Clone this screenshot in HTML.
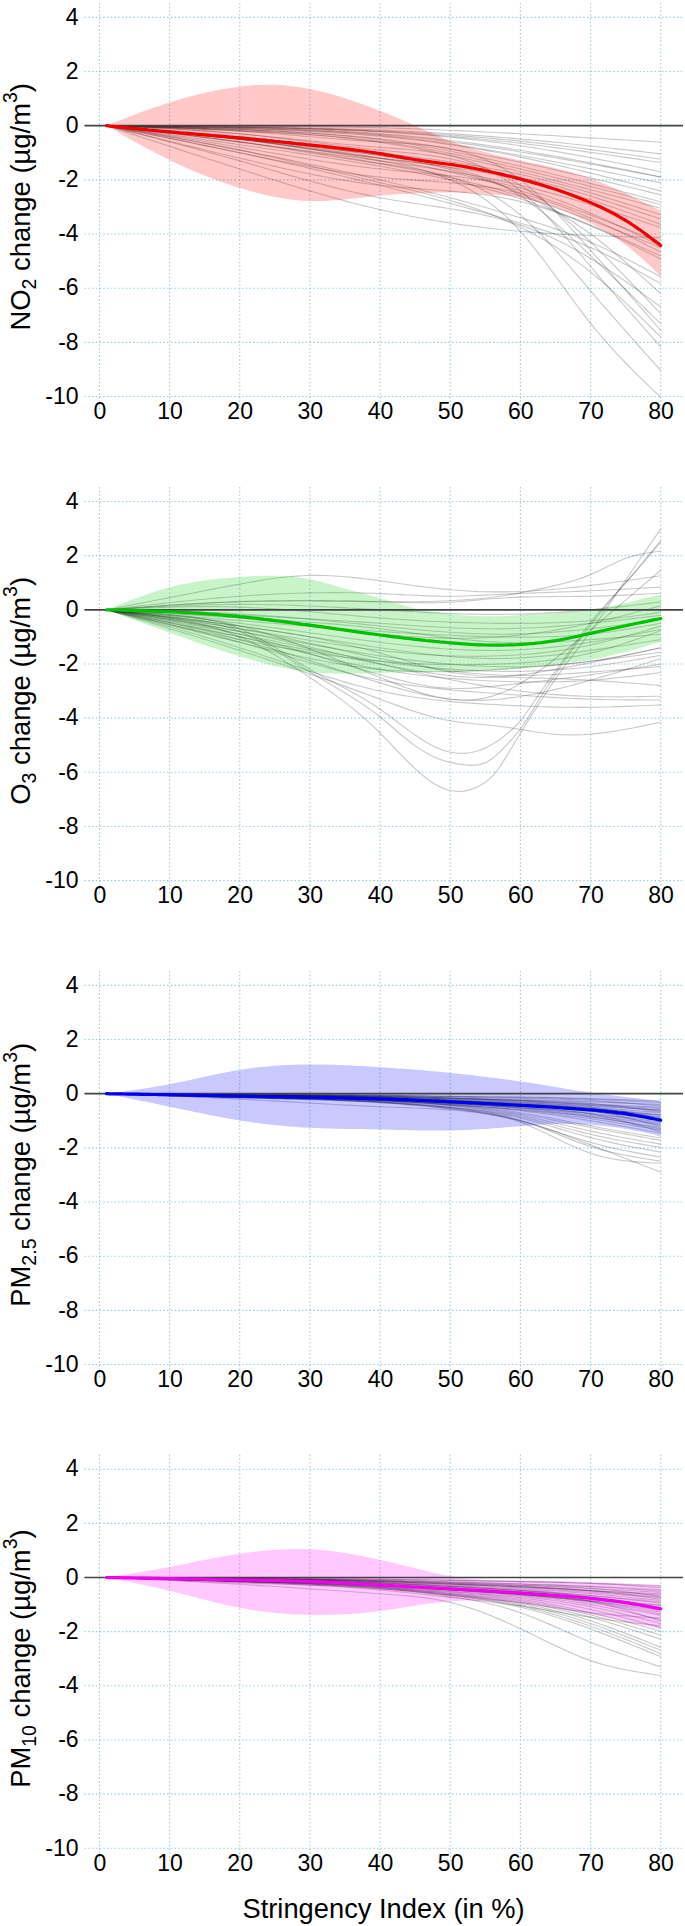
<!DOCTYPE html>
<html><head><meta charset="utf-8"><style>
html,body{margin:0;padding:0;background:#fff;width:685px;height:1926px;overflow:hidden}
svg{display:block}
</style></head><body><svg width="685" height="1926" viewBox="0 0 685 1926"><g stroke="#9ccbe2" stroke-width="1.1" stroke-dasharray="1.5 2.25" fill="none"><line x1="84.5" y1="17.38" x2="682" y2="17.38"/><line x1="84.5" y1="71.54" x2="682" y2="71.54"/><line x1="84.5" y1="125.70" x2="682" y2="125.70"/><line x1="84.5" y1="179.86" x2="682" y2="179.86"/><line x1="84.5" y1="234.02" x2="682" y2="234.02"/><line x1="84.5" y1="288.18" x2="682" y2="288.18"/><line x1="84.5" y1="342.34" x2="682" y2="342.34"/><line x1="84.5" y1="396.50" x2="682" y2="396.50"/><line x1="99.45" y1="2.98" x2="99.45" y2="411.50"/><line x1="169.61" y1="2.98" x2="169.61" y2="411.50"/><line x1="239.77" y1="2.98" x2="239.77" y2="411.50"/><line x1="309.93" y1="2.98" x2="309.93" y2="411.50"/><line x1="380.09" y1="2.98" x2="380.09" y2="411.50"/><line x1="450.25" y1="2.98" x2="450.25" y2="411.50"/><line x1="520.41" y1="2.98" x2="520.41" y2="411.50"/><line x1="590.57" y1="2.98" x2="590.57" y2="411.50"/><line x1="660.73" y1="2.98" x2="660.73" y2="411.50"/></g><g fill="none" stroke="#000" stroke-opacity="0.21" stroke-width="1.15" stroke-linejoin="round"><polyline points="106.5,125.7 113.5,125.7 120.5,125.8 127.5,125.8 134.5,125.9 141.5,125.9 148.6,125.9 155.6,126.0 162.6,126.0 169.6,126.1 176.6,126.1 183.6,126.1 190.7,126.2 197.7,126.2 204.7,126.2 211.7,126.3 218.7,126.3 225.7,126.3 232.8,126.3 239.8,126.4 246.8,126.4 253.8,126.4 260.8,126.5 267.8,126.5 274.9,126.5 281.9,126.5 288.9,126.6 295.9,126.6 302.9,126.7 309.9,126.7 316.9,126.8 324.0,126.9 331.0,126.9 338.0,127.0 345.0,127.1 352.0,127.2 359.0,127.4 366.1,127.5 373.1,127.6 380.1,127.8 387.1,128.0 394.1,128.2 401.1,128.4 408.2,128.6 415.2,128.9 422.2,129.1 429.2,129.4 436.2,129.7 443.2,130.0 450.2,130.3 457.3,130.6 464.3,130.9 471.3,131.3 478.3,131.6 485.3,132.0 492.3,132.3 499.4,132.7 506.4,133.1 513.4,133.4 520.4,133.8 527.4,134.2 534.4,134.6 541.5,135.0 548.5,135.4 555.5,135.8 562.5,136.2 569.5,136.6 576.5,137.1 583.6,137.5 590.6,137.9 597.6,138.3 604.6,138.8 611.6,139.2 618.6,139.6 625.7,140.0 632.7,140.5 639.7,140.9 646.7,141.3 653.7,141.8 660.7,142.2"/><polyline points="106.5,125.7 113.5,125.8 120.5,125.8 127.5,125.9 134.5,126.0 141.5,126.0 148.6,126.1 155.6,126.2 162.6,126.2 169.6,126.3 176.6,126.4 183.6,126.4 190.7,126.5 197.7,126.6 204.7,126.7 211.7,126.7 218.7,126.8 225.7,126.9 232.8,127.0 239.8,127.1 246.8,127.1 253.8,127.2 260.8,127.3 267.8,127.4 274.9,127.5 281.9,127.6 288.9,127.7 295.9,127.9 302.9,128.0 309.9,128.1 316.9,128.3 324.0,128.4 331.0,128.6 338.0,128.8 345.0,129.0 352.0,129.2 359.0,129.4 366.1,129.6 373.1,129.9 380.1,130.1 387.1,130.4 394.1,130.7 401.1,131.0 408.2,131.3 415.2,131.7 422.2,132.0 429.2,132.4 436.2,132.8 443.2,133.2 450.2,133.7 457.3,134.1 464.3,134.6 471.3,135.1 478.3,135.6 485.3,136.1 492.3,136.6 499.4,137.2 506.4,137.8 513.4,138.4 520.4,139.0 527.4,139.6 534.4,140.2 541.5,140.9 548.5,141.6 555.5,142.3 562.5,143.0 569.5,143.7 576.5,144.5 583.6,145.2 590.6,146.0 597.6,146.7 604.6,147.5 611.6,148.3 618.6,149.1 625.7,149.9 632.7,150.6 639.7,151.4 646.7,152.3 653.7,153.1 660.7,153.9"/><polyline points="106.5,125.7 113.5,125.8 120.5,125.8 127.5,125.9 134.5,125.9 141.5,126.0 148.6,126.0 155.6,126.1 162.6,126.2 169.6,126.2 176.6,126.3 183.6,126.4 190.7,126.4 197.7,126.5 204.7,126.6 211.7,126.7 218.7,126.8 225.7,126.9 232.8,126.9 239.8,127.1 246.8,127.2 253.8,127.3 260.8,127.4 267.8,127.5 274.9,127.7 281.9,127.8 288.9,128.0 295.9,128.1 302.9,128.3 309.9,128.5 316.9,128.7 324.0,128.9 331.0,129.1 338.0,129.3 345.0,129.6 352.0,129.8 359.0,130.1 366.1,130.4 373.1,130.7 380.1,131.0 387.1,131.3 394.1,131.6 401.1,132.0 408.2,132.4 415.2,132.8 422.2,133.2 429.2,133.6 436.2,134.1 443.2,134.5 450.2,135.0 457.3,135.5 464.3,136.1 471.3,136.6 478.3,137.2 485.3,137.8 492.3,138.4 499.4,139.1 506.4,139.7 513.4,140.4 520.4,141.1 527.4,141.9 534.4,142.7 541.5,143.4 548.5,144.3 555.5,145.1 562.5,146.0 569.5,146.8 576.5,147.7 583.6,148.6 590.6,149.6 597.6,150.5 604.6,151.4 611.6,152.4 618.6,153.4 625.7,154.3 632.7,155.3 639.7,156.3 646.7,157.3 653.7,158.3 660.7,159.3"/><polyline points="106.5,125.7 113.5,125.8 120.5,125.8 127.5,125.9 134.5,126.0 141.5,126.1 148.6,126.1 155.6,126.2 162.6,126.3 169.6,126.4 176.6,126.5 183.6,126.5 190.7,126.6 197.7,126.7 204.7,126.8 211.7,126.9 218.7,127.0 225.7,127.1 232.8,127.2 239.8,127.3 246.8,127.4 253.8,127.6 260.8,127.7 267.8,127.8 274.9,127.9 281.9,128.1 288.9,128.2 295.9,128.4 302.9,128.6 309.9,128.8 316.9,129.0 324.0,129.2 331.0,129.4 338.0,129.7 345.0,129.9 352.0,130.2 359.0,130.5 366.1,130.8 373.1,131.2 380.1,131.5 387.1,131.9 394.1,132.3 401.1,132.7 408.2,133.2 415.2,133.6 422.2,134.1 429.2,134.6 436.2,135.2 443.2,135.7 450.2,136.3 457.3,136.9 464.3,137.5 471.3,138.2 478.3,138.8 485.3,139.5 492.3,140.2 499.4,141.0 506.4,141.7 513.4,142.5 520.4,143.3 527.4,144.1 534.4,145.0 541.5,145.8 548.5,146.7 555.5,147.6 562.5,148.5 569.5,149.5 576.5,150.4 583.6,151.4 590.6,152.4 597.6,153.3 604.6,154.3 611.6,155.3 618.6,156.4 625.7,157.4 632.7,158.4 639.7,159.4 646.7,160.5 653.7,161.5 660.7,162.5"/><polyline points="106.5,125.7 113.5,125.8 120.5,125.8 127.5,125.9 134.5,126.0 141.5,126.1 148.6,126.1 155.6,126.2 162.6,126.3 169.6,126.4 176.6,126.4 183.6,126.5 190.7,126.6 197.7,126.7 204.7,126.8 211.7,126.9 218.7,127.0 225.7,127.1 232.8,127.2 239.8,127.3 246.8,127.4 253.8,127.6 260.8,127.7 267.8,127.8 274.9,128.0 281.9,128.1 288.9,128.3 295.9,128.5 302.9,128.7 309.9,128.9 316.9,129.1 324.0,129.3 331.0,129.6 338.0,129.8 345.0,130.1 352.0,130.4 359.0,130.7 366.1,131.1 373.1,131.5 380.1,131.8 387.1,132.3 394.1,132.7 401.1,133.2 408.2,133.7 415.2,134.2 422.2,134.7 429.2,135.3 436.2,135.9 443.2,136.5 450.2,137.2 457.3,137.9 464.3,138.6 471.3,139.4 478.3,140.2 485.3,141.0 492.3,141.9 499.4,142.8 506.4,143.7 513.4,144.7 520.4,145.7 527.4,146.8 534.4,147.9 541.5,149.0 548.5,150.2 555.5,151.4 562.5,152.6 569.5,153.9 576.5,155.1 583.6,156.4 590.6,157.8 597.6,159.1 604.6,160.5 611.6,161.8 618.6,163.2 625.7,164.6 632.7,166.0 639.7,167.5 646.7,168.9 653.7,170.3 660.7,171.7"/><polyline points="106.5,125.7 113.5,125.8 120.5,125.9 127.5,126.0 134.5,126.1 141.5,126.1 148.6,126.2 155.6,126.3 162.6,126.4 169.6,126.5 176.6,126.6 183.6,126.7 190.7,126.8 197.7,127.0 204.7,127.1 211.7,127.2 218.7,127.3 225.7,127.4 232.8,127.6 239.8,127.7 246.8,127.9 253.8,128.0 260.8,128.2 267.8,128.4 274.9,128.6 281.9,128.8 288.9,129.0 295.9,129.2 302.9,129.5 309.9,129.7 316.9,130.0 324.0,130.3 331.0,130.6 338.0,131.0 345.0,131.4 352.0,131.8 359.0,132.2 366.1,132.6 373.1,133.1 380.1,133.6 387.1,134.2 394.1,134.8 401.1,135.4 408.2,136.0 415.2,136.7 422.2,137.4 429.2,138.1 436.2,138.9 443.2,139.7 450.2,140.5 457.3,141.3 464.3,142.2 471.3,143.1 478.3,144.1 485.3,145.0 492.3,146.0 499.4,147.1 506.4,148.1 513.4,149.2 520.4,150.3 527.4,151.5 534.4,152.7 541.5,153.9 548.5,155.1 555.5,156.3 562.5,157.6 569.5,158.9 576.5,160.2 583.6,161.5 590.6,162.9 597.6,164.2 604.6,165.6 611.6,167.0 618.6,168.4 625.7,169.8 632.7,171.2 639.7,172.6 646.7,174.0 653.7,175.5 660.7,176.9"/><polyline points="106.5,125.7 113.5,125.8 120.5,126.0 127.5,126.1 134.5,126.2 141.5,126.4 148.6,126.5 155.6,126.6 162.6,126.8 169.6,126.9 176.6,127.1 183.6,127.2 190.7,127.3 197.7,127.5 204.7,127.6 211.7,127.8 218.7,127.9 225.7,128.1 232.8,128.2 239.8,128.4 246.8,128.6 253.8,128.7 260.8,128.9 267.8,129.1 274.9,129.3 281.9,129.5 288.9,129.7 295.9,129.9 302.9,130.2 309.9,130.5 316.9,130.7 324.0,131.1 331.0,131.4 338.0,131.7 345.0,132.1 352.0,132.5 359.0,133.0 366.1,133.5 373.1,134.0 380.1,134.5 387.1,135.1 394.1,135.7 401.1,136.3 408.2,137.0 415.2,137.8 422.2,138.5 429.2,139.3 436.2,140.1 443.2,140.9 450.2,141.8 457.3,142.7 464.3,143.6 471.3,144.6 478.3,145.6 485.3,146.6 492.3,147.6 499.4,148.7 506.4,149.8 513.4,150.8 520.4,152.0 527.4,153.1 534.4,154.3 541.5,155.4 548.5,156.6 555.5,157.8 562.5,159.1 569.5,160.3 576.5,161.5 583.6,162.8 590.6,164.1 597.6,165.3 604.6,166.6 611.6,167.9 618.6,169.2 625.7,170.5 632.7,171.9 639.7,173.2 646.7,174.5 653.7,175.8 660.7,177.2"/><polyline points="106.5,125.7 113.5,125.8 120.5,126.0 127.5,126.1 134.5,126.2 141.5,126.3 148.6,126.5 155.6,126.6 162.6,126.7 169.6,126.9 176.6,127.0 183.6,127.2 190.7,127.3 197.7,127.5 204.7,127.6 211.7,127.8 218.7,127.9 225.7,128.1 232.8,128.2 239.8,128.4 246.8,128.6 253.8,128.8 260.8,129.0 267.8,129.2 274.9,129.4 281.9,129.6 288.9,129.8 295.9,130.1 302.9,130.4 309.9,130.7 316.9,131.0 324.0,131.4 331.0,131.8 338.0,132.2 345.0,132.6 352.0,133.1 359.0,133.6 366.1,134.2 373.1,134.8 380.1,135.4 387.1,136.1 394.1,136.8 401.1,137.6 408.2,138.4 415.2,139.2 422.2,140.1 429.2,141.0 436.2,141.9 443.2,142.9 450.2,143.9 457.3,145.0 464.3,146.1 471.3,147.1 478.3,148.3 485.3,149.4 492.3,150.6 499.4,151.8 506.4,153.0 513.4,154.2 520.4,155.5 527.4,156.8 534.4,158.0 541.5,159.3 548.5,160.6 555.5,162.0 562.5,163.3 569.5,164.7 576.5,166.0 583.6,167.4 590.6,168.8 597.6,170.1 604.6,171.5 611.6,172.9 618.6,174.3 625.7,175.7 632.7,177.2 639.7,178.6 646.7,180.0 653.7,181.4 660.7,182.8"/><polyline points="106.5,125.7 113.5,125.9 120.5,126.0 127.5,126.2 134.5,126.4 141.5,126.5 148.6,126.7 155.6,126.9 162.6,127.1 169.6,127.2 176.6,127.4 183.6,127.6 190.7,127.8 197.7,127.9 204.7,128.1 211.7,128.3 218.7,128.5 225.7,128.7 232.8,128.9 239.8,129.1 246.8,129.3 253.8,129.5 260.8,129.7 267.8,129.9 274.9,130.2 281.9,130.4 288.9,130.7 295.9,131.0 302.9,131.3 309.9,131.6 316.9,131.9 324.0,132.3 331.0,132.7 338.0,133.1 345.0,133.5 352.0,134.0 359.0,134.5 366.1,135.1 373.1,135.6 380.1,136.3 387.1,136.9 394.1,137.6 401.1,138.4 408.2,139.2 415.2,140.0 422.2,140.8 429.2,141.7 436.2,142.7 443.2,143.7 450.2,144.7 457.3,145.8 464.3,146.9 471.3,148.0 478.3,149.2 485.3,150.4 492.3,151.7 499.4,153.0 506.4,154.3 513.4,155.7 520.4,157.1 527.4,158.6 534.4,160.1 541.5,161.6 548.5,163.1 555.5,164.7 562.5,166.4 569.5,168.0 576.5,169.7 583.6,171.4 590.6,173.1 597.6,174.8 604.6,176.6 611.6,178.3 618.6,180.1 625.7,181.9 632.7,183.7 639.7,185.5 646.7,187.3 653.7,189.1 660.7,191.0"/><polyline points="106.5,125.7 113.5,125.9 120.5,126.1 127.5,126.3 134.5,126.5 141.5,126.7 148.6,126.9 155.6,127.1 162.6,127.3 169.6,127.5 176.6,127.7 183.6,127.9 190.7,128.1 197.7,128.3 204.7,128.6 211.7,128.8 218.7,129.0 225.7,129.3 232.8,129.5 239.8,129.8 246.8,130.0 253.8,130.3 260.8,130.6 267.8,130.9 274.9,131.2 281.9,131.5 288.9,131.9 295.9,132.2 302.9,132.6 309.9,133.0 316.9,133.5 324.0,133.9 331.0,134.4 338.0,135.0 345.0,135.5 352.0,136.1 359.0,136.8 366.1,137.4 373.1,138.2 380.1,138.9 387.1,139.7 394.1,140.6 401.1,141.5 408.2,142.4 415.2,143.4 422.2,144.4 429.2,145.5 436.2,146.6 443.2,147.7 450.2,148.9 457.3,150.1 464.3,151.3 471.3,152.6 478.3,153.9 485.3,155.2 492.3,156.6 499.4,157.9 506.4,159.4 513.4,160.8 520.4,162.3 527.4,163.7 534.4,165.2 541.5,166.8 548.5,168.3 555.5,169.9 562.5,171.5 569.5,173.1 576.5,174.7 583.6,176.3 590.6,177.9 597.6,179.6 604.6,181.2 611.6,182.9 618.6,184.6 625.7,186.3 632.7,188.0 639.7,189.7 646.7,191.4 653.7,193.1 660.7,194.8"/><polyline points="106.5,125.7 113.5,125.9 120.5,126.1 127.5,126.3 134.5,126.5 141.5,126.7 148.6,126.8 155.6,127.0 162.6,127.2 169.6,127.4 176.6,127.7 183.6,127.9 190.7,128.1 197.7,128.3 204.7,128.5 211.7,128.8 218.7,129.0 225.7,129.2 232.8,129.5 239.8,129.8 246.8,130.0 253.8,130.3 260.8,130.6 267.8,130.9 274.9,131.2 281.9,131.6 288.9,131.9 295.9,132.3 302.9,132.8 309.9,133.2 316.9,133.7 324.0,134.2 331.0,134.7 338.0,135.3 345.0,135.9 352.0,136.6 359.0,137.3 366.1,138.1 373.1,138.9 380.1,139.8 387.1,140.7 394.1,141.7 401.1,142.7 408.2,143.8 415.2,144.9 422.2,146.1 429.2,147.3 436.2,148.5 443.2,149.8 450.2,151.2 457.3,152.6 464.3,154.0 471.3,155.4 478.3,156.9 485.3,158.4 492.3,159.9 499.4,161.5 506.4,163.1 513.4,164.7 520.4,166.3 527.4,168.0 534.4,169.6 541.5,171.3 548.5,173.0 555.5,174.8 562.5,176.5 569.5,178.2 576.5,180.0 583.6,181.8 590.6,183.6 597.6,185.4 604.6,187.2 611.6,189.0 618.6,190.8 625.7,192.6 632.7,194.4 639.7,196.3 646.7,198.1 653.7,200.0 660.7,201.8"/><polyline points="106.5,125.7 113.5,126.0 120.5,126.3 127.5,126.5 134.5,126.8 141.5,127.1 148.6,127.4 155.6,127.6 162.6,127.9 169.6,128.2 176.6,128.5 183.6,128.8 190.7,129.1 197.7,129.3 204.7,129.6 211.7,129.9 218.7,130.2 225.7,130.5 232.8,130.8 239.8,131.1 246.8,131.4 253.8,131.7 260.8,132.1 267.8,132.4 274.9,132.7 281.9,133.1 288.9,133.5 295.9,133.9 302.9,134.3 309.9,134.8 316.9,135.3 324.0,135.8 331.0,136.3 338.0,136.9 345.0,137.6 352.0,138.3 359.0,139.0 366.1,139.8 373.1,140.6 380.1,141.5 387.1,142.5 394.1,143.5 401.1,144.6 408.2,145.7 415.2,146.9 422.2,148.1 429.2,149.4 436.2,150.7 443.2,152.0 450.2,153.4 457.3,154.9 464.3,156.3 471.3,157.8 478.3,159.3 485.3,160.9 492.3,162.5 499.4,164.1 506.4,165.7 513.4,167.4 520.4,169.0 527.4,170.7 534.4,172.4 541.5,174.1 548.5,175.8 555.5,177.6 562.5,179.3 569.5,181.1 576.5,182.8 583.6,184.6 590.6,186.4 597.6,188.2 604.6,190.0 611.6,191.8 618.6,193.6 625.7,195.4 632.7,197.2 639.7,199.0 646.7,200.9 653.7,202.7 660.7,204.5"/><polyline points="106.5,125.7 113.5,125.9 120.5,126.1 127.5,126.3 134.5,126.6 141.5,126.8 148.6,127.0 155.6,127.2 162.6,127.5 169.6,127.7 176.6,127.9 183.6,128.2 190.7,128.4 197.7,128.7 204.7,129.0 211.7,129.2 218.7,129.5 225.7,129.8 232.8,130.1 239.8,130.4 246.8,130.8 253.8,131.1 260.8,131.5 267.8,131.9 274.9,132.3 281.9,132.7 288.9,133.1 295.9,133.6 302.9,134.1 309.9,134.7 316.9,135.2 324.0,135.8 331.0,136.5 338.0,137.2 345.0,137.9 352.0,138.7 359.0,139.6 366.1,140.5 373.1,141.4 380.1,142.4 387.1,143.5 394.1,144.6 401.1,145.8 408.2,147.0 415.2,148.3 422.2,149.6 429.2,150.9 436.2,152.4 443.2,153.8 450.2,155.3 457.3,156.8 464.3,158.4 471.3,160.0 478.3,161.6 485.3,163.2 492.3,164.9 499.4,166.6 506.4,168.3 513.4,170.0 520.4,171.7 527.4,173.5 534.4,175.3 541.5,177.0 548.5,178.8 555.5,180.6 562.5,182.4 569.5,184.2 576.5,186.0 583.6,187.9 590.6,189.7 597.6,191.5 604.6,193.4 611.6,195.2 618.6,197.1 625.7,199.0 632.7,200.8 639.7,202.7 646.7,204.6 653.7,206.4 660.7,208.3"/><polyline points="106.5,125.7 113.5,126.2 120.5,126.7 127.5,127.2 134.5,127.7 141.5,128.3 148.6,128.8 155.6,129.3 162.6,129.9 169.6,130.4 176.6,131.0 183.6,131.5 190.7,132.1 197.7,132.7 204.7,133.3 211.7,133.9 218.7,134.5 225.7,135.2 232.8,135.8 239.8,136.5 246.8,137.2 253.8,138.0 260.8,138.7 267.8,139.4 274.9,140.2 281.9,141.0 288.9,141.8 295.9,142.6 302.9,143.4 309.9,144.2 316.9,145.1 324.0,145.9 331.0,146.8 338.0,147.6 345.0,148.5 352.0,149.3 359.0,150.2 366.1,151.1 373.1,151.9 380.1,152.8 387.1,153.6 394.1,154.5 401.1,155.4 408.2,156.3 415.2,157.1 422.2,158.0 429.2,159.0 436.2,159.9 443.2,160.9 450.2,161.9 457.3,162.9 464.3,164.0 471.3,165.1 478.3,166.3 485.3,167.5 492.3,168.8 499.4,170.1 506.4,171.5 513.4,172.9 520.4,174.4 527.4,176.0 534.4,177.7 541.5,179.4 548.5,181.2 555.5,183.0 562.5,184.9 569.5,186.8 576.5,188.8 583.6,190.8 590.6,192.9 597.6,194.9 604.6,197.1 611.6,199.2 618.6,201.4 625.7,203.6 632.7,205.8 639.7,208.1 646.7,210.3 653.7,212.5 660.7,214.8"/><polyline points="106.5,125.7 113.5,126.3 120.5,126.9 127.5,127.4 134.5,128.0 141.5,128.6 148.6,129.2 155.6,129.8 162.6,130.4 169.6,131.0 176.6,131.6 183.6,132.3 190.7,132.9 197.7,133.6 204.7,134.3 211.7,134.9 218.7,135.7 225.7,136.4 232.8,137.1 239.8,137.9 246.8,138.7 253.8,139.5 260.8,140.3 267.8,141.1 274.9,142.0 281.9,142.8 288.9,143.7 295.9,144.6 302.9,145.5 309.9,146.4 316.9,147.3 324.0,148.2 331.0,149.1 338.0,150.1 345.0,151.0 352.0,151.9 359.0,152.8 366.1,153.7 373.1,154.6 380.1,155.5 387.1,156.4 394.1,157.2 401.1,158.1 408.2,159.0 415.2,159.9 422.2,160.8 429.2,161.7 436.2,162.6 443.2,163.6 450.2,164.6 457.3,165.6 464.3,166.7 471.3,167.8 478.3,169.0 485.3,170.2 492.3,171.4 499.4,172.8 506.4,174.2 513.4,175.6 520.4,177.2 527.4,178.8 534.4,180.5 541.5,182.2 548.5,184.0 555.5,185.9 562.5,187.9 569.5,189.9 576.5,191.9 583.6,194.0 590.6,196.2 597.6,198.4 604.6,200.6 611.6,202.8 618.6,205.1 625.7,207.4 632.7,209.7 639.7,212.1 646.7,214.4 653.7,216.8 660.7,219.1"/><polyline points="106.5,125.7 113.5,126.3 120.5,127.0 127.5,127.6 134.5,128.3 141.5,128.9 148.6,129.6 155.6,130.3 162.6,130.9 169.6,131.6 176.6,132.3 183.6,133.0 190.7,133.7 197.7,134.5 204.7,135.2 211.7,136.0 218.7,136.8 225.7,137.6 232.8,138.4 239.8,139.2 246.8,140.1 253.8,141.0 260.8,141.9 267.8,142.8 274.9,143.8 281.9,144.7 288.9,145.7 295.9,146.6 302.9,147.6 309.9,148.6 316.9,149.6 324.0,150.6 331.0,151.5 338.0,152.5 345.0,153.5 352.0,154.5 359.0,155.4 366.1,156.4 373.1,157.3 380.1,158.2 387.1,159.1 394.1,160.0 401.1,160.9 408.2,161.7 415.2,162.6 422.2,163.5 429.2,164.4 436.2,165.3 443.2,166.3 450.2,167.2 457.3,168.2 464.3,169.3 471.3,170.4 478.3,171.6 485.3,172.8 492.3,174.0 499.4,175.4 506.4,176.8 513.4,178.3 520.4,179.9 527.4,181.5 534.4,183.3 541.5,185.1 548.5,187.0 555.5,189.0 562.5,191.0 569.5,193.2 576.5,195.3 583.6,197.5 590.6,199.8 597.6,202.1 604.6,204.5 611.6,206.9 618.6,209.3 625.7,211.8 632.7,214.2 639.7,216.7 646.7,219.2 653.7,221.8 660.7,224.3"/><polyline points="106.5,125.7 113.5,126.5 120.5,127.4 127.5,128.2 134.5,129.0 141.5,129.9 148.6,130.7 155.6,131.6 162.6,132.4 169.6,133.3 176.6,134.1 183.6,135.0 190.7,135.8 197.7,136.7 204.7,137.5 211.7,138.4 218.7,139.3 225.7,140.2 232.8,141.1 239.8,141.9 246.8,142.8 253.8,143.8 260.8,144.7 267.8,145.6 274.9,146.5 281.9,147.4 288.9,148.4 295.9,149.3 302.9,150.3 309.9,151.2 316.9,152.2 324.0,153.1 331.0,154.1 338.0,155.0 345.0,156.0 352.0,157.0 359.0,158.0 366.1,158.9 373.1,159.9 380.1,160.9 387.1,161.9 394.1,162.9 401.1,163.9 408.2,164.9 415.2,165.9 422.2,167.0 429.2,168.0 436.2,169.1 443.2,170.2 450.2,171.4 457.3,172.6 464.3,173.8 471.3,175.0 478.3,176.3 485.3,177.7 492.3,179.1 499.4,180.6 506.4,182.1 513.4,183.6 520.4,185.3 527.4,187.0 534.4,188.7 541.5,190.6 548.5,192.4 555.5,194.4 562.5,196.4 569.5,198.4 576.5,200.5 583.6,202.6 590.6,204.7 597.6,206.9 604.6,209.1 611.6,211.4 618.6,213.6 625.7,215.9 632.7,218.2 639.7,220.5 646.7,222.9 653.7,225.2 660.7,227.5"/><polyline points="106.5,125.7 113.5,128.0 120.5,130.3 127.5,132.6 134.5,134.9 141.5,137.2 148.6,139.5 155.6,141.7 162.6,144.0 169.6,146.3 176.6,148.6 183.6,150.9 190.7,153.2 197.7,155.4 204.7,157.7 211.7,160.0 218.7,162.2 225.7,164.5 232.8,166.8 239.8,169.0 246.8,171.3 253.8,173.5 260.8,175.8 267.8,178.0 274.9,180.2 281.9,182.4 288.9,184.6 295.9,186.7 302.9,188.8 309.9,190.9 316.9,193.0 324.0,195.0 331.0,197.0 338.0,198.9 345.0,200.9 352.0,202.7 359.0,204.5 366.1,206.3 373.1,208.0 380.1,209.6 387.1,211.2 394.1,212.8 401.1,214.3 408.2,215.7 415.2,217.0 422.2,218.3 429.2,219.6 436.2,220.8 443.2,221.9 450.2,223.0 457.3,224.1 464.3,225.1 471.3,226.0 478.3,226.9 485.3,227.8 492.3,228.6 499.4,229.3 506.4,230.0 513.4,230.7 520.4,231.3 527.4,231.9 534.4,232.4 541.5,232.9 548.5,233.4 555.5,233.8 562.5,234.2 569.5,234.6 576.5,234.9 583.6,235.2 590.6,235.5 597.6,235.8 604.6,236.0 611.6,236.2 618.6,236.5 625.7,236.7 632.7,236.8 639.7,237.0 646.7,237.2 653.7,237.4 660.7,237.5"/><polyline points="106.5,125.7 113.5,126.4 120.5,127.1 127.5,127.7 134.5,128.4 141.5,129.1 148.6,129.8 155.6,130.5 162.6,131.2 169.6,131.9 176.6,132.6 183.6,133.3 190.7,134.0 197.7,134.7 204.7,135.5 211.7,136.2 218.7,137.0 225.7,137.7 232.8,138.5 239.8,139.2 246.8,140.0 253.8,140.8 260.8,141.6 267.8,142.4 274.9,143.3 281.9,144.1 288.9,145.0 295.9,145.9 302.9,146.8 309.9,147.7 316.9,148.6 324.0,149.6 331.0,150.6 338.0,151.6 345.0,152.6 352.0,153.7 359.0,154.8 366.1,155.9 373.1,157.0 380.1,158.2 387.1,159.4 394.1,160.7 401.1,161.9 408.2,163.2 415.2,164.6 422.2,166.0 429.2,167.4 436.2,168.9 443.2,170.4 450.2,172.0 457.3,173.6 464.3,175.3 471.3,177.0 478.3,178.8 485.3,180.6 492.3,182.5 499.4,184.5 506.4,186.5 513.4,188.6 520.4,190.7 527.4,192.9 534.4,195.1 541.5,197.5 548.5,199.8 555.5,202.3 562.5,204.7 569.5,207.3 576.5,209.8 583.6,212.4 590.6,215.1 597.6,217.7 604.6,220.4 611.6,223.2 618.6,225.9 625.7,228.7 632.7,231.5 639.7,234.3 646.7,237.1 653.7,239.9 660.7,242.7"/><polyline points="106.5,125.7 113.5,126.8 120.5,127.9 127.5,129.0 134.5,130.2 141.5,131.3 148.6,132.4 155.6,133.5 162.6,134.6 169.6,135.8 176.6,136.9 183.6,138.0 190.7,139.2 197.7,140.3 204.7,141.5 211.7,142.6 218.7,143.8 225.7,145.0 232.8,146.2 239.8,147.4 246.8,148.6 253.8,149.8 260.8,151.0 267.8,152.2 274.9,153.4 281.9,154.6 288.9,155.8 295.9,157.0 302.9,158.1 309.9,159.3 316.9,160.4 324.0,161.5 331.0,162.6 338.0,163.6 345.0,164.6 352.0,165.6 359.0,166.5 366.1,167.4 373.1,168.2 380.1,169.0 387.1,169.8 394.1,170.5 401.1,171.1 408.2,171.8 415.2,172.4 422.2,173.0 429.2,173.7 436.2,174.4 443.2,175.1 450.2,175.8 457.3,176.6 464.3,177.5 471.3,178.4 478.3,179.4 485.3,180.6 492.3,181.8 499.4,183.1 506.4,184.6 513.4,186.2 520.4,188.0 527.4,189.9 534.4,192.0 541.5,194.2 548.5,196.5 555.5,199.0 562.5,201.6 569.5,204.3 576.5,207.2 583.6,210.1 590.6,213.1 597.6,216.2 604.6,219.3 611.6,222.5 618.6,225.8 625.7,229.1 632.7,232.5 639.7,235.9 646.7,239.3 653.7,242.8 660.7,246.2"/><polyline points="106.5,125.7 113.5,126.5 120.5,127.3 127.5,128.2 134.5,129.0 141.5,129.8 148.6,130.6 155.6,131.5 162.6,132.3 169.6,133.1 176.6,134.0 183.6,134.8 190.7,135.7 197.7,136.6 204.7,137.4 211.7,138.3 218.7,139.2 225.7,140.1 232.8,141.0 239.8,141.9 246.8,142.9 253.8,143.8 260.8,144.8 267.8,145.8 274.9,146.8 281.9,147.8 288.9,148.8 295.9,149.8 302.9,150.9 309.9,151.9 316.9,153.0 324.0,154.1 331.0,155.3 338.0,156.4 345.0,157.5 352.0,158.7 359.0,159.9 366.1,161.1 373.1,162.4 380.1,163.6 387.1,164.9 394.1,166.2 401.1,167.5 408.2,168.9 415.2,170.2 422.2,171.7 429.2,173.1 436.2,174.6 443.2,176.1 450.2,177.7 457.3,179.3 464.3,181.0 471.3,182.7 478.3,184.4 485.3,186.2 492.3,188.1 499.4,190.0 506.4,192.0 513.4,194.0 520.4,196.1 527.4,198.3 534.4,200.5 541.5,202.8 548.5,205.1 555.5,207.5 562.5,210.0 569.5,212.5 576.5,215.0 583.6,217.6 590.6,220.2 597.6,222.8 604.6,225.5 611.6,228.2 618.6,230.9 625.7,233.7 632.7,236.4 639.7,239.2 646.7,242.0 653.7,244.8 660.7,247.6"/><polyline points="106.5,125.7 113.5,127.1 120.5,128.5 127.5,129.9 134.5,131.4 141.5,132.8 148.6,134.2 155.6,135.6 162.6,137.0 169.6,138.4 176.6,139.9 183.6,141.3 190.7,142.7 197.7,144.2 204.7,145.6 211.7,147.0 218.7,148.5 225.7,149.9 232.8,151.3 239.8,152.8 246.8,154.2 253.8,155.7 260.8,157.1 267.8,158.6 274.9,160.0 281.9,161.4 288.9,162.8 295.9,164.1 302.9,165.5 309.9,166.8 316.9,168.0 324.0,169.3 331.0,170.4 338.0,171.6 345.0,172.7 352.0,173.7 359.0,174.7 366.1,175.6 373.1,176.4 380.1,177.2 387.1,177.8 394.1,178.5 401.1,179.0 408.2,179.6 415.2,180.1 422.2,180.6 429.2,181.1 436.2,181.6 443.2,182.2 450.2,182.7 457.3,183.4 464.3,184.1 471.3,184.8 478.3,185.7 485.3,186.6 492.3,187.7 499.4,188.9 506.4,190.3 513.4,191.7 520.4,193.4 527.4,195.2 534.4,197.2 541.5,199.4 548.5,201.7 555.5,204.1 562.5,206.7 569.5,209.4 576.5,212.3 583.6,215.2 590.6,218.2 597.6,221.3 604.6,224.5 611.6,227.8 618.6,231.1 625.7,234.5 632.7,237.9 639.7,241.4 646.7,244.9 653.7,248.4 660.7,251.9"/><polyline points="106.5,125.7 113.5,126.7 120.5,127.7 127.5,128.7 134.5,129.7 141.5,130.7 148.6,131.7 155.6,132.6 162.6,133.6 169.6,134.6 176.6,135.6 183.6,136.6 190.7,137.6 197.7,138.6 204.7,139.6 211.7,140.6 218.7,141.6 225.7,142.6 232.8,143.6 239.8,144.7 246.8,145.7 253.8,146.7 260.8,147.7 267.8,148.7 274.9,149.7 281.9,150.8 288.9,151.8 295.9,152.9 302.9,153.9 309.9,155.0 316.9,156.1 324.0,157.1 331.0,158.2 338.0,159.4 345.0,160.5 352.0,161.6 359.0,162.8 366.1,163.9 373.1,165.1 380.1,166.3 387.1,167.5 394.1,168.8 401.1,170.0 408.2,171.3 415.2,172.7 422.2,174.0 429.2,175.4 436.2,176.9 443.2,178.4 450.2,179.9 457.3,181.5 464.3,183.2 471.3,184.9 478.3,186.6 485.3,188.5 492.3,190.4 499.4,192.4 506.4,194.4 513.4,196.6 520.4,198.8 527.4,201.1 534.4,203.5 541.5,206.0 548.5,208.6 555.5,211.2 562.5,213.9 569.5,216.6 576.5,219.4 583.6,222.3 590.6,225.2 597.6,228.1 604.6,231.1 611.6,234.2 618.6,237.2 625.7,240.3 632.7,243.4 639.7,246.5 646.7,249.7 653.7,252.8 660.7,256.0"/><polyline points="106.5,125.7 113.5,127.4 120.5,129.2 127.5,130.9 134.5,132.6 141.5,134.3 148.6,136.1 155.6,137.8 162.6,139.5 169.6,141.2 176.6,142.9 183.6,144.7 190.7,146.4 197.7,148.1 204.7,149.8 211.7,151.5 218.7,153.2 225.7,154.8 232.8,156.5 239.8,158.2 246.8,159.9 253.8,161.5 260.8,163.2 267.8,164.8 274.9,166.4 281.9,168.0 288.9,169.5 295.9,171.0 302.9,172.5 309.9,174.0 316.9,175.4 324.0,176.7 331.0,178.0 338.0,179.2 345.0,180.4 352.0,181.5 359.0,182.6 366.1,183.6 373.1,184.5 380.1,185.3 387.1,186.0 394.1,186.7 401.1,187.3 408.2,187.9 415.2,188.4 422.2,188.9 429.2,189.5 436.2,190.0 443.2,190.5 450.2,191.1 457.3,191.7 464.3,192.4 471.3,193.2 478.3,194.0 485.3,194.9 492.3,196.0 499.4,197.1 506.4,198.5 513.4,199.9 520.4,201.5 527.4,203.3 534.4,205.3 541.5,207.4 548.5,209.6 555.5,212.0 562.5,214.6 569.5,217.2 576.5,220.0 583.6,222.9 590.6,225.9 597.6,228.9 604.6,232.0 611.6,235.3 618.6,238.5 625.7,241.8 632.7,245.2 639.7,248.6 646.7,252.0 653.7,255.5 660.7,258.9"/><polyline points="106.5,125.7 113.5,127.0 120.5,128.2 127.5,129.5 134.5,130.7 141.5,132.0 148.6,133.2 155.6,134.5 162.6,135.8 169.6,137.0 176.6,138.3 183.6,139.6 190.7,140.9 197.7,142.2 204.7,143.5 211.7,144.8 218.7,146.1 225.7,147.4 232.8,148.7 239.8,150.1 246.8,151.4 253.8,152.8 260.8,154.2 267.8,155.5 274.9,156.9 281.9,158.4 288.9,159.8 295.9,161.2 302.9,162.7 309.9,164.2 316.9,165.6 324.0,167.1 331.0,168.7 338.0,170.2 345.0,171.8 352.0,173.3 359.0,174.9 366.1,176.6 373.1,178.2 380.1,179.9 387.1,181.5 394.1,183.3 401.1,185.0 408.2,186.7 415.2,188.5 422.2,190.3 429.2,192.1 436.2,194.0 443.2,195.8 450.2,197.7 457.3,199.6 464.3,201.5 471.3,203.5 478.3,205.5 485.3,207.5 492.3,209.5 499.4,211.5 506.4,213.6 513.4,215.7 520.4,217.8 527.4,219.9 534.4,222.1 541.5,224.3 548.5,226.5 555.5,228.9 562.5,231.3 569.5,233.8 576.5,236.5 583.6,239.2 590.6,242.1 597.6,245.2 604.6,248.4 611.6,251.7 618.6,255.1 625.7,258.5 632.7,262.1 639.7,265.7 646.7,269.4 653.7,273.1 660.7,276.8"/><polyline points="106.5,125.7 113.5,127.1 120.5,128.5 127.5,129.9 134.5,131.3 141.5,132.6 148.6,134.0 155.6,135.4 162.6,136.8 169.6,138.3 176.6,139.7 183.6,141.1 190.7,142.5 197.7,144.0 204.7,145.4 211.7,146.9 218.7,148.3 225.7,149.8 232.8,151.3 239.8,152.8 246.8,154.3 253.8,155.8 260.8,157.3 267.8,158.9 274.9,160.5 281.9,162.0 288.9,163.6 295.9,165.2 302.9,166.8 309.9,168.4 316.9,170.1 324.0,171.7 331.0,173.4 338.0,175.0 345.0,176.7 352.0,178.4 359.0,180.1 366.1,181.8 373.1,183.5 380.1,185.3 387.1,187.0 394.1,188.8 401.1,190.6 408.2,192.4 415.2,194.2 422.2,196.0 429.2,197.8 436.2,199.6 443.2,201.5 450.2,203.4 457.3,205.3 464.3,207.2 471.3,209.1 478.3,211.1 485.3,213.0 492.3,215.0 499.4,217.0 506.4,219.1 513.4,221.1 520.4,223.2 527.4,225.3 534.4,227.4 541.5,229.6 548.5,231.8 555.5,234.2 562.5,236.6 569.5,239.1 576.5,241.8 583.6,244.6 590.6,247.6 597.6,250.7 604.6,254.0 611.6,257.4 618.6,260.9 625.7,264.5 632.7,268.2 639.7,272.0 646.7,275.8 653.7,279.7 660.7,283.6"/><polyline points="106.5,125.7 113.5,126.4 120.5,127.1 127.5,127.9 134.5,128.6 141.5,129.3 148.6,130.0 155.6,130.7 162.6,131.5 169.6,132.2 176.6,132.9 183.6,133.6 190.7,134.3 197.7,135.0 204.7,135.7 211.7,136.4 218.7,137.1 225.7,137.8 232.8,138.5 239.8,139.2 246.8,139.9 253.8,140.6 260.8,141.3 267.8,142.0 274.9,142.7 281.9,143.4 288.9,144.2 295.9,144.9 302.9,145.6 309.9,146.4 316.9,147.2 324.0,148.0 331.0,148.8 338.0,149.7 345.0,150.6 352.0,151.5 359.0,152.4 366.1,153.4 373.1,154.4 380.1,155.5 387.1,156.6 394.1,157.7 401.1,158.9 408.2,160.2 415.2,161.5 422.2,162.9 429.2,164.4 436.2,166.0 443.2,167.6 450.2,169.4 457.3,171.2 464.3,173.2 471.3,175.2 478.3,177.4 485.3,179.7 492.3,182.2 499.4,184.8 506.4,187.5 513.4,190.4 520.4,193.4 527.4,196.6 534.4,200.0 541.5,203.5 548.5,207.2 555.5,211.2 562.5,215.3 569.5,219.6 576.5,224.2 583.6,229.0 590.6,234.0 597.6,239.3 604.6,244.8 611.6,250.4 618.6,256.3 625.7,262.3 632.7,268.4 639.7,274.6 646.7,280.9 653.7,287.2 660.7,293.6"/><polyline points="106.5,125.7 113.5,127.5 120.5,129.3 127.5,131.1 134.5,132.8 141.5,134.6 148.6,136.4 155.6,138.2 162.6,140.1 169.6,141.9 176.6,143.7 183.6,145.6 190.7,147.4 197.7,149.3 204.7,151.2 211.7,153.1 218.7,155.0 225.7,157.0 232.8,158.9 239.8,160.9 246.8,162.9 253.8,164.9 260.8,167.0 267.8,169.0 274.9,171.0 281.9,173.1 288.9,175.1 295.9,177.1 302.9,179.1 309.9,181.0 316.9,182.9 324.0,184.8 331.0,186.6 338.0,188.4 345.0,190.2 352.0,191.8 359.0,193.4 366.1,194.9 373.1,196.4 380.1,197.7 387.1,199.0 394.1,200.2 401.1,201.3 408.2,202.4 415.2,203.5 422.2,204.5 429.2,205.5 436.2,206.6 443.2,207.6 450.2,208.7 457.3,209.9 464.3,211.1 471.3,212.4 478.3,213.8 485.3,215.4 492.3,217.0 499.4,218.8 506.4,220.7 513.4,222.8 520.4,225.1 527.4,227.6 534.4,230.2 541.5,233.1 548.5,236.1 555.5,239.4 562.5,242.8 569.5,246.4 576.5,250.2 583.6,254.2 590.6,258.4 597.6,262.7 604.6,267.2 611.6,271.9 618.6,276.6 625.7,281.5 632.7,286.5 639.7,291.5 646.7,296.6 653.7,301.7 660.7,306.9"/><polyline points="106.5,125.7 113.5,126.0 120.5,126.3 127.5,126.6 134.5,126.9 141.5,127.3 148.6,127.6 155.6,128.0 162.6,128.3 169.6,128.7 176.6,129.1 183.6,129.5 190.7,130.0 197.7,130.4 204.7,130.9 211.7,131.4 218.7,132.0 225.7,132.6 232.8,133.2 239.8,133.8 246.8,134.5 253.8,135.2 260.8,136.0 267.8,136.8 274.9,137.6 281.9,138.4 288.9,139.3 295.9,140.1 302.9,141.0 309.9,141.8 316.9,142.7 324.0,143.6 331.0,144.5 338.0,145.3 345.0,146.2 352.0,147.0 359.0,147.8 366.1,148.6 373.1,149.3 380.1,150.1 387.1,150.8 394.1,151.5 401.1,152.1 408.2,152.9 415.2,153.6 422.2,154.5 429.2,155.4 436.2,156.4 443.2,157.6 450.2,158.9 457.3,160.4 464.3,162.1 471.3,164.1 478.3,166.2 485.3,168.6 492.3,171.3 499.4,174.3 506.4,177.6 513.4,181.3 520.4,185.3 527.4,189.7 534.4,194.4 541.5,199.5 548.5,204.9 555.5,210.5 562.5,216.5 569.5,222.6 576.5,229.0 583.6,235.5 590.6,242.1 597.6,248.9 604.6,255.8 611.6,262.9 618.6,270.0 625.7,277.1 632.7,284.3 639.7,291.6 646.7,298.9 653.7,306.3 660.7,313.6"/><polyline points="106.5,125.7 113.5,126.3 120.5,126.9 127.5,127.6 134.5,128.2 141.5,128.8 148.6,129.5 155.6,130.1 162.6,130.8 169.6,131.5 176.6,132.2 183.6,132.9 190.7,133.6 197.7,134.3 204.7,135.1 211.7,135.9 218.7,136.7 225.7,137.5 232.8,138.4 239.8,139.2 246.8,140.1 253.8,141.1 260.8,142.0 267.8,143.0 274.9,144.0 281.9,145.0 288.9,146.0 295.9,147.0 302.9,148.0 309.9,149.0 316.9,150.0 324.0,151.0 331.0,152.0 338.0,152.9 345.0,153.9 352.0,154.8 359.0,155.7 366.1,156.6 373.1,157.4 380.1,158.2 387.1,159.0 394.1,159.7 401.1,160.4 408.2,161.2 415.2,162.1 422.2,163.0 429.2,164.0 436.2,165.1 443.2,166.3 450.2,167.8 457.3,169.4 464.3,171.2 471.3,173.3 478.3,175.6 485.3,178.2 492.3,181.1 499.4,184.3 506.4,187.8 513.4,191.8 520.4,196.1 527.4,200.8 534.4,206.0 541.5,211.4 548.5,217.2 555.5,223.2 562.5,229.4 569.5,235.8 576.5,242.3 583.6,249.0 590.6,255.7 597.6,262.4 604.6,269.2 611.6,275.9 618.6,282.7 625.7,289.5 632.7,296.3 639.7,303.2 646.7,310.0 653.7,316.8 660.7,323.7"/><polyline points="106.5,125.7 113.5,125.9 120.5,126.1 127.5,126.3 134.5,126.5 141.5,126.7 148.6,126.9 155.6,127.1 162.6,127.4 169.6,127.6 176.6,127.9 183.6,128.2 190.7,128.5 197.7,128.8 204.7,129.1 211.7,129.5 218.7,129.8 225.7,130.2 232.8,130.7 239.8,131.1 246.8,131.6 253.8,132.1 260.8,132.6 267.8,133.2 274.9,133.8 281.9,134.3 288.9,134.9 295.9,135.5 302.9,136.1 309.9,136.7 316.9,137.3 324.0,137.9 331.0,138.5 338.0,139.0 345.0,139.6 352.0,140.1 359.0,140.6 366.1,141.1 373.1,141.5 380.1,141.9 387.1,142.3 394.1,142.7 401.1,143.1 408.2,143.5 415.2,144.0 422.2,144.7 429.2,145.4 436.2,146.3 443.2,147.4 450.2,148.7 457.3,150.3 464.3,152.1 471.3,154.2 478.3,156.7 485.3,159.5 492.3,162.7 499.4,166.3 506.4,170.3 513.4,174.8 520.4,179.9 527.4,185.4 534.4,191.4 541.5,197.8 548.5,204.6 555.5,211.7 562.5,219.1 569.5,226.7 576.5,234.4 583.6,242.3 590.6,250.3 597.6,258.2 604.6,266.2 611.6,274.2 618.6,282.2 625.7,290.3 632.7,298.3 639.7,306.3 646.7,314.3 653.7,322.4 660.7,330.4"/><polyline points="106.5,125.7 113.5,126.9 120.5,128.1 127.5,129.3 134.5,130.5 141.5,131.7 148.6,132.9 155.6,134.1 162.6,135.4 169.6,136.6 176.6,137.9 183.6,139.2 190.7,140.5 197.7,141.8 204.7,143.1 211.7,144.4 218.7,145.8 225.7,147.2 232.8,148.6 239.8,150.1 246.8,151.5 253.8,153.0 260.8,154.6 267.8,156.1 274.9,157.7 281.9,159.3 288.9,160.9 295.9,162.5 302.9,164.1 309.9,165.8 316.9,167.5 324.0,169.1 331.0,170.8 338.0,172.5 345.0,174.2 352.0,175.8 359.0,177.5 366.1,179.2 373.1,180.9 380.1,182.6 387.1,184.2 394.1,185.9 401.1,187.6 408.2,189.3 415.2,191.0 422.2,192.8 429.2,194.6 436.2,196.5 443.2,198.5 450.2,200.5 457.3,202.6 464.3,204.9 471.3,207.2 478.3,209.6 485.3,212.2 492.3,214.9 499.4,217.7 506.4,220.7 513.4,223.9 520.4,227.2 527.4,230.8 534.4,234.5 541.5,238.4 548.5,242.5 555.5,246.8 562.5,251.4 569.5,256.2 576.5,261.2 583.6,266.4 590.6,271.9 597.6,277.7 604.6,283.7 611.6,289.9 618.6,296.3 625.7,302.8 632.7,309.5 639.7,316.2 646.7,323.1 653.7,330.0 660.7,336.9"/><polyline points="106.5,125.7 113.5,126.0 120.5,126.4 127.5,126.7 134.5,127.1 141.5,127.4 148.6,127.8 155.6,128.1 162.6,128.5 169.6,128.9 176.6,129.3 183.6,129.7 190.7,130.2 197.7,130.6 204.7,131.1 211.7,131.6 218.7,132.1 225.7,132.7 232.8,133.2 239.8,133.8 246.8,134.4 253.8,135.1 260.8,135.8 267.8,136.5 274.9,137.2 281.9,137.9 288.9,138.6 295.9,139.3 302.9,140.1 309.9,140.8 316.9,141.5 324.0,142.3 331.0,143.0 338.0,143.7 345.0,144.3 352.0,145.0 359.0,145.6 366.1,146.2 373.1,146.8 380.1,147.4 387.1,147.9 394.1,148.4 401.1,148.9 408.2,149.5 415.2,150.2 422.2,150.9 429.2,151.9 436.2,153.0 443.2,154.3 450.2,155.8 457.3,157.6 464.3,159.7 471.3,162.1 478.3,164.9 485.3,168.1 492.3,171.6 499.4,175.7 506.4,180.2 513.4,185.2 520.4,190.7 527.4,196.8 534.4,203.4 541.5,210.4 548.5,217.8 555.5,225.5 562.5,233.5 569.5,241.6 576.5,249.9 583.6,258.2 590.6,266.5 597.6,274.8 604.6,282.9 611.6,291.1 618.6,299.2 625.7,307.2 632.7,315.2 639.7,323.1 646.7,331.1 653.7,339.0 660.7,346.9"/><polyline points="106.5,125.7 113.5,126.5 120.5,127.3 127.5,128.0 134.5,128.8 141.5,129.6 148.6,130.4 155.6,131.2 162.6,132.0 169.6,132.9 176.6,133.7 183.6,134.6 190.7,135.4 197.7,136.3 204.7,137.2 211.7,138.1 218.7,139.0 225.7,140.0 232.8,141.0 239.8,141.9 246.8,143.0 253.8,144.0 260.8,145.1 267.8,146.1 274.9,147.2 281.9,148.3 288.9,149.4 295.9,150.6 302.9,151.7 309.9,152.8 316.9,153.9 324.0,155.0 331.0,156.2 338.0,157.3 345.0,158.4 352.0,159.4 359.0,160.5 366.1,161.6 373.1,162.6 380.1,163.6 387.1,164.6 394.1,165.6 401.1,166.6 408.2,167.7 415.2,168.9 422.2,170.1 429.2,171.6 436.2,173.1 443.2,174.9 450.2,176.9 457.3,179.2 464.3,181.7 471.3,184.5 478.3,187.7 485.3,191.2 492.3,195.1 499.4,199.4 506.4,204.1 513.4,209.4 520.4,215.1 527.4,221.3 534.4,228.0 541.5,235.0 548.5,242.5 555.5,250.2 562.5,258.1 569.5,266.2 576.5,274.4 583.6,282.7 590.6,290.9 597.6,299.1 604.6,307.2 611.6,315.2 618.6,323.2 625.7,331.2 632.7,339.1 639.7,347.0 646.7,354.8 653.7,362.7 660.7,370.5"/><polyline points="106.5,125.7 113.5,126.3 120.5,127.0 127.5,127.6 134.5,128.3 141.5,128.9 148.6,129.6 155.6,130.2 162.6,130.9 169.6,131.6 176.6,132.3 183.6,133.0 190.7,133.7 197.7,134.4 204.7,135.2 211.7,136.0 218.7,136.8 225.7,137.6 232.8,138.4 239.8,139.2 246.8,140.1 253.8,141.0 260.8,141.9 267.8,142.9 274.9,143.8 281.9,144.8 288.9,145.9 295.9,146.9 302.9,147.9 309.9,149.0 316.9,150.1 324.0,151.2 331.0,152.4 338.0,153.5 345.0,154.7 352.0,155.9 359.0,157.1 366.1,158.4 373.1,159.6 380.1,160.9 387.1,162.2 394.1,163.5 401.1,165.0 408.2,166.5 415.2,168.2 422.2,170.0 429.2,172.1 436.2,174.4 443.2,176.9 450.2,179.8 457.3,183.0 464.3,186.5 471.3,190.4 478.3,194.8 485.3,199.5 492.3,204.8 499.4,210.6 506.4,216.9 513.4,223.8 520.4,231.3 527.4,239.4 534.4,248.1 541.5,257.1 548.5,266.5 555.5,276.1 562.5,285.8 569.5,295.4 576.5,305.0 583.6,314.4 590.6,323.4 597.6,332.0 604.6,340.2 611.6,348.1 618.6,355.7 625.7,363.0 632.7,370.2 639.7,377.1 646.7,383.9 653.7,390.6 660.7,397.3"/></g><g fill="#ff0000" fill-opacity="0.21"><polygon points="106.5,125.7 110.0,124.3 113.5,122.9 117.0,121.6 120.5,120.2 124.0,118.8 127.5,117.5 131.0,116.1 134.5,114.8 138.0,113.4 141.5,112.1 145.1,110.8 148.6,109.6 152.1,108.3 155.6,107.1 159.1,105.9 162.6,104.7 166.1,103.5 169.6,102.4 173.1,101.3 176.6,100.2 180.1,99.2 183.6,98.2 187.2,97.2 190.7,96.3 194.2,95.4 197.7,94.5 201.2,93.7 204.7,92.9 208.2,92.1 211.7,91.4 215.2,90.6 218.7,90.0 222.2,89.3 225.7,88.7 229.2,88.2 232.8,87.6 236.3,87.2 239.8,86.7 243.3,86.3 246.8,85.9 250.3,85.6 253.8,85.3 257.3,85.1 260.8,84.9 264.3,84.8 267.8,84.7 271.3,84.7 274.9,84.8 278.4,85.0 281.9,85.2 285.4,85.5 288.9,85.8 292.4,86.2 295.9,86.7 299.4,87.2 302.9,87.8 306.4,88.5 309.9,89.1 313.4,89.9 316.9,90.6 320.5,91.5 324.0,92.3 327.5,93.2 331.0,94.1 334.5,95.1 338.0,96.1 341.5,97.2 345.0,98.3 348.5,99.4 352.0,100.5 355.5,101.7 359.0,102.9 362.6,104.2 366.1,105.4 369.6,106.7 373.1,108.1 376.6,109.4 380.1,110.8 383.6,112.2 387.1,113.6 390.6,115.1 394.1,116.5 397.6,118.0 401.1,119.5 404.6,121.1 408.2,122.6 411.7,124.1 415.2,125.7 418.7,127.3 422.2,128.9 425.7,130.4 429.2,132.0 432.7,133.5 436.2,135.1 439.7,136.6 443.2,138.1 446.7,139.5 450.2,140.9 453.8,142.2 457.3,143.5 460.8,144.7 464.3,145.9 467.8,147.0 471.3,148.1 474.8,149.2 478.3,150.2 481.8,151.2 485.3,152.1 488.8,153.0 492.3,153.9 495.9,154.8 499.4,155.6 502.9,156.5 506.4,157.3 509.9,158.1 513.4,158.8 516.9,159.6 520.4,160.4 523.9,161.1 527.4,161.9 530.9,162.6 534.4,163.4 538.0,164.1 541.5,164.9 545.0,165.7 548.5,166.5 552.0,167.3 555.5,168.2 559.0,169.0 562.5,169.9 566.0,170.9 569.5,171.8 573.0,172.8 576.5,173.9 580.0,175.0 583.6,176.1 587.1,177.3 590.6,178.5 594.1,179.8 597.6,181.1 601.1,182.5 604.6,184.0 608.1,185.5 611.6,187.0 615.1,188.5 618.6,190.1 622.1,191.8 625.7,193.4 629.2,195.1 632.7,196.8 636.2,198.5 639.7,200.2 643.2,201.9 646.7,203.7 650.2,205.4 653.7,207.2 657.2,209.0 660.7,210.7 660.7,276.0 657.2,272.7 653.7,269.3 650.2,266.1 646.7,262.8 643.2,259.6 639.7,256.5 636.2,253.4 632.7,250.4 629.2,247.6 625.7,244.9 622.1,242.2 618.6,239.8 615.1,237.4 611.6,235.1 608.1,232.9 604.6,230.8 601.1,228.8 597.6,226.9 594.1,225.0 590.6,223.2 587.1,221.4 583.6,219.7 580.0,218.0 576.5,216.3 573.0,214.7 569.5,213.2 566.0,211.7 562.5,210.3 559.0,208.9 555.5,207.6 552.0,206.3 548.5,205.1 545.0,203.9 541.5,202.8 538.0,201.8 534.4,200.9 530.9,200.0 527.4,199.2 523.9,198.4 520.4,197.7 516.9,197.1 513.4,196.6 509.9,196.1 506.4,195.7 502.9,195.3 499.4,195.0 495.9,194.7 492.3,194.4 488.8,194.2 485.3,193.9 481.8,193.7 478.3,193.5 474.8,193.3 471.3,193.2 467.8,193.0 464.3,192.9 460.8,192.8 457.3,192.7 453.8,192.6 450.2,192.6 446.7,192.6 443.2,192.6 439.7,192.6 436.2,192.7 432.7,192.8 429.2,192.9 425.7,193.0 422.2,193.1 418.7,193.3 415.2,193.4 411.7,193.6 408.2,193.7 404.6,193.9 401.1,194.1 397.6,194.3 394.1,194.5 390.6,194.7 387.1,195.0 383.6,195.3 380.1,195.6 376.6,195.9 373.1,196.3 369.6,196.6 366.1,197.0 362.6,197.4 359.0,197.8 355.5,198.2 352.0,198.6 348.5,199.0 345.0,199.4 341.5,199.7 338.0,200.0 334.5,200.3 331.0,200.5 327.5,200.7 324.0,200.9 320.5,201.0 316.9,201.1 313.4,201.0 309.9,201.0 306.4,200.8 302.9,200.7 299.4,200.4 295.9,200.1 292.4,199.7 288.9,199.2 285.4,198.7 281.9,198.2 278.4,197.6 274.9,196.9 271.3,196.2 267.8,195.5 264.3,194.7 260.8,193.8 257.3,193.0 253.8,192.0 250.3,191.1 246.8,190.1 243.3,189.0 239.8,188.0 236.3,186.9 232.8,185.8 229.2,184.6 225.7,183.4 222.2,182.2 218.7,180.9 215.2,179.7 211.7,178.3 208.2,177.0 204.7,175.6 201.2,174.2 197.7,172.8 194.2,171.3 190.7,169.8 187.2,168.3 183.6,166.7 180.1,165.1 176.6,163.5 173.1,161.8 169.6,160.1 166.1,158.4 162.6,156.6 159.1,154.8 155.6,153.0 152.1,151.1 148.6,149.3 145.1,147.4 141.5,145.5 138.0,143.6 134.5,141.6 131.0,139.7 127.5,137.7 124.0,135.7 120.5,133.7 117.0,131.7 113.5,129.7 110.0,127.7 106.5,125.7"/></g><line x1="84.5" y1="125.70" x2="683" y2="125.70" stroke="#444" stroke-width="1.7"/><polyline points="106.5,125.7 110.0,126.1 113.5,126.4 117.0,126.8 120.5,127.1 124.0,127.5 127.5,127.9 131.0,128.2 134.5,128.6 138.0,128.9 141.5,129.3 145.1,129.6 148.6,130.0 152.1,130.3 155.6,130.6 159.1,131.0 162.6,131.3 166.1,131.6 169.6,131.9 173.1,132.2 176.6,132.5 180.1,132.9 183.6,133.2 187.2,133.4 190.7,133.7 194.2,134.0 197.7,134.3 201.2,134.6 204.7,134.9 208.2,135.2 211.7,135.5 215.2,135.8 218.7,136.1 222.2,136.4 225.7,136.7 229.2,137.0 232.8,137.3 236.3,137.6 239.8,137.9 243.3,138.2 246.8,138.5 250.3,138.9 253.8,139.2 257.3,139.5 260.8,139.9 264.3,140.2 267.8,140.6 271.3,140.9 274.9,141.3 278.4,141.6 281.9,142.0 285.4,142.4 288.9,142.7 292.4,143.1 295.9,143.5 299.4,143.8 302.9,144.2 306.4,144.6 309.9,144.9 313.4,145.3 316.9,145.7 320.5,146.0 324.0,146.4 327.5,146.8 331.0,147.2 334.5,147.6 338.0,148.0 341.5,148.4 345.0,148.8 348.5,149.2 352.0,149.6 355.5,150.1 359.0,150.5 362.6,151.0 366.1,151.5 369.6,152.0 373.1,152.5 376.6,153.0 380.1,153.6 383.6,154.2 387.1,154.8 390.6,155.3 394.1,156.0 397.6,156.6 401.1,157.2 404.6,157.8 408.2,158.4 411.7,159.0 415.2,159.6 418.7,160.1 422.2,160.7 425.7,161.2 429.2,161.7 432.7,162.2 436.2,162.6 439.7,163.1 443.2,163.5 446.7,164.0 450.2,164.4 453.8,164.9 457.3,165.5 460.8,166.0 464.3,166.6 467.8,167.2 471.3,167.9 474.8,168.5 478.3,169.2 481.8,169.9 485.3,170.7 488.8,171.4 492.3,172.2 495.9,173.0 499.4,173.8 502.9,174.6 506.4,175.5 509.9,176.3 513.4,177.2 516.9,178.1 520.4,179.0 523.9,180.0 527.4,180.9 530.9,181.9 534.4,182.9 538.0,183.9 541.5,184.9 545.0,186.0 548.5,187.1 552.0,188.2 555.5,189.3 559.0,190.5 562.5,191.7 566.0,193.0 569.5,194.2 573.0,195.5 576.5,196.9 580.0,198.3 583.6,199.7 587.1,201.1 590.6,202.6 594.1,204.1 597.6,205.7 601.1,207.3 604.6,209.0 608.1,210.7 611.6,212.5 615.1,214.4 618.6,216.3 622.1,218.4 625.7,220.5 629.2,222.7 632.7,225.0 636.2,227.4 639.7,229.8 643.2,232.3 646.7,234.9 650.2,237.5 653.7,240.1 657.2,242.7 660.7,245.4" fill="none" stroke="#f20000" stroke-width="3.2" stroke-linecap="round" stroke-linejoin="round"/><g font-family="Liberation Sans, sans-serif" font-size="23" fill="#000"><text x="78.6" y="24.68" text-anchor="end">4</text><text x="78.6" y="78.84" text-anchor="end">2</text><text x="78.6" y="133.00" text-anchor="end">0</text><text x="78.6" y="187.16" text-anchor="end">-2</text><text x="78.6" y="241.32" text-anchor="end">-4</text><text x="78.6" y="295.48" text-anchor="end">-6</text><text x="78.6" y="349.64" text-anchor="end">-8</text><text x="78.6" y="403.80" text-anchor="end">-10</text><text x="99.85" y="419.10" text-anchor="middle">0</text><text x="170.01" y="419.10" text-anchor="middle">10</text><text x="240.17" y="419.10" text-anchor="middle">20</text><text x="310.33" y="419.10" text-anchor="middle">30</text><text x="380.49" y="419.10" text-anchor="middle">40</text><text x="450.65" y="419.10" text-anchor="middle">50</text><text x="520.81" y="419.10" text-anchor="middle">60</text><text x="590.97" y="419.10" text-anchor="middle">70</text><text x="661.13" y="419.10" text-anchor="middle">80</text></g><g stroke="#9ccbe2" stroke-width="1.1" stroke-dasharray="1.5 2.25" fill="none"><line x1="84.5" y1="501.48" x2="682" y2="501.48"/><line x1="84.5" y1="555.64" x2="682" y2="555.64"/><line x1="84.5" y1="609.80" x2="682" y2="609.80"/><line x1="84.5" y1="663.96" x2="682" y2="663.96"/><line x1="84.5" y1="718.12" x2="682" y2="718.12"/><line x1="84.5" y1="772.28" x2="682" y2="772.28"/><line x1="84.5" y1="826.44" x2="682" y2="826.44"/><line x1="84.5" y1="880.60" x2="682" y2="880.60"/><line x1="99.45" y1="487.08" x2="99.45" y2="895.60"/><line x1="169.61" y1="487.08" x2="169.61" y2="895.60"/><line x1="239.77" y1="487.08" x2="239.77" y2="895.60"/><line x1="309.93" y1="487.08" x2="309.93" y2="895.60"/><line x1="380.09" y1="487.08" x2="380.09" y2="895.60"/><line x1="450.25" y1="487.08" x2="450.25" y2="895.60"/><line x1="520.41" y1="487.08" x2="520.41" y2="895.60"/><line x1="590.57" y1="487.08" x2="590.57" y2="895.60"/><line x1="660.73" y1="487.08" x2="660.73" y2="895.60"/></g><g fill="none" stroke="#000" stroke-opacity="0.21" stroke-width="1.15" stroke-linejoin="round"><polyline points="106.5,609.8 113.5,610.6 120.5,611.4 127.5,612.2 134.5,613.0 141.5,613.9 148.6,614.8 155.6,615.8 162.6,616.8 169.6,617.9 176.6,619.1 183.6,620.4 190.7,621.8 197.7,623.4 204.7,625.1 211.7,627.0 218.7,629.1 225.7,631.4 232.8,634.0 239.8,636.9 246.8,640.0 253.8,643.4 260.8,647.1 267.8,651.0 274.9,655.1 281.9,659.3 288.9,663.7 295.9,668.2 302.9,672.8 309.9,677.5 316.9,682.2 324.0,687.1 331.0,692.0 338.0,697.1 345.0,702.4 352.0,707.9 359.0,713.7 366.1,719.8 373.1,726.2 380.1,733.0 387.1,740.2 394.1,747.5 401.1,754.9 408.2,762.0 415.2,768.8 422.2,775.0 429.2,780.4 436.2,784.9 443.2,788.3 450.2,790.5 457.3,791.5 464.3,791.1 471.3,789.4 478.3,786.5 485.3,782.4 492.3,776.3 499.4,767.5 506.4,756.6 513.4,744.9 520.4,733.3 527.4,721.9 534.4,710.9 541.5,700.0 548.5,689.3 555.5,678.9 562.5,669.0 569.5,659.5 576.5,650.3 583.6,641.1 590.6,631.5 597.6,621.5 604.6,611.3 611.6,600.9 618.6,590.4 625.7,580.0 632.7,569.7 639.7,559.5 646.7,549.3 653.7,539.2 660.7,529.1"/><polyline points="106.5,609.8 113.5,610.5 120.5,611.3 127.5,612.0 134.5,612.8 141.5,613.5 148.6,614.3 155.6,615.0 162.6,615.8 169.6,616.6 176.6,617.4 183.6,618.2 190.7,619.1 197.7,620.1 204.7,621.4 211.7,622.8 218.7,624.5 225.7,626.5 232.8,628.8 239.8,631.5 246.8,634.6 253.8,638.0 260.8,641.8 267.8,645.8 274.9,650.0 281.9,654.4 288.9,658.8 295.9,663.3 302.9,667.7 309.9,672.1 316.9,676.3 324.0,680.5 331.0,684.6 338.0,688.7 345.0,692.9 352.0,697.3 359.0,701.8 366.1,706.6 373.1,711.6 380.1,717.0 387.1,722.8 394.1,728.8 401.1,734.7 408.2,740.5 415.2,745.9 422.2,750.6 429.2,754.6 436.2,757.9 443.2,760.5 450.2,762.4 457.3,763.9 464.3,764.9 471.3,765.4 478.3,764.9 485.3,762.9 492.3,758.6 499.4,752.4 506.4,745.2 513.4,737.6 520.4,729.0 527.4,718.6 534.4,707.2 541.5,695.8 548.5,684.8 555.5,674.3 562.5,664.0 569.5,653.8 576.5,643.8 583.6,634.2 590.6,625.0 597.6,616.1 604.6,607.6 611.6,599.2 618.6,591.0 625.7,582.7 632.7,574.4 639.7,566.0 646.7,557.5 653.7,549.0 660.7,540.5"/><polyline points="106.5,609.8 113.5,610.4 120.5,611.0 127.5,611.6 134.5,612.2 141.5,612.8 148.6,613.4 155.6,614.0 162.6,614.6 169.6,615.2 176.6,615.8 183.6,616.5 190.7,617.2 197.7,618.1 204.7,619.1 211.7,620.4 218.7,622.0 225.7,623.8 232.8,626.1 239.8,628.8 246.8,631.9 253.8,635.4 260.8,639.2 267.8,643.3 274.9,647.6 281.9,652.0 288.9,656.4 295.9,660.8 302.9,665.2 309.9,669.4 316.9,673.4 324.0,677.2 331.0,680.9 338.0,684.6 345.0,688.3 352.0,692.1 359.0,696.0 366.1,700.1 373.1,704.5 380.1,709.2 387.1,714.2 394.1,719.5 401.1,724.8 408.2,730.1 415.2,735.1 422.2,739.8 429.2,743.9 436.2,747.4 443.2,750.2 450.2,752.2 457.3,753.3 464.3,753.4 471.3,752.5 478.3,750.7 485.3,747.9 492.3,744.2 499.4,739.7 506.4,734.4 513.4,728.3 520.4,720.8 527.4,711.5 534.4,701.1 541.5,690.7 548.5,680.7 555.5,671.0 562.5,661.3 569.5,651.2 576.5,641.2 583.6,631.5 590.6,622.4 597.6,613.9 604.6,605.9 611.6,598.1 618.6,590.4 625.7,582.7 632.7,574.8 639.7,566.8 646.7,558.6 653.7,550.4 660.7,542.1"/><polyline points="106.5,609.8 113.5,609.3 120.5,608.7 127.5,608.2 134.5,607.7 141.5,607.1 148.6,606.6 155.6,606.1 162.6,605.6 169.6,605.2 176.6,604.7 183.6,604.3 190.7,603.9 197.7,603.5 204.7,603.1 211.7,602.8 218.7,602.4 225.7,602.2 232.8,601.9 239.8,601.7 246.8,601.5 253.8,601.3 260.8,601.2 267.8,601.1 274.9,601.1 281.9,601.0 288.9,601.0 295.9,601.0 302.9,601.0 309.9,601.0 316.9,601.1 324.0,601.1 331.0,601.2 338.0,601.3 345.0,601.3 352.0,601.4 359.0,601.5 366.1,601.6 373.1,601.6 380.1,601.7 387.1,601.7 394.1,601.8 401.1,601.8 408.2,601.7 415.2,601.7 422.2,601.6 429.2,601.5 436.2,601.3 443.2,601.0 450.2,600.7 457.3,600.3 464.3,599.9 471.3,599.3 478.3,598.7 485.3,598.0 492.3,597.2 499.4,596.3 506.4,595.2 513.4,594.1 520.4,592.9 527.4,591.5 534.4,590.1 541.5,588.6 548.5,587.1 555.5,585.4 562.5,583.7 569.5,581.9 576.5,579.8 583.6,577.4 590.6,574.6 597.6,571.4 604.6,567.9 611.6,564.5 618.6,561.2 625.7,558.3 632.7,556.1 639.7,554.4 646.7,553.0 653.7,552.0 660.7,551.0"/><polyline points="106.5,609.8 113.5,610.2 120.5,610.6 127.5,611.1 134.5,611.6 141.5,612.0 148.6,612.6 155.6,613.1 162.6,613.8 169.6,614.5 176.6,615.2 183.6,616.0 190.7,616.9 197.7,617.9 204.7,619.0 211.7,620.2 218.7,621.5 225.7,622.9 232.8,624.4 239.8,626.0 246.8,627.8 253.8,629.8 260.8,631.8 267.8,634.0 274.9,636.2 281.9,638.6 288.9,641.1 295.9,643.6 302.9,646.2 309.9,648.9 316.9,651.6 324.0,654.4 331.0,657.2 338.0,660.1 345.0,663.0 352.0,665.9 359.0,668.8 366.1,671.7 373.1,674.6 380.1,677.5 387.1,680.4 394.1,683.2 401.1,685.9 408.2,688.5 415.2,690.9 422.2,693.1 429.2,695.1 436.2,696.8 443.2,698.1 450.2,699.2 457.3,699.8 464.3,700.0 471.3,699.8 478.3,699.1 485.3,697.9 492.3,696.1 499.4,693.7 506.4,690.8 513.4,687.4 520.4,683.4 527.4,679.0 534.4,674.3 541.5,669.3 548.5,664.0 555.5,658.5 562.5,653.0 569.5,647.3 576.5,641.5 583.6,635.7 590.6,629.8 597.6,623.9 604.6,617.9 611.6,612.0 618.6,606.0 625.7,600.1 632.7,594.1 639.7,588.1 646.7,582.2 653.7,576.2 660.7,570.3"/><polyline points="106.5,609.8 113.5,608.5 120.5,607.1 127.5,605.8 134.5,604.4 141.5,603.1 148.6,601.7 155.6,600.3 162.6,599.0 169.6,597.6 176.6,596.2 183.6,594.9 190.7,593.5 197.7,592.1 204.7,590.7 211.7,589.4 218.7,588.0 225.7,586.7 232.8,585.4 239.8,584.1 246.8,582.8 253.8,581.6 260.8,580.4 267.8,579.3 274.9,578.3 281.9,577.5 288.9,576.7 295.9,576.1 302.9,575.7 309.9,575.4 316.9,575.3 324.0,575.5 331.0,575.7 338.0,576.2 345.0,576.7 352.0,577.4 359.0,578.1 366.1,579.0 373.1,579.9 380.1,580.8 387.1,581.8 394.1,582.8 401.1,583.8 408.2,584.7 415.2,585.7 422.2,586.6 429.2,587.5 436.2,588.3 443.2,589.1 450.2,589.8 457.3,590.3 464.3,590.8 471.3,591.2 478.3,591.6 485.3,591.8 492.3,591.9 499.4,591.9 506.4,591.9 513.4,591.7 520.4,591.5 527.4,591.2 534.4,590.8 541.5,590.3 548.5,589.8 555.5,589.2 562.5,588.5 569.5,587.8 576.5,587.1 583.6,586.3 590.6,585.4 597.6,584.6 604.6,583.6 611.6,582.7 618.6,581.8 625.7,580.8 632.7,579.8 639.7,578.8 646.7,577.7 653.7,576.7 660.7,575.7"/><polyline points="106.5,609.8 113.5,609.0 120.5,608.2 127.5,607.4 134.5,606.6 141.5,605.8 148.6,605.0 155.6,604.2 162.6,603.4 169.6,602.7 176.6,601.9 183.6,601.2 190.7,600.5 197.7,599.8 204.7,599.2 211.7,598.5 218.7,597.9 225.7,597.3 232.8,596.8 239.8,596.3 246.8,595.8 253.8,595.3 260.8,594.9 267.8,594.5 274.9,594.1 281.9,593.8 288.9,593.5 295.9,593.3 302.9,593.0 309.9,592.9 316.9,592.7 324.0,592.7 331.0,592.6 338.0,592.6 345.0,592.7 352.0,592.7 359.0,592.9 366.1,593.1 373.1,593.3 380.1,593.6 387.1,593.9 394.1,594.2 401.1,594.6 408.2,595.0 415.2,595.3 422.2,595.6 429.2,595.9 436.2,596.1 443.2,596.2 450.2,596.3 457.3,596.2 464.3,596.0 471.3,595.7 478.3,595.4 485.3,595.1 492.3,594.7 499.4,594.4 506.4,594.0 513.4,593.7 520.4,593.4 527.4,593.2 534.4,592.9 541.5,592.7 548.5,592.4 555.5,592.2 562.5,591.9 569.5,591.7 576.5,591.4 583.6,591.1 590.6,590.8 597.6,590.5 604.6,590.2 611.6,589.8 618.6,589.5 625.7,589.1 632.7,588.7 639.7,588.3 646.7,587.9 653.7,587.5 660.7,587.1"/><polyline points="106.5,609.8 113.5,609.3 120.5,608.8 127.5,608.3 134.5,607.8 141.5,607.3 148.6,606.8 155.6,606.3 162.6,605.8 169.6,605.3 176.6,604.9 183.6,604.4 190.7,604.0 197.7,603.6 204.7,603.2 211.7,602.9 218.7,602.5 225.7,602.2 232.8,601.9 239.8,601.7 246.8,601.4 253.8,601.2 260.8,601.0 267.8,600.9 274.9,600.8 281.9,600.7 288.9,600.6 295.9,600.5 302.9,600.5 309.9,600.5 316.9,600.5 324.0,600.6 331.0,600.6 338.0,600.7 345.0,600.8 352.0,600.9 359.0,601.1 366.1,601.3 373.1,601.5 380.1,601.7 387.1,601.9 394.1,602.1 401.1,602.4 408.2,602.5 415.2,602.7 422.2,602.8 429.2,602.8 436.2,602.7 443.2,602.5 450.2,602.2 457.3,601.8 464.3,601.2 471.3,600.6 478.3,600.0 485.3,599.3 492.3,598.7 499.4,598.2 506.4,597.7 513.4,597.4 520.4,597.1 527.4,596.9 534.4,596.7 541.5,596.7 548.5,596.6 555.5,596.5 562.5,596.5 569.5,596.5 576.5,596.4 583.6,596.4 590.6,596.3 597.6,596.1 604.6,595.9 611.6,595.7 618.6,595.4 625.7,595.1 632.7,594.8 639.7,594.4 646.7,594.0 653.7,593.7 660.7,593.3"/><polyline points="106.5,609.8 113.5,609.4 120.5,609.0 127.5,608.6 134.5,608.1 141.5,607.7 148.6,607.4 155.6,607.0 162.6,606.6 169.6,606.3 176.6,606.0 183.6,605.7 190.7,605.4 197.7,605.2 204.7,604.9 211.7,604.8 218.7,604.6 225.7,604.5 232.8,604.4 239.8,604.4 246.8,604.4 253.8,604.4 260.8,604.5 267.8,604.6 274.9,604.8 281.9,605.0 288.9,605.2 295.9,605.4 302.9,605.7 309.9,606.0 316.9,606.3 324.0,606.7 331.0,607.0 338.0,607.4 345.0,607.8 352.0,608.2 359.0,608.6 366.1,609.0 373.1,609.4 380.1,609.8 387.1,610.2 394.1,610.6 401.1,611.0 408.2,611.4 415.2,611.8 422.2,612.2 429.2,612.6 436.2,612.9 443.2,613.2 450.2,613.5 457.3,613.7 464.3,614.0 471.3,614.1 478.3,614.3 485.3,614.4 492.3,614.4 499.4,614.4 506.4,614.3 513.4,614.2 520.4,614.1 527.4,613.9 534.4,613.6 541.5,613.3 548.5,612.9 555.5,612.5 562.5,612.1 569.5,611.6 576.5,611.0 583.6,610.4 590.6,609.8 597.6,609.1 604.6,608.4 611.6,607.7 618.6,606.9 625.7,606.1 632.7,605.3 639.7,604.5 646.7,603.6 653.7,602.8 660.7,601.9"/><polyline points="106.5,609.8 113.5,610.1 120.5,610.4 127.5,610.7 134.5,611.0 141.5,611.3 148.6,611.7 155.6,612.0 162.6,612.4 169.6,612.8 176.6,613.1 183.6,613.6 190.7,614.0 197.7,614.5 204.7,615.0 211.7,615.5 218.7,616.0 225.7,616.6 232.8,617.3 239.8,617.9 246.8,618.6 253.8,619.4 260.8,620.1 267.8,620.9 274.9,621.8 281.9,622.6 288.9,623.5 295.9,624.3 302.9,625.2 309.9,626.1 316.9,627.0 324.0,627.9 331.0,628.7 338.0,629.6 345.0,630.4 352.0,631.2 359.0,632.0 366.1,632.8 373.1,633.5 380.1,634.2 387.1,634.8 394.1,635.4 401.1,636.0 408.2,636.5 415.2,636.9 422.2,637.3 429.2,637.6 436.2,637.9 443.2,638.1 450.2,638.2 457.3,638.2 464.3,638.2 471.3,638.1 478.3,637.9 485.3,637.7 492.3,637.3 499.4,636.9 506.4,636.3 513.4,635.7 520.4,635.0 527.4,634.2 534.4,633.3 541.5,632.3 548.5,631.3 555.5,630.1 562.5,628.9 569.5,627.6 576.5,626.3 583.6,624.8 590.6,623.3 597.6,621.8 604.6,620.1 611.6,618.5 618.6,616.7 625.7,615.0 632.7,613.2 639.7,611.3 646.7,609.5 653.7,607.6 660.7,605.7"/><polyline points="106.5,609.8 113.5,610.1 120.5,610.3 127.5,610.6 134.5,610.8 141.5,611.1 148.6,611.4 155.6,611.6 162.6,611.9 169.6,612.2 176.6,612.5 183.6,612.8 190.7,613.0 197.7,613.3 204.7,613.6 211.7,613.9 218.7,614.2 225.7,614.6 232.8,614.9 239.8,615.2 246.8,615.6 253.8,615.9 260.8,616.3 267.8,616.6 274.9,617.0 281.9,617.4 288.9,617.7 295.9,618.1 302.9,618.5 309.9,618.9 316.9,619.3 324.0,619.8 331.0,620.2 338.0,620.6 345.0,621.0 352.0,621.5 359.0,621.9 366.1,622.4 373.1,622.9 380.1,623.3 387.1,623.8 394.1,624.3 401.1,624.8 408.2,625.2 415.2,625.7 422.2,626.2 429.2,626.6 436.2,627.0 443.2,627.3 450.2,627.7 457.3,628.0 464.3,628.2 471.3,628.5 478.3,628.6 485.3,628.7 492.3,628.8 499.4,628.8 506.4,628.7 513.4,628.5 520.4,628.3 527.4,628.0 534.4,627.7 541.5,627.3 548.5,626.9 555.5,626.4 562.5,625.9 569.5,625.3 576.5,624.7 583.6,624.0 590.6,623.3 597.6,622.6 604.6,621.9 611.6,621.1 618.6,620.3 625.7,619.5 632.7,618.6 639.7,617.8 646.7,616.9 653.7,616.1 660.7,615.2"/><polyline points="106.5,609.8 113.5,610.4 120.5,610.9 127.5,611.5 134.5,612.1 141.5,612.6 148.6,613.2 155.6,613.8 162.6,614.3 169.6,614.9 176.6,615.5 183.6,616.0 190.7,616.6 197.7,617.2 204.7,617.8 211.7,618.3 218.7,618.9 225.7,619.5 232.8,620.1 239.8,620.6 246.8,621.2 253.8,621.8 260.8,622.4 267.8,622.9 274.9,623.5 281.9,624.1 288.9,624.7 295.9,625.2 302.9,625.8 309.9,626.3 316.9,626.9 324.0,627.4 331.0,628.0 338.0,628.5 345.0,629.0 352.0,629.5 359.0,630.0 366.1,630.5 373.1,631.0 380.1,631.5 387.1,631.9 394.1,632.4 401.1,632.8 408.2,633.2 415.2,633.6 422.2,634.0 429.2,634.4 436.2,634.7 443.2,635.0 450.2,635.3 457.3,635.6 464.3,635.9 471.3,636.1 478.3,636.4 485.3,636.6 492.3,636.7 499.4,636.9 506.4,637.0 513.4,637.1 520.4,637.1 527.4,637.1 534.4,637.1 541.5,637.0 548.5,636.8 555.5,636.6 562.5,636.3 569.5,635.9 576.5,635.4 583.6,634.8 590.6,634.2 597.6,633.4 604.6,632.5 611.6,631.6 618.6,630.5 625.7,629.4 632.7,628.3 639.7,627.1 646.7,625.8 653.7,624.6 660.7,623.3"/><polyline points="106.5,609.8 113.5,610.4 120.5,611.1 127.5,611.7 134.5,612.4 141.5,613.0 148.6,613.7 155.6,614.3 162.6,615.0 169.6,615.7 176.6,616.4 183.6,617.1 190.7,617.8 197.7,618.5 204.7,619.3 211.7,620.1 218.7,620.8 225.7,621.7 232.8,622.5 239.8,623.3 246.8,624.2 253.8,625.1 260.8,626.0 267.8,627.0 274.9,627.9 281.9,628.9 288.9,629.9 295.9,630.8 302.9,631.8 309.9,632.8 316.9,633.8 324.0,634.8 331.0,635.8 338.0,636.7 345.0,637.7 352.0,638.7 359.0,639.6 366.1,640.5 373.1,641.4 380.1,642.3 387.1,643.2 394.1,644.0 401.1,644.8 408.2,645.5 415.2,646.3 422.2,646.9 429.2,647.6 436.2,648.1 443.2,648.7 450.2,649.1 457.3,649.5 464.3,649.9 471.3,650.1 478.3,650.3 485.3,650.4 492.3,650.5 499.4,650.4 506.4,650.3 513.4,650.0 520.4,649.7 527.4,649.3 534.4,648.8 541.5,648.3 548.5,647.6 555.5,646.9 562.5,646.1 569.5,645.3 576.5,644.4 583.6,643.4 590.6,642.3 597.6,641.2 604.6,640.0 611.6,638.8 618.6,637.5 625.7,636.2 632.7,634.8 639.7,633.5 646.7,632.1 653.7,630.7 660.7,629.3"/><polyline points="106.5,609.8 113.5,610.2 120.5,610.7 127.5,611.1 134.5,611.6 141.5,612.0 148.6,612.4 155.6,612.9 162.6,613.3 169.6,613.7 176.6,614.2 183.6,614.6 190.7,615.0 197.7,615.4 204.7,615.9 211.7,616.3 218.7,616.7 225.7,617.1 232.8,617.5 239.8,617.9 246.8,618.3 253.8,618.7 260.8,619.1 267.8,619.6 274.9,620.0 281.9,620.4 288.9,620.8 295.9,621.3 302.9,621.8 309.9,622.2 316.9,622.8 324.0,623.3 331.0,623.9 338.0,624.4 345.0,625.1 352.0,625.7 359.0,626.4 366.1,627.2 373.1,627.9 380.1,628.8 387.1,629.6 394.1,630.5 401.1,631.5 408.2,632.4 415.2,633.4 422.2,634.3 429.2,635.3 436.2,636.2 443.2,637.1 450.2,638.0 457.3,638.8 464.3,639.6 471.3,640.3 478.3,640.9 485.3,641.5 492.3,641.9 499.4,642.3 506.4,642.5 513.4,642.7 520.4,642.7 527.4,642.7 534.4,642.6 541.5,642.4 548.5,642.1 555.5,641.8 562.5,641.4 569.5,641.0 576.5,640.6 583.6,640.1 590.6,639.6 597.6,639.1 604.6,638.6 611.6,638.0 618.6,637.5 625.7,637.0 632.7,636.4 639.7,635.9 646.7,635.3 653.7,634.7 660.7,634.2"/><polyline points="106.5,609.8 113.5,610.6 120.5,611.4 127.5,612.2 134.5,613.0 141.5,613.8 148.6,614.6 155.6,615.4 162.6,616.2 169.6,617.0 176.6,617.9 183.6,618.7 190.7,619.6 197.7,620.4 204.7,621.3 211.7,622.2 218.7,623.2 225.7,624.1 232.8,625.1 239.8,626.0 246.8,627.0 253.8,628.1 260.8,629.1 267.8,630.2 274.9,631.2 281.9,632.3 288.9,633.4 295.9,634.5 302.9,635.6 309.9,636.7 316.9,637.8 324.0,639.0 331.0,640.1 338.0,641.2 345.0,642.3 352.0,643.4 359.0,644.5 366.1,645.6 373.1,646.7 380.1,647.7 387.1,648.8 394.1,649.8 401.1,650.8 408.2,651.7 415.2,652.7 422.2,653.5 429.2,654.4 436.2,655.1 443.2,655.8 450.2,656.5 457.3,657.1 464.3,657.5 471.3,657.9 478.3,658.2 485.3,658.4 492.3,658.6 499.4,658.5 506.4,658.4 513.4,658.2 520.4,657.9 527.4,657.4 534.4,656.9 541.5,656.3 548.5,655.6 555.5,654.9 562.5,654.1 569.5,653.2 576.5,652.3 583.6,651.4 590.6,650.4 597.6,649.4 604.6,648.4 611.6,647.3 618.6,646.3 625.7,645.2 632.7,644.1 639.7,643.0 646.7,641.8 653.7,640.7 660.7,639.6"/><polyline points="106.5,609.8 113.5,610.9 120.5,612.0 127.5,613.1 134.5,614.2 141.5,615.3 148.6,616.4 155.6,617.5 162.6,618.6 169.6,619.7 176.6,620.9 183.6,622.0 190.7,623.1 197.7,624.3 204.7,625.5 211.7,626.6 218.7,627.8 225.7,629.0 232.8,630.2 239.8,631.5 246.8,632.7 253.8,634.0 260.8,635.2 267.8,636.5 274.9,637.8 281.9,639.0 288.9,640.3 295.9,641.6 302.9,642.9 309.9,644.1 316.9,645.4 324.0,646.6 331.0,647.9 338.0,649.1 345.0,650.3 352.0,651.4 359.0,652.6 366.1,653.7 373.1,654.8 380.1,655.8 387.1,656.9 394.1,657.8 401.1,658.8 408.2,659.7 415.2,660.6 422.2,661.4 429.2,662.1 436.2,662.9 443.2,663.5 450.2,664.1 457.3,664.7 464.3,665.2 471.3,665.6 478.3,666.0 485.3,666.3 492.3,666.5 499.4,666.7 506.4,666.8 513.4,666.8 520.4,666.7 527.4,666.5 534.4,666.3 541.5,666.0 548.5,665.6 555.5,665.1 562.5,664.5 569.5,663.9 576.5,663.1 583.6,662.2 590.6,661.3 597.6,660.2 604.6,659.0 611.6,657.8 618.6,656.5 625.7,655.1 632.7,653.7 639.7,652.2 646.7,650.7 653.7,649.2 660.7,647.7"/><polyline points="106.5,609.8 113.5,609.5 120.5,609.1 127.5,608.8 134.5,608.5 141.5,608.2 148.6,607.9 155.6,607.7 162.6,607.4 169.6,607.2 176.6,607.0 183.6,606.9 190.7,606.7 197.7,606.6 204.7,606.6 211.7,606.6 218.7,606.6 225.7,606.7 232.8,606.9 239.8,607.1 246.8,607.4 253.8,607.7 260.8,608.0 267.8,608.5 274.9,608.9 281.9,609.4 288.9,610.0 295.9,610.5 302.9,611.1 309.9,611.7 316.9,612.3 324.0,613.0 331.0,613.6 338.0,614.2 345.0,614.9 352.0,615.5 359.0,616.1 366.1,616.8 373.1,617.4 380.1,617.9 387.1,618.5 394.1,619.0 401.1,619.5 408.2,619.9 415.2,620.4 422.2,620.8 429.2,621.2 436.2,621.5 443.2,621.8 450.2,622.1 457.3,622.4 464.3,622.6 471.3,622.8 478.3,623.0 485.3,623.1 492.3,623.3 499.4,623.3 506.4,623.4 513.4,623.4 520.4,623.4 527.4,623.4 534.4,623.3 541.5,623.1 548.5,622.9 555.5,622.7 562.5,622.4 569.5,622.1 576.5,621.7 583.6,621.2 590.6,620.6 597.6,620.0 604.6,619.3 611.6,618.6 618.6,617.8 625.7,617.0 632.7,616.2 639.7,615.3 646.7,614.4 653.7,613.4 660.7,612.5"/><polyline points="106.5,609.8 113.5,609.9 120.5,610.0 127.5,610.2 134.5,610.3 141.5,610.4 148.6,610.6 155.6,610.7 162.6,610.9 169.6,611.0 176.6,611.2 183.6,611.4 190.7,611.7 197.7,611.9 204.7,612.2 211.7,612.5 218.7,612.8 225.7,613.1 232.8,613.5 239.8,613.9 246.8,614.3 253.8,614.7 260.8,615.2 267.8,615.7 274.9,616.3 281.9,616.8 288.9,617.4 295.9,618.0 302.9,618.6 309.9,619.2 316.9,619.9 324.0,620.5 331.0,621.2 338.0,621.9 345.0,622.5 352.0,623.2 359.0,623.9 366.1,624.6 373.1,625.3 380.1,626.0 387.1,626.8 394.1,627.5 401.1,628.1 408.2,628.8 415.2,629.5 422.2,630.1 429.2,630.7 436.2,631.3 443.2,631.8 450.2,632.3 457.3,632.7 464.3,633.1 471.3,633.5 478.3,633.8 485.3,634.0 492.3,634.1 499.4,634.2 506.4,634.2 513.4,634.1 520.4,633.9 527.4,633.7 534.4,633.4 541.5,633.0 548.5,632.6 555.5,632.1 562.5,631.5 569.5,630.9 576.5,630.2 583.6,629.5 590.6,628.8 597.6,627.9 604.6,627.1 611.6,626.2 618.6,625.3 625.7,624.3 632.7,623.3 639.7,622.3 646.7,621.3 653.7,620.3 660.7,619.3"/><polyline points="106.5,609.8 113.5,610.7 120.5,611.7 127.5,612.6 134.5,613.6 141.5,614.5 148.6,615.5 155.6,616.4 162.6,617.4 169.6,618.4 176.6,619.3 183.6,620.3 190.7,621.3 197.7,622.3 204.7,623.4 211.7,624.4 218.7,625.5 225.7,626.6 232.8,627.6 239.8,628.8 246.8,629.9 253.8,631.0 260.8,632.2 267.8,633.4 274.9,634.5 281.9,635.7 288.9,636.9 295.9,638.0 302.9,639.2 309.9,640.4 316.9,641.5 324.0,642.6 331.0,643.7 338.0,644.8 345.0,645.8 352.0,646.8 359.0,647.8 366.1,648.7 373.1,649.6 380.1,650.4 387.1,651.2 394.1,651.9 401.1,652.6 408.2,653.3 415.2,653.8 422.2,654.4 429.2,654.8 436.2,655.2 443.2,655.6 450.2,655.8 457.3,656.0 464.3,656.2 471.3,656.3 478.3,656.3 485.3,656.2 492.3,656.0 499.4,655.8 506.4,655.5 513.4,655.2 520.4,654.7 527.4,654.2 534.4,653.6 541.5,652.9 548.5,652.0 555.5,651.1 562.5,650.1 569.5,649.0 576.5,647.8 583.6,646.5 590.6,645.0 597.6,643.4 604.6,641.8 611.6,640.0 618.6,638.2 625.7,636.3 632.7,634.3 639.7,632.3 646.7,630.2 653.7,628.1 660.7,626.0"/><polyline points="106.5,609.8 113.5,611.0 120.5,612.2 127.5,613.5 134.5,614.7 141.5,615.9 148.6,617.2 155.6,618.4 162.6,619.7 169.6,620.9 176.6,622.2 183.6,623.5 190.7,624.8 197.7,626.1 204.7,627.4 211.7,628.7 218.7,630.0 225.7,631.4 232.8,632.8 239.8,634.2 246.8,635.6 253.8,637.0 260.8,638.5 267.8,639.9 274.9,641.4 281.9,642.8 288.9,644.3 295.9,645.7 302.9,647.1 309.9,648.6 316.9,650.0 324.0,651.4 331.0,652.7 338.0,654.0 345.0,655.3 352.0,656.6 359.0,657.8 366.1,659.0 373.1,660.2 380.1,661.3 387.1,662.3 394.1,663.3 401.1,664.2 408.2,665.1 415.2,665.9 422.2,666.7 429.2,667.4 436.2,668.0 443.2,668.6 450.2,669.1 457.3,669.6 464.3,670.1 471.3,670.4 478.3,670.7 485.3,671.0 492.3,671.1 499.4,671.3 506.4,671.3 513.4,671.3 520.4,671.3 527.4,671.1 534.4,670.9 541.5,670.7 548.5,670.3 555.5,669.9 562.5,669.4 569.5,668.9 576.5,668.2 583.6,667.5 590.6,666.7 597.6,665.8 604.6,664.8 611.6,663.8 618.6,662.7 625.7,661.5 632.7,660.3 639.7,659.1 646.7,657.8 653.7,656.6 660.7,655.3"/><polyline points="106.5,609.8 113.5,610.7 120.5,611.5 127.5,612.4 134.5,613.2 141.5,614.1 148.6,615.0 155.6,615.9 162.6,616.8 169.6,617.8 176.6,618.7 183.6,619.7 190.7,620.7 197.7,621.8 204.7,622.8 211.7,624.0 218.7,625.1 225.7,626.3 232.8,627.5 239.8,628.8 246.8,630.1 253.8,631.4 260.8,632.8 267.8,634.2 274.9,635.7 281.9,637.1 288.9,638.6 295.9,640.2 302.9,641.7 309.9,643.2 316.9,644.8 324.0,646.4 331.0,647.9 338.0,649.5 345.0,651.0 352.0,652.6 359.0,654.1 366.1,655.6 373.1,657.1 380.1,658.5 387.1,660.0 394.1,661.4 401.1,662.7 408.2,664.0 415.2,665.3 422.2,666.5 429.2,667.7 436.2,668.8 443.2,669.8 450.2,670.8 457.3,671.6 464.3,672.4 471.3,673.2 478.3,673.8 485.3,674.3 492.3,674.7 499.4,675.1 506.4,675.3 513.4,675.4 520.4,675.4 527.4,675.4 534.4,675.2 541.5,675.0 548.5,674.7 555.5,674.4 562.5,674.0 569.5,673.6 576.5,673.1 583.6,672.6 590.6,672.1 597.6,671.6 604.6,671.0 611.6,670.5 618.6,669.9 625.7,669.3 632.7,668.7 639.7,668.2 646.7,667.6 653.7,667.0 660.7,666.4"/><polyline points="106.5,609.8 113.5,611.1 120.5,612.4 127.5,613.8 134.5,615.1 141.5,616.4 148.6,617.8 155.6,619.1 162.6,620.5 169.6,621.9 176.6,623.3 183.6,624.7 190.7,626.1 197.7,627.6 204.7,629.1 211.7,630.6 218.7,632.1 225.7,633.7 232.8,635.3 239.8,636.9 246.8,638.5 253.8,640.2 260.8,641.9 267.8,643.7 274.9,645.4 281.9,647.2 288.9,648.9 295.9,650.7 302.9,652.4 309.9,654.1 316.9,655.8 324.0,657.5 331.0,659.2 338.0,660.8 345.0,662.4 352.0,663.9 359.0,665.3 366.1,666.8 373.1,668.1 380.1,669.4 387.1,670.6 394.1,671.7 401.1,672.8 408.2,673.8 415.2,674.7 422.2,675.5 429.2,676.3 436.2,677.1 443.2,677.8 450.2,678.4 457.3,678.9 464.3,679.4 471.3,679.9 478.3,680.3 485.3,680.7 492.3,681.0 499.4,681.3 506.4,681.5 513.4,681.7 520.4,681.9 527.4,682.0 534.4,682.0 541.5,682.0 548.5,681.9 555.5,681.8 562.5,681.6 569.5,681.4 576.5,681.1 583.6,680.7 590.6,680.2 597.6,679.7 604.6,679.1 611.6,678.4 618.6,677.7 625.7,676.9 632.7,676.1 639.7,675.2 646.7,674.4 653.7,673.5 660.7,672.6"/><polyline points="106.5,609.8 113.5,610.8 120.5,611.8 127.5,612.8 134.5,613.9 141.5,614.9 148.6,616.0 155.6,617.0 162.6,618.1 169.6,619.2 176.6,620.3 183.6,621.4 190.7,622.6 197.7,623.7 204.7,624.9 211.7,626.2 218.7,627.4 225.7,628.8 232.8,630.1 239.8,631.5 246.8,632.9 253.8,634.3 260.8,635.8 267.8,637.3 274.9,638.9 281.9,640.5 288.9,642.1 295.9,643.7 302.9,645.3 309.9,647.0 316.9,648.7 324.0,650.4 331.0,652.1 338.0,653.8 345.0,655.5 352.0,657.2 359.0,658.9 366.1,660.6 373.1,662.3 380.1,664.0 387.1,665.6 394.1,667.3 401.1,668.9 408.2,670.6 415.2,672.1 422.2,673.7 429.2,675.3 436.2,676.8 443.2,678.2 450.2,679.7 457.3,681.0 464.3,682.4 471.3,683.7 478.3,684.9 485.3,686.1 492.3,687.3 499.4,688.3 506.4,689.3 513.4,690.3 520.4,691.2 527.4,692.0 534.4,692.8 541.5,693.4 548.5,694.1 555.5,694.6 562.5,695.1 569.5,695.6 576.5,695.9 583.6,696.2 590.6,696.5 597.6,696.6 604.6,696.7 611.6,696.8 618.6,696.8 625.7,696.7 632.7,696.7 639.7,696.6 646.7,696.5 653.7,696.3 660.7,696.2"/><polyline points="106.5,609.8 113.5,611.4 120.5,613.0 127.5,614.6 134.5,616.2 141.5,617.8 148.6,619.4 155.6,621.0 162.6,622.7 169.6,624.3 176.6,626.0 183.6,627.7 190.7,629.4 197.7,631.2 204.7,632.9 211.7,634.7 218.7,636.6 225.7,638.4 232.8,640.4 239.8,642.3 246.8,644.3 253.8,646.3 260.8,648.3 267.8,650.4 274.9,652.5 281.9,654.5 288.9,656.6 295.9,658.7 302.9,660.7 309.9,662.8 316.9,664.7 324.0,666.7 331.0,668.6 338.0,670.5 345.0,672.3 352.0,674.0 359.0,675.7 366.1,677.3 373.1,678.8 380.1,680.2 387.1,681.5 394.1,682.7 401.1,683.9 408.2,684.9 415.2,685.9 422.2,686.8 429.2,687.6 436.2,688.4 443.2,689.1 450.2,689.8 457.3,690.5 464.3,691.1 471.3,691.6 478.3,692.2 485.3,692.7 492.3,693.2 499.4,693.7 506.4,694.3 513.4,694.8 520.4,695.3 527.4,695.8 534.4,696.2 541.5,696.7 548.5,697.1 555.5,697.6 562.5,697.9 569.5,698.3 576.5,698.6 583.6,698.9 590.6,699.2 597.6,699.4 604.6,699.5 611.6,699.7 618.6,699.8 625.7,699.8 632.7,699.9 639.7,699.9 646.7,700.0 653.7,700.0 660.7,700.0"/><polyline points="106.5,609.8 113.5,611.7 120.5,613.5 127.5,615.4 134.5,617.3 141.5,619.1 148.6,621.0 155.6,622.9 162.6,624.9 169.6,626.8 176.6,628.8 183.6,630.7 190.7,632.8 197.7,634.8 204.7,636.9 211.7,639.0 218.7,641.1 225.7,643.3 232.8,645.5 239.8,647.7 246.8,650.0 253.8,652.3 260.8,654.7 267.8,657.0 274.9,659.4 281.9,661.8 288.9,664.2 295.9,666.6 302.9,668.9 309.9,671.2 316.9,673.5 324.0,675.7 331.0,677.9 338.0,680.0 345.0,682.1 352.0,684.1 359.0,686.0 366.1,687.8 373.1,689.5 380.1,691.0 387.1,692.5 394.1,693.9 401.1,695.1 408.2,696.3 415.2,697.3 422.2,698.3 429.2,699.2 436.2,700.0 443.2,700.8 450.2,701.4 457.3,702.1 464.3,702.6 471.3,703.1 478.3,703.6 485.3,704.1 492.3,704.5 499.4,704.9 506.4,705.2 513.4,705.6 520.4,705.9 527.4,706.2 534.4,706.5 541.5,706.7 548.5,706.9 555.5,707.1 562.5,707.2 569.5,707.3 576.5,707.3 583.6,707.3 590.6,707.3 597.6,707.2 604.6,707.0 611.6,706.9 618.6,706.6 625.7,706.4 632.7,706.1 639.7,705.8 646.7,705.5 653.7,705.2 660.7,704.9"/><polyline points="106.5,609.8 113.5,611.9 120.5,614.0 127.5,616.0 134.5,618.1 141.5,620.2 148.6,622.3 155.6,624.4 162.6,626.5 169.6,628.6 176.6,630.7 183.6,632.9 190.7,635.0 197.7,637.2 204.7,639.3 211.7,641.5 218.7,643.7 225.7,645.9 232.8,648.2 239.8,650.4 246.8,652.7 253.8,655.0 260.8,657.3 267.8,659.6 274.9,662.0 281.9,664.3 288.9,666.7 295.9,669.1 302.9,671.5 309.9,673.9 316.9,676.4 324.0,678.9 331.0,681.3 338.0,683.8 345.0,686.4 352.0,688.9 359.0,691.4 366.1,694.0 373.1,696.6 380.1,699.2 387.1,701.8 394.1,704.4 401.1,706.9 408.2,709.4 415.2,711.7 422.2,713.9 429.2,716.0 436.2,717.8 443.2,719.5 450.2,720.8 457.3,721.9 464.3,722.8 471.3,723.5 478.3,724.2 485.3,724.8 492.3,725.5 499.4,726.2 506.4,727.2 513.4,728.3 520.4,729.5 527.4,730.6 534.4,731.8 541.5,732.8 548.5,733.7 555.5,734.4 562.5,734.8 569.5,734.9 576.5,734.9 583.6,734.6 590.6,734.1 597.6,733.4 604.6,732.6 611.6,731.6 618.6,730.5 625.7,729.3 632.7,728.0 639.7,726.6 646.7,725.1 653.7,723.7 660.7,722.2"/><polyline points="106.5,609.8 113.5,611.5 120.5,613.2 127.5,614.9 134.5,616.7 141.5,618.4 148.6,620.1 155.6,621.8 162.6,623.5 169.6,625.2 176.6,626.9 183.6,628.6 190.7,630.3 197.7,632.1 204.7,633.8 211.7,635.5 218.7,637.2 225.7,638.9 232.8,640.6 239.8,642.3 246.8,644.0 253.8,645.7 260.8,647.4 267.8,649.1 274.9,650.7 281.9,652.3 288.9,653.9 295.9,655.5 302.9,657.0 309.9,658.4 316.9,659.9 324.0,661.2 331.0,662.5 338.0,663.7 345.0,664.9 352.0,666.0 359.0,666.9 366.1,667.9 373.1,668.7 380.1,669.4 387.1,670.0 394.1,670.5 401.1,670.9 408.2,671.2 415.2,671.5 422.2,671.7 429.2,671.7 436.2,671.8 443.2,671.7 450.2,671.6 457.3,671.4 464.3,671.2 471.3,670.9 478.3,670.6 485.3,670.2 492.3,669.8 499.4,669.4 506.4,668.9 513.4,668.4 520.4,667.9 527.4,667.4 534.4,666.8 541.5,666.2 548.5,665.6 555.5,664.9 562.5,664.2 569.5,663.5 576.5,662.8 583.6,662.0 590.6,661.3 597.6,660.4 604.6,659.6 611.6,658.7 618.6,657.9 625.7,657.0 632.7,656.0 639.7,655.1 646.7,654.2 653.7,653.3 660.7,652.3"/><polyline points="106.5,609.8 113.5,611.4 120.5,613.1 127.5,614.7 134.5,616.3 141.5,618.0 148.6,619.6 155.6,621.2 162.6,622.8 169.6,624.4 176.6,626.0 183.6,627.6 190.7,629.1 197.7,630.7 204.7,632.2 211.7,633.7 218.7,635.2 225.7,636.7 232.8,638.2 239.8,639.6 246.8,641.0 253.8,642.4 260.8,643.8 267.8,645.1 274.9,646.4 281.9,647.7 288.9,648.9 295.9,650.1 302.9,651.3 309.9,652.4 316.9,653.5 324.0,654.6 331.0,655.6 338.0,656.5 345.0,657.5 352.0,658.3 359.0,659.1 366.1,659.9 373.1,660.6 380.1,661.3 387.1,661.8 394.1,662.4 401.1,662.9 408.2,663.3 415.2,663.6 422.2,663.9 429.2,664.2 436.2,664.4 443.2,664.6 450.2,664.7 457.3,664.7 464.3,664.7 471.3,664.6 478.3,664.5 485.3,664.4 492.3,664.2 499.4,664.0 506.4,663.7 513.4,663.3 520.4,662.9 527.4,662.4 534.4,661.9 541.5,661.2 548.5,660.4 555.5,659.6 562.5,658.6 569.5,657.4 576.5,656.1 583.6,654.7 590.6,653.1 597.6,651.4 604.6,649.5 611.6,647.4 618.6,645.2 625.7,643.0 632.7,640.6 639.7,638.2 646.7,635.7 653.7,633.2 660.7,630.7"/><polyline points="106.5,609.8 113.5,610.9 120.5,611.9 127.5,613.0 134.5,614.1 141.5,615.2 148.6,616.3 155.6,617.5 162.6,618.6 169.6,619.8 176.6,621.1 183.6,622.3 190.7,623.6 197.7,625.0 204.7,626.4 211.7,627.8 218.7,629.3 225.7,630.9 232.8,632.5 239.8,634.2 246.8,635.9 253.8,637.7 260.8,639.6 267.8,641.5 274.9,643.5 281.9,645.5 288.9,647.5 295.9,649.6 302.9,651.7 309.9,653.8 316.9,655.9 324.0,658.1 331.0,660.2 338.0,662.4 345.0,664.5 352.0,666.6 359.0,668.7 366.1,670.8 373.1,672.8 380.1,674.8 387.1,676.7 394.1,678.6 401.1,680.4 408.2,682.1 415.2,683.7 422.2,685.0 429.2,686.2 436.2,687.2 443.2,687.9 450.2,688.3 457.3,688.5 464.3,688.4 471.3,688.1 478.3,687.6 485.3,687.0 492.3,686.4 499.4,685.6 506.4,684.9 513.4,684.1 520.4,683.4 527.4,682.6 534.4,681.8 541.5,681.0 548.5,680.2 555.5,679.3 562.5,678.5 569.5,677.6 576.5,676.7 583.6,675.8 590.6,674.8 597.6,673.8 604.6,672.8 611.6,671.7 618.6,670.7 625.7,669.6 632.7,668.5 639.7,667.4 646.7,666.2 653.7,665.1 660.7,664.0"/><polyline points="106.5,609.8 113.5,611.2 120.5,612.6 127.5,614.0 134.5,615.4 141.5,616.8 148.6,618.3 155.6,619.7 162.6,621.2 169.6,622.7 176.6,624.2 183.6,625.8 190.7,627.4 197.7,629.0 204.7,630.7 211.7,632.3 218.7,634.1 225.7,635.9 232.8,637.7 239.8,639.6 246.8,641.5 253.8,643.5 260.8,645.5 267.8,647.6 274.9,649.7 281.9,651.9 288.9,654.0 295.9,656.2 302.9,658.5 309.9,660.7 316.9,662.9 324.0,665.2 331.0,667.4 338.0,669.7 345.0,671.9 352.0,674.2 359.0,676.4 366.1,678.6 373.1,680.8 380.1,682.9 387.1,685.0 394.1,687.1 401.1,689.1 408.2,691.0 415.2,692.8 422.2,694.4 429.2,695.9 436.2,697.2 443.2,698.3 450.2,699.2 457.3,699.8 464.3,700.2 471.3,700.4 478.3,700.4 485.3,700.1 492.3,699.7 499.4,699.2 506.4,698.4 513.4,697.5 520.4,696.5 527.4,695.3 534.4,694.0 541.5,692.6 548.5,691.1 555.5,689.4 562.5,687.7 569.5,686.0 576.5,684.1 583.6,682.2 590.6,680.2 597.6,678.2 604.6,676.1 611.6,674.0 618.6,671.9 625.7,669.7 632.7,667.5 639.7,665.3 646.7,663.0 653.7,660.8 660.7,658.5"/><polyline points="106.5,609.8 113.5,610.6 120.5,611.4 127.5,612.2 134.5,613.0 141.5,613.8 148.6,614.7 155.6,615.5 162.6,616.3 169.6,617.1 176.6,618.0 183.6,618.8 190.7,619.7 197.7,620.6 204.7,621.4 211.7,622.3 218.7,623.2 225.7,624.2 232.8,625.1 239.8,626.0 246.8,627.0 253.8,628.0 260.8,629.0 267.8,630.0 274.9,631.1 281.9,632.2 288.9,633.4 295.9,634.5 302.9,635.8 309.9,637.0 316.9,638.3 324.0,639.7 331.0,641.2 338.0,642.7 345.0,644.2 352.0,645.8 359.0,647.5 366.1,649.3 373.1,651.2 380.1,653.1 387.1,655.2 394.1,657.2 401.1,659.3 408.2,661.4 415.2,663.5 422.2,665.5 429.2,667.4 436.2,669.1 443.2,670.7 450.2,672.1 457.3,673.3 464.3,674.2 471.3,675.0 478.3,675.7 485.3,676.2 492.3,676.6 499.4,676.9 506.4,677.1 513.4,677.3 520.4,677.5 527.4,677.7 534.4,677.9 541.5,678.1 548.5,678.3 555.5,678.6 562.5,678.8 569.5,679.1 576.5,679.5 583.6,679.8 590.6,680.2 597.6,680.6 604.6,681.1 611.6,681.6 618.6,682.1 625.7,682.7 632.7,683.2 639.7,683.8 646.7,684.4 653.7,685.0 660.7,685.6"/><polyline points="106.5,609.8 113.5,611.2 120.5,612.7 127.5,614.1 134.5,615.6 141.5,617.0 148.6,618.5 155.6,619.9 162.6,621.4 169.6,622.8 176.6,624.2 183.6,625.6 190.7,627.1 197.7,628.5 204.7,629.9 211.7,631.3 218.7,632.7 225.7,634.1 232.8,635.5 239.8,636.9 246.8,638.3 253.8,639.6 260.8,641.0 267.8,642.4 274.9,643.7 281.9,645.1 288.9,646.4 295.9,647.8 302.9,649.1 309.9,650.4 316.9,651.8 324.0,653.1 331.0,654.5 338.0,655.8 345.0,657.2 352.0,658.5 359.0,659.9 366.1,661.2 373.1,662.6 380.1,664.0 387.1,665.3 394.1,666.7 401.1,668.0 408.2,669.4 415.2,670.6 422.2,671.8 429.2,672.9 436.2,674.0 443.2,674.9 450.2,675.7 457.3,676.4 464.3,676.9 471.3,677.3 478.3,677.5 485.3,677.5 492.3,677.3 499.4,677.0 506.4,676.4 513.4,675.7 520.4,674.9 527.4,674.0 534.4,672.9 541.5,671.8 548.5,670.6 555.5,669.4 562.5,668.1 569.5,666.8 576.5,665.4 583.6,664.1 590.6,662.7 597.6,661.2 604.6,659.8 611.6,658.3 618.6,656.8 625.7,655.3 632.7,653.8 639.7,652.3 646.7,650.8 653.7,649.2 660.7,647.7"/></g><g fill="#00c800" fill-opacity="0.21"><polygon points="106.5,609.8 110.0,608.4 113.5,607.0 117.0,605.6 120.5,604.2 124.0,602.8 127.5,601.4 131.0,600.1 134.5,598.8 138.0,597.4 141.5,596.2 145.1,594.9 148.6,593.7 152.1,592.5 155.6,591.4 159.1,590.3 162.6,589.3 166.1,588.3 169.6,587.3 173.1,586.4 176.6,585.6 180.1,584.8 183.6,584.1 187.2,583.4 190.7,582.7 194.2,582.1 197.7,581.5 201.2,581.0 204.7,580.5 208.2,580.1 211.7,579.6 215.2,579.2 218.7,578.8 222.2,578.5 225.7,578.2 229.2,577.9 232.8,577.6 236.3,577.3 239.8,577.0 243.3,576.8 246.8,576.6 250.3,576.3 253.8,576.1 257.3,576.0 260.8,575.8 264.3,575.7 267.8,575.7 271.3,575.7 274.9,575.7 278.4,575.8 281.9,575.9 285.4,576.1 288.9,576.3 292.4,576.6 295.9,577.0 299.4,577.4 302.9,577.9 306.4,578.5 309.9,579.2 313.4,580.0 316.9,580.8 320.5,581.7 324.0,582.6 327.5,583.6 331.0,584.6 334.5,585.6 338.0,586.7 341.5,587.7 345.0,588.7 348.5,589.6 352.0,590.6 355.5,591.5 359.0,592.4 362.6,593.4 366.1,594.3 369.6,595.2 373.1,596.2 376.6,597.1 380.1,598.2 383.6,599.2 387.1,600.3 390.6,601.4 394.1,602.5 397.6,603.6 401.1,604.6 404.6,605.7 408.2,606.6 411.7,607.6 415.2,608.4 418.7,609.2 422.2,610.0 425.7,610.6 429.2,611.2 432.7,611.7 436.2,612.2 439.7,612.7 443.2,613.1 446.7,613.5 450.2,613.9 453.8,614.2 457.3,614.6 460.8,614.9 464.3,615.2 467.8,615.5 471.3,615.7 474.8,615.9 478.3,616.1 481.8,616.2 485.3,616.3 488.8,616.3 492.3,616.3 495.9,616.3 499.4,616.2 502.9,616.1 506.4,615.9 509.9,615.8 513.4,615.6 516.9,615.4 520.4,615.2 523.9,615.0 527.4,614.8 530.9,614.6 534.4,614.4 538.0,614.2 541.5,614.0 545.0,613.8 548.5,613.5 552.0,613.3 555.5,613.0 559.0,612.8 562.5,612.5 566.0,612.2 569.5,611.9 573.0,611.6 576.5,611.2 580.0,610.8 583.6,610.4 587.1,610.0 590.6,609.5 594.1,609.0 597.6,608.5 601.1,607.9 604.6,607.3 608.1,606.7 611.6,606.0 615.1,605.3 618.6,604.6 622.1,603.8 625.7,603.0 629.2,602.2 632.7,601.4 636.2,600.6 639.7,599.7 643.2,598.8 646.7,598.0 650.2,597.1 653.7,596.2 657.2,595.3 660.7,594.4 660.7,641.8 657.2,642.8 653.7,643.8 650.2,644.9 646.7,645.9 643.2,646.9 639.7,647.9 636.2,648.9 632.7,649.9 629.2,650.9 625.7,651.8 622.1,652.7 618.6,653.6 615.1,654.5 611.6,655.3 608.1,656.1 604.6,656.9 601.1,657.7 597.6,658.4 594.1,659.0 590.6,659.6 587.1,660.2 583.6,660.7 580.0,661.2 576.5,661.7 573.0,662.2 569.5,662.6 566.0,663.0 562.5,663.4 559.0,663.8 555.5,664.2 552.0,664.7 548.5,665.1 545.0,665.5 541.5,665.9 538.0,666.4 534.4,666.8 530.9,667.2 527.4,667.6 523.9,667.9 520.4,668.3 516.9,668.6 513.4,668.9 509.9,669.2 506.4,669.5 502.9,669.7 499.4,669.9 495.9,670.1 492.3,670.3 488.8,670.5 485.3,670.6 481.8,670.7 478.3,670.9 474.8,671.0 471.3,671.1 467.8,671.2 464.3,671.3 460.8,671.3 457.3,671.4 453.8,671.5 450.2,671.5 446.7,671.6 443.2,671.7 439.7,671.7 436.2,671.8 432.7,671.8 429.2,671.9 425.7,672.0 422.2,672.0 418.7,672.1 415.2,672.1 411.7,672.2 408.2,672.3 404.6,672.3 401.1,672.4 397.6,672.5 394.1,672.5 390.6,672.6 387.1,672.7 383.6,672.8 380.1,672.9 376.6,673.0 373.1,673.1 369.6,673.2 366.1,673.3 362.6,673.4 359.0,673.5 355.5,673.6 352.0,673.6 348.5,673.7 345.0,673.7 341.5,673.7 338.0,673.6 334.5,673.6 331.0,673.5 327.5,673.4 324.0,673.2 320.5,673.0 316.9,672.7 313.4,672.4 309.9,672.1 306.4,671.7 302.9,671.2 299.4,670.7 295.9,670.2 292.4,669.6 288.9,668.9 285.4,668.2 281.9,667.5 278.4,666.7 274.9,665.9 271.3,665.1 267.8,664.2 264.3,663.3 260.8,662.4 257.3,661.5 253.8,660.5 250.3,659.5 246.8,658.5 243.3,657.4 239.8,656.4 236.3,655.3 232.8,654.2 229.2,653.1 225.7,652.0 222.2,650.9 218.7,649.7 215.2,648.6 211.7,647.4 208.2,646.3 204.7,645.1 201.2,643.9 197.7,642.7 194.2,641.5 190.7,640.3 187.2,639.0 183.6,637.8 180.1,636.6 176.6,635.3 173.1,634.1 169.6,632.8 166.1,631.6 162.6,630.3 159.1,629.0 155.6,627.8 152.1,626.5 148.6,625.2 145.1,623.9 141.5,622.7 138.0,621.4 134.5,620.1 131.0,618.8 127.5,617.5 124.0,616.2 120.5,615.0 117.0,613.7 113.5,612.4 110.0,611.1 106.5,609.8"/></g><line x1="84.5" y1="609.80" x2="683" y2="609.80" stroke="#444" stroke-width="1.7"/><polyline points="106.5,609.8 110.0,609.9 113.5,610.0 117.0,610.0 120.5,610.1 124.0,610.2 127.5,610.3 131.0,610.4 134.5,610.5 138.0,610.6 141.5,610.7 145.1,610.8 148.6,610.9 152.1,611.0 155.6,611.1 159.1,611.3 162.6,611.4 166.1,611.5 169.6,611.7 173.1,611.9 176.6,612.0 180.1,612.2 183.6,612.4 187.2,612.6 190.7,612.8 194.2,613.0 197.7,613.2 201.2,613.4 204.7,613.6 208.2,613.9 211.7,614.1 215.2,614.4 218.7,614.7 222.2,615.0 225.7,615.3 229.2,615.6 232.8,615.9 236.3,616.2 239.8,616.6 243.3,616.9 246.8,617.3 250.3,617.7 253.8,618.0 257.3,618.4 260.8,618.8 264.3,619.3 267.8,619.7 271.3,620.1 274.9,620.6 278.4,621.0 281.9,621.4 285.4,621.9 288.9,622.4 292.4,622.8 295.9,623.3 299.4,623.8 302.9,624.3 306.4,624.7 309.9,625.2 313.4,625.7 316.9,626.2 320.5,626.7 324.0,627.2 327.5,627.7 331.0,628.2 334.5,628.7 338.0,629.2 341.5,629.7 345.0,630.2 348.5,630.7 352.0,631.2 355.5,631.6 359.0,632.1 362.6,632.6 366.1,633.1 369.6,633.6 373.1,634.0 376.6,634.5 380.1,635.0 383.6,635.4 387.1,635.9 390.6,636.4 394.1,636.8 397.6,637.2 401.1,637.7 404.6,638.1 408.2,638.5 411.7,638.9 415.2,639.3 418.7,639.7 422.2,640.1 425.7,640.5 429.2,640.8 432.7,641.2 436.2,641.5 439.7,641.9 443.2,642.2 446.7,642.5 450.2,642.8 453.8,643.1 457.3,643.4 460.8,643.7 464.3,643.9 467.8,644.2 471.3,644.4 474.8,644.6 478.3,644.8 481.8,644.9 485.3,645.0 488.8,645.1 492.3,645.1 495.9,645.2 499.4,645.1 502.9,645.1 506.4,645.0 509.9,644.9 513.4,644.8 516.9,644.7 520.4,644.5 523.9,644.2 527.4,644.0 530.9,643.7 534.4,643.4 538.0,643.0 541.5,642.7 545.0,642.2 548.5,641.7 552.0,641.2 555.5,640.7 559.0,640.1 562.5,639.4 566.0,638.7 569.5,638.0 573.0,637.3 576.5,636.5 580.0,635.7 583.6,634.9 587.1,634.1 590.6,633.4 594.1,632.6 597.6,631.8 601.1,631.0 604.6,630.3 608.1,629.5 611.6,628.7 615.1,628.0 618.6,627.2 622.1,626.5 625.7,625.8 629.2,625.0 632.7,624.3 636.2,623.5 639.7,622.8 643.2,622.1 646.7,621.4 650.2,620.6 653.7,619.9 657.2,619.2 660.7,618.5" fill="none" stroke="#00c000" stroke-width="3.2" stroke-linecap="round" stroke-linejoin="round"/><g font-family="Liberation Sans, sans-serif" font-size="23" fill="#000"><text x="78.6" y="508.78" text-anchor="end">4</text><text x="78.6" y="562.94" text-anchor="end">2</text><text x="78.6" y="617.10" text-anchor="end">0</text><text x="78.6" y="671.26" text-anchor="end">-2</text><text x="78.6" y="725.42" text-anchor="end">-4</text><text x="78.6" y="779.58" text-anchor="end">-6</text><text x="78.6" y="833.74" text-anchor="end">-8</text><text x="78.6" y="887.90" text-anchor="end">-10</text><text x="99.85" y="903.20" text-anchor="middle">0</text><text x="170.01" y="903.20" text-anchor="middle">10</text><text x="240.17" y="903.20" text-anchor="middle">20</text><text x="310.33" y="903.20" text-anchor="middle">30</text><text x="380.49" y="903.20" text-anchor="middle">40</text><text x="450.65" y="903.20" text-anchor="middle">50</text><text x="520.81" y="903.20" text-anchor="middle">60</text><text x="590.97" y="903.20" text-anchor="middle">70</text><text x="661.13" y="903.20" text-anchor="middle">80</text></g><g stroke="#9ccbe2" stroke-width="1.1" stroke-dasharray="1.5 2.25" fill="none"><line x1="84.5" y1="985.38" x2="682" y2="985.38"/><line x1="84.5" y1="1039.54" x2="682" y2="1039.54"/><line x1="84.5" y1="1093.70" x2="682" y2="1093.70"/><line x1="84.5" y1="1147.86" x2="682" y2="1147.86"/><line x1="84.5" y1="1202.02" x2="682" y2="1202.02"/><line x1="84.5" y1="1256.18" x2="682" y2="1256.18"/><line x1="84.5" y1="1310.34" x2="682" y2="1310.34"/><line x1="84.5" y1="1364.50" x2="682" y2="1364.50"/><line x1="99.45" y1="970.98" x2="99.45" y2="1379.50"/><line x1="169.61" y1="970.98" x2="169.61" y2="1379.50"/><line x1="239.77" y1="970.98" x2="239.77" y2="1379.50"/><line x1="309.93" y1="970.98" x2="309.93" y2="1379.50"/><line x1="380.09" y1="970.98" x2="380.09" y2="1379.50"/><line x1="450.25" y1="970.98" x2="450.25" y2="1379.50"/><line x1="520.41" y1="970.98" x2="520.41" y2="1379.50"/><line x1="590.57" y1="970.98" x2="590.57" y2="1379.50"/><line x1="660.73" y1="970.98" x2="660.73" y2="1379.50"/></g><g fill="none" stroke="#000" stroke-opacity="0.21" stroke-width="1.15" stroke-linejoin="round"><polyline points="106.5,1093.7 113.5,1093.7 120.5,1093.8 127.5,1093.8 134.5,1093.8 141.5,1093.9 148.6,1093.9 155.6,1093.9 162.6,1094.0 169.6,1094.0 176.6,1094.0 183.6,1094.1 190.7,1094.1 197.7,1094.1 204.7,1094.2 211.7,1094.2 218.7,1094.2 225.7,1094.2 232.8,1094.2 239.8,1094.2 246.8,1094.3 253.8,1094.3 260.8,1094.3 267.8,1094.3 274.9,1094.3 281.9,1094.3 288.9,1094.3 295.9,1094.3 302.9,1094.3 309.9,1094.4 316.9,1094.4 324.0,1094.4 331.0,1094.5 338.0,1094.5 345.0,1094.6 352.0,1094.7 359.0,1094.7 366.1,1094.8 373.1,1094.9 380.1,1095.1 387.1,1095.2 394.1,1095.3 401.1,1095.5 408.2,1095.6 415.2,1095.8 422.2,1095.9 429.2,1096.1 436.2,1096.2 443.2,1096.3 450.2,1096.4 457.3,1096.5 464.3,1096.6 471.3,1096.6 478.3,1096.6 485.3,1096.7 492.3,1096.7 499.4,1096.8 506.4,1096.8 513.4,1096.9 520.4,1096.9 527.4,1097.0 534.4,1097.2 541.5,1097.3 548.5,1097.4 555.5,1097.6 562.5,1097.8 569.5,1098.0 576.5,1098.2 583.6,1098.4 590.6,1098.6 597.6,1098.8 604.6,1099.0 611.6,1099.3 618.6,1099.5 625.7,1099.7 632.7,1100.0 639.7,1100.2 646.7,1100.5 653.7,1100.8 660.7,1101.0"/><polyline points="106.5,1093.7 113.5,1093.7 120.5,1093.8 127.5,1093.8 134.5,1093.9 141.5,1093.9 148.6,1094.0 155.6,1094.0 162.6,1094.1 169.6,1094.1 176.6,1094.2 183.6,1094.2 190.7,1094.2 197.7,1094.3 204.7,1094.3 211.7,1094.4 218.7,1094.4 225.7,1094.4 232.8,1094.5 239.8,1094.5 246.8,1094.5 253.8,1094.6 260.8,1094.6 267.8,1094.6 274.9,1094.7 281.9,1094.7 288.9,1094.8 295.9,1094.8 302.9,1094.8 309.9,1094.9 316.9,1095.0 324.0,1095.0 331.0,1095.1 338.0,1095.2 345.0,1095.3 352.0,1095.4 359.0,1095.5 366.1,1095.6 373.1,1095.7 380.1,1095.9 387.1,1096.0 394.1,1096.2 401.1,1096.4 408.2,1096.6 415.2,1096.8 422.2,1097.0 429.2,1097.2 436.2,1097.4 443.2,1097.6 450.2,1097.8 457.3,1098.0 464.3,1098.2 471.3,1098.3 478.3,1098.5 485.3,1098.7 492.3,1098.9 499.4,1099.1 506.4,1099.3 513.4,1099.5 520.4,1099.7 527.4,1099.9 534.4,1100.1 541.5,1100.3 548.5,1100.5 555.5,1100.7 562.5,1100.9 569.5,1101.1 576.5,1101.3 583.6,1101.6 590.6,1101.8 597.6,1102.1 604.6,1102.3 611.6,1102.6 618.6,1102.9 625.7,1103.1 632.7,1103.4 639.7,1103.7 646.7,1104.0 653.7,1104.2 660.7,1104.5"/><polyline points="106.5,1093.7 113.5,1093.8 120.5,1093.8 127.5,1093.9 134.5,1093.9 141.5,1094.0 148.6,1094.1 155.6,1094.1 162.6,1094.2 169.6,1094.2 176.6,1094.3 183.6,1094.4 190.7,1094.4 197.7,1094.5 204.7,1094.5 211.7,1094.6 218.7,1094.6 225.7,1094.7 232.8,1094.7 239.8,1094.8 246.8,1094.8 253.8,1094.9 260.8,1094.9 267.8,1095.0 274.9,1095.0 281.9,1095.1 288.9,1095.1 295.9,1095.2 302.9,1095.3 309.9,1095.3 316.9,1095.4 324.0,1095.5 331.0,1095.6 338.0,1095.7 345.0,1095.8 352.0,1095.9 359.0,1096.0 366.1,1096.1 373.1,1096.3 380.1,1096.4 387.1,1096.6 394.1,1096.7 401.1,1096.9 408.2,1097.1 415.2,1097.3 422.2,1097.5 429.2,1097.7 436.2,1097.9 443.2,1098.1 450.2,1098.3 457.3,1098.5 464.3,1098.7 471.3,1098.9 478.3,1099.1 485.3,1099.3 492.3,1099.5 499.4,1099.7 506.4,1099.9 513.4,1100.2 520.4,1100.5 527.4,1100.8 534.4,1101.1 541.5,1101.4 548.5,1101.8 555.5,1102.1 562.5,1102.5 569.5,1102.9 576.5,1103.3 583.6,1103.6 590.6,1104.0 597.6,1104.3 604.6,1104.7 611.6,1105.0 618.6,1105.4 625.7,1105.7 632.7,1106.0 639.7,1106.3 646.7,1106.6 653.7,1106.9 660.7,1107.2"/><polyline points="106.5,1093.7 113.5,1093.8 120.5,1093.9 127.5,1093.9 134.5,1094.0 141.5,1094.1 148.6,1094.2 155.6,1094.2 162.6,1094.3 169.6,1094.4 176.6,1094.4 183.6,1094.5 190.7,1094.6 197.7,1094.7 204.7,1094.7 211.7,1094.8 218.7,1094.9 225.7,1094.9 232.8,1095.0 239.8,1095.1 246.8,1095.1 253.8,1095.2 260.8,1095.2 267.8,1095.3 274.9,1095.4 281.9,1095.4 288.9,1095.5 295.9,1095.6 302.9,1095.6 309.9,1095.7 316.9,1095.8 324.0,1095.9 331.0,1096.0 338.0,1096.1 345.0,1096.2 352.0,1096.3 359.0,1096.5 366.1,1096.6 373.1,1096.8 380.1,1096.9 387.1,1097.1 394.1,1097.3 401.1,1097.5 408.2,1097.7 415.2,1098.0 422.2,1098.2 429.2,1098.4 436.2,1098.6 443.2,1098.9 450.2,1099.1 457.3,1099.4 464.3,1099.6 471.3,1099.8 478.3,1100.1 485.3,1100.3 492.3,1100.6 499.4,1100.9 506.4,1101.2 513.4,1101.5 520.4,1101.8 527.4,1102.2 534.4,1102.5 541.5,1102.9 548.5,1103.3 555.5,1103.8 562.5,1104.2 569.5,1104.6 576.5,1105.0 583.6,1105.5 590.6,1105.9 597.6,1106.3 604.6,1106.7 611.6,1107.1 618.6,1107.5 625.7,1108.0 632.7,1108.4 639.7,1108.8 646.7,1109.2 653.7,1109.6 660.7,1109.9"/><polyline points="106.5,1093.7 113.5,1093.8 120.5,1093.8 127.5,1093.9 134.5,1094.0 141.5,1094.1 148.6,1094.1 155.6,1094.2 162.6,1094.3 169.6,1094.4 176.6,1094.4 183.6,1094.5 190.7,1094.6 197.7,1094.6 204.7,1094.7 211.7,1094.8 218.7,1094.9 225.7,1094.9 232.8,1095.0 239.8,1095.1 246.8,1095.1 253.8,1095.2 260.8,1095.3 267.8,1095.3 274.9,1095.4 281.9,1095.5 288.9,1095.5 295.9,1095.6 302.9,1095.7 309.9,1095.8 316.9,1095.9 324.0,1096.0 331.0,1096.1 338.0,1096.3 345.0,1096.4 352.0,1096.5 359.0,1096.7 366.1,1096.8 373.1,1097.0 380.1,1097.2 387.1,1097.4 394.1,1097.6 401.1,1097.9 408.2,1098.1 415.2,1098.4 422.2,1098.6 429.2,1098.9 436.2,1099.1 443.2,1099.4 450.2,1099.7 457.3,1099.9 464.3,1100.2 471.3,1100.5 478.3,1100.7 485.3,1101.0 492.3,1101.3 499.4,1101.6 506.4,1101.9 513.4,1102.3 520.4,1102.6 527.4,1103.0 534.4,1103.4 541.5,1103.9 548.5,1104.3 555.5,1104.8 562.5,1105.2 569.5,1105.7 576.5,1106.2 583.6,1106.7 590.6,1107.2 597.6,1107.8 604.6,1108.3 611.6,1108.8 618.6,1109.4 625.7,1109.9 632.7,1110.5 639.7,1111.0 646.7,1111.6 653.7,1112.1 660.7,1112.7"/><polyline points="106.5,1093.7 113.5,1093.8 120.5,1093.9 127.5,1094.0 134.5,1094.1 141.5,1094.1 148.6,1094.2 155.6,1094.3 162.6,1094.4 169.6,1094.5 176.6,1094.6 183.6,1094.7 190.7,1094.8 197.7,1094.8 204.7,1094.9 211.7,1095.0 218.7,1095.1 225.7,1095.2 232.8,1095.2 239.8,1095.3 246.8,1095.4 253.8,1095.5 260.8,1095.6 267.8,1095.6 274.9,1095.7 281.9,1095.8 288.9,1095.9 295.9,1096.0 302.9,1096.1 309.9,1096.2 316.9,1096.3 324.0,1096.4 331.0,1096.5 338.0,1096.7 345.0,1096.8 352.0,1097.0 359.0,1097.2 366.1,1097.4 373.1,1097.5 380.1,1097.8 387.1,1098.0 394.1,1098.2 401.1,1098.5 408.2,1098.7 415.2,1099.0 422.2,1099.3 429.2,1099.6 436.2,1099.9 443.2,1100.2 450.2,1100.5 457.3,1100.8 464.3,1101.1 471.3,1101.4 478.3,1101.7 485.3,1102.0 492.3,1102.3 499.4,1102.6 506.4,1103.0 513.4,1103.3 520.4,1103.7 527.4,1104.1 534.4,1104.5 541.5,1105.0 548.5,1105.4 555.5,1105.9 562.5,1106.4 569.5,1106.9 576.5,1107.4 583.6,1108.0 590.6,1108.6 597.6,1109.2 604.6,1109.8 611.6,1110.5 618.6,1111.1 625.7,1111.8 632.7,1112.5 639.7,1113.2 646.7,1113.9 653.7,1114.6 660.7,1115.4"/><polyline points="106.5,1093.7 113.5,1093.8 120.5,1093.9 127.5,1093.9 134.5,1094.0 141.5,1094.1 148.6,1094.2 155.6,1094.3 162.6,1094.4 169.6,1094.5 176.6,1094.5 183.6,1094.6 190.7,1094.7 197.7,1094.8 204.7,1094.9 211.7,1095.0 218.7,1095.1 225.7,1095.1 232.8,1095.2 239.8,1095.3 246.8,1095.4 253.8,1095.5 260.8,1095.6 267.8,1095.7 274.9,1095.8 281.9,1095.9 288.9,1096.0 295.9,1096.1 302.9,1096.2 309.9,1096.4 316.9,1096.5 324.0,1096.6 331.0,1096.8 338.0,1096.9 345.0,1097.1 352.0,1097.3 359.0,1097.4 366.1,1097.6 373.1,1097.8 380.1,1098.0 387.1,1098.3 394.1,1098.5 401.1,1098.7 408.2,1099.0 415.2,1099.3 422.2,1099.5 429.2,1099.8 436.2,1100.1 443.2,1100.4 450.2,1100.7 457.3,1101.1 464.3,1101.4 471.3,1101.8 478.3,1102.1 485.3,1102.5 492.3,1102.9 499.4,1103.3 506.4,1103.7 513.4,1104.1 520.4,1104.5 527.4,1105.0 534.4,1105.5 541.5,1105.9 548.5,1106.4 555.5,1107.0 562.5,1107.5 569.5,1108.1 576.5,1108.7 583.6,1109.3 590.6,1109.9 597.6,1110.6 604.6,1111.3 611.6,1112.1 618.6,1112.8 625.7,1113.6 632.7,1114.3 639.7,1115.1 646.7,1115.9 653.7,1116.7 660.7,1117.5"/><polyline points="106.5,1093.7 113.5,1093.8 120.5,1093.9 127.5,1094.0 134.5,1094.1 141.5,1094.2 148.6,1094.3 155.6,1094.4 162.6,1094.5 169.6,1094.6 176.6,1094.7 183.6,1094.8 190.7,1094.9 197.7,1095.0 204.7,1095.1 211.7,1095.2 218.7,1095.3 225.7,1095.4 232.8,1095.5 239.8,1095.6 246.8,1095.7 253.8,1095.8 260.8,1095.9 267.8,1096.0 274.9,1096.1 281.9,1096.2 288.9,1096.3 295.9,1096.4 302.9,1096.5 309.9,1096.7 316.9,1096.8 324.0,1097.0 331.0,1097.1 338.0,1097.3 345.0,1097.5 352.0,1097.7 359.0,1097.9 366.1,1098.1 373.1,1098.3 380.1,1098.6 387.1,1098.8 394.1,1099.1 401.1,1099.4 408.2,1099.7 415.2,1100.1 422.2,1100.4 429.2,1100.7 436.2,1101.1 443.2,1101.5 450.2,1101.8 457.3,1102.2 464.3,1102.6 471.3,1102.9 478.3,1103.3 485.3,1103.7 492.3,1104.1 499.4,1104.6 506.4,1105.0 513.4,1105.4 520.4,1105.9 527.4,1106.4 534.4,1106.9 541.5,1107.4 548.5,1107.9 555.5,1108.4 562.5,1109.0 569.5,1109.6 576.5,1110.2 583.6,1110.9 590.6,1111.6 597.6,1112.3 604.6,1113.0 611.6,1113.8 618.6,1114.5 625.7,1115.3 632.7,1116.1 639.7,1116.9 646.7,1117.8 653.7,1118.6 660.7,1119.4"/><polyline points="106.5,1093.7 113.5,1093.8 120.5,1093.9 127.5,1094.0 134.5,1094.2 141.5,1094.3 148.6,1094.4 155.6,1094.5 162.6,1094.6 169.6,1094.7 176.6,1094.8 183.6,1095.0 190.7,1095.1 197.7,1095.2 204.7,1095.3 211.7,1095.4 218.7,1095.5 225.7,1095.6 232.8,1095.8 239.8,1095.9 246.8,1096.0 253.8,1096.1 260.8,1096.2 267.8,1096.3 274.9,1096.4 281.9,1096.6 288.9,1096.7 295.9,1096.8 302.9,1097.0 309.9,1097.1 316.9,1097.3 324.0,1097.4 331.0,1097.6 338.0,1097.8 345.0,1098.0 352.0,1098.2 359.0,1098.4 366.1,1098.6 373.1,1098.9 380.1,1099.1 387.1,1099.4 394.1,1099.7 401.1,1100.0 408.2,1100.3 415.2,1100.6 422.2,1100.9 429.2,1101.3 436.2,1101.6 443.2,1102.0 450.2,1102.4 457.3,1102.7 464.3,1103.1 471.3,1103.5 478.3,1103.9 485.3,1104.3 492.3,1104.8 499.4,1105.2 506.4,1105.7 513.4,1106.2 520.4,1106.7 527.4,1107.2 534.4,1107.8 541.5,1108.4 548.5,1109.0 555.5,1109.6 562.5,1110.3 569.5,1111.0 576.5,1111.7 583.6,1112.4 590.6,1113.2 597.6,1114.0 604.6,1114.8 611.6,1115.7 618.6,1116.6 625.7,1117.5 632.7,1118.4 639.7,1119.3 646.7,1120.2 653.7,1121.2 660.7,1122.1"/><polyline points="106.5,1093.7 113.5,1093.8 120.5,1093.9 127.5,1094.0 134.5,1094.1 141.5,1094.3 148.6,1094.4 155.6,1094.5 162.6,1094.6 169.6,1094.7 176.6,1094.8 183.6,1094.9 190.7,1095.1 197.7,1095.2 204.7,1095.3 211.7,1095.4 218.7,1095.5 225.7,1095.6 232.8,1095.7 239.8,1095.9 246.8,1096.0 253.8,1096.1 260.8,1096.2 267.8,1096.4 274.9,1096.5 281.9,1096.6 288.9,1096.8 295.9,1096.9 302.9,1097.0 309.9,1097.2 316.9,1097.4 324.0,1097.6 331.0,1097.7 338.0,1097.9 345.0,1098.1 352.0,1098.4 359.0,1098.6 366.1,1098.8 373.1,1099.1 380.1,1099.4 387.1,1099.7 394.1,1100.0 401.1,1100.3 408.2,1100.6 415.2,1101.0 422.2,1101.4 429.2,1101.7 436.2,1102.1 443.2,1102.5 450.2,1102.9 457.3,1103.3 464.3,1103.7 471.3,1104.2 478.3,1104.6 485.3,1105.1 492.3,1105.6 499.4,1106.1 506.4,1106.6 513.4,1107.2 520.4,1107.8 527.4,1108.4 534.4,1109.1 541.5,1109.8 548.5,1110.5 555.5,1111.2 562.5,1112.0 569.5,1112.8 576.5,1113.6 583.6,1114.5 590.6,1115.4 597.6,1116.3 604.6,1117.2 611.6,1118.1 618.6,1119.0 625.7,1120.0 632.7,1120.9 639.7,1121.9 646.7,1122.9 653.7,1123.9 660.7,1124.8"/><polyline points="106.5,1093.7 113.5,1093.8 120.5,1094.0 127.5,1094.1 134.5,1094.2 141.5,1094.4 148.6,1094.5 155.6,1094.6 162.6,1094.8 169.6,1094.9 176.6,1095.0 183.6,1095.1 190.7,1095.3 197.7,1095.4 204.7,1095.5 211.7,1095.6 218.7,1095.8 225.7,1095.9 232.8,1096.0 239.8,1096.1 246.8,1096.3 253.8,1096.4 260.8,1096.5 267.8,1096.6 274.9,1096.7 281.9,1096.9 288.9,1097.0 295.9,1097.1 302.9,1097.3 309.9,1097.4 316.9,1097.6 324.0,1097.8 331.0,1098.0 338.0,1098.2 345.0,1098.4 352.0,1098.6 359.0,1098.8 366.1,1099.1 373.1,1099.4 380.1,1099.7 387.1,1100.0 394.1,1100.3 401.1,1100.6 408.2,1101.0 415.2,1101.4 422.2,1101.8 429.2,1102.2 436.2,1102.6 443.2,1103.0 450.2,1103.4 457.3,1103.9 464.3,1104.3 471.3,1104.8 478.3,1105.3 485.3,1105.8 492.3,1106.3 499.4,1106.8 506.4,1107.4 513.4,1108.0 520.4,1108.6 527.4,1109.3 534.4,1109.9 541.5,1110.7 548.5,1111.4 555.5,1112.2 562.5,1113.1 569.5,1113.9 576.5,1114.8 583.6,1115.8 590.6,1116.7 597.6,1117.7 604.6,1118.7 611.6,1119.8 618.6,1120.8 625.7,1121.9 632.7,1123.0 639.7,1124.2 646.7,1125.3 653.7,1126.4 660.7,1127.5"/><polyline points="106.5,1093.7 113.5,1093.8 120.5,1094.0 127.5,1094.1 134.5,1094.3 141.5,1094.4 148.6,1094.6 155.6,1094.7 162.6,1094.8 169.6,1095.0 176.6,1095.1 183.6,1095.3 190.7,1095.4 197.7,1095.6 204.7,1095.7 211.7,1095.8 218.7,1096.0 225.7,1096.1 232.8,1096.3 239.8,1096.4 246.8,1096.5 253.8,1096.7 260.8,1096.8 267.8,1097.0 274.9,1097.1 281.9,1097.3 288.9,1097.4 295.9,1097.6 302.9,1097.8 309.9,1097.9 316.9,1098.1 324.0,1098.3 331.0,1098.5 338.0,1098.7 345.0,1098.9 352.0,1099.2 359.0,1099.4 366.1,1099.6 373.1,1099.9 380.1,1100.2 387.1,1100.5 394.1,1100.8 401.1,1101.1 408.2,1101.5 415.2,1101.9 422.2,1102.2 429.2,1102.7 436.2,1103.1 443.2,1103.5 450.2,1104.0 457.3,1104.5 464.3,1105.0 471.3,1105.5 478.3,1106.1 485.3,1106.7 492.3,1107.3 499.4,1107.9 506.4,1108.6 513.4,1109.2 520.4,1109.9 527.4,1110.7 534.4,1111.4 541.5,1112.2 548.5,1113.0 555.5,1113.9 562.5,1114.8 569.5,1115.7 576.5,1116.6 583.6,1117.6 590.6,1118.6 597.6,1119.7 604.6,1120.8 611.6,1121.9 618.6,1123.0 625.7,1124.2 632.7,1125.4 639.7,1126.6 646.7,1127.8 653.7,1129.0 660.7,1130.3"/><polyline points="106.5,1093.7 113.5,1093.8 120.5,1094.0 127.5,1094.1 134.5,1094.3 141.5,1094.4 148.6,1094.6 155.6,1094.7 162.6,1094.8 169.6,1095.0 176.6,1095.1 183.6,1095.3 190.7,1095.4 197.7,1095.5 204.7,1095.7 211.7,1095.8 218.7,1096.0 225.7,1096.1 232.8,1096.3 239.8,1096.4 246.8,1096.6 253.8,1096.7 260.8,1096.8 267.8,1097.0 274.9,1097.1 281.9,1097.3 288.9,1097.5 295.9,1097.6 302.9,1097.8 309.9,1098.0 316.9,1098.2 324.0,1098.4 331.0,1098.6 338.0,1098.8 345.0,1099.1 352.0,1099.3 359.0,1099.6 366.1,1099.9 373.1,1100.2 380.1,1100.5 387.1,1100.8 394.1,1101.1 401.1,1101.5 408.2,1101.9 415.2,1102.3 422.2,1102.7 429.2,1103.1 436.2,1103.6 443.2,1104.1 450.2,1104.5 457.3,1105.0 464.3,1105.5 471.3,1106.1 478.3,1106.7 485.3,1107.2 492.3,1107.9 499.4,1108.5 506.4,1109.2 513.4,1110.0 520.4,1110.8 527.4,1111.6 534.4,1112.5 541.5,1113.4 548.5,1114.3 555.5,1115.3 562.5,1116.4 569.5,1117.4 576.5,1118.5 583.6,1119.6 590.6,1120.8 597.6,1121.9 604.6,1123.1 611.6,1124.3 618.6,1125.5 625.7,1126.7 632.7,1128.0 639.7,1129.2 646.7,1130.5 653.7,1131.7 660.7,1133.0"/><polyline points="106.5,1093.7 113.5,1093.9 120.5,1094.0 127.5,1094.2 134.5,1094.3 141.5,1094.5 148.6,1094.7 155.6,1094.8 162.6,1095.0 169.6,1095.1 176.6,1095.3 183.6,1095.5 190.7,1095.6 197.7,1095.8 204.7,1095.9 211.7,1096.1 218.7,1096.2 225.7,1096.4 232.8,1096.5 239.8,1096.7 246.8,1096.8 253.8,1097.0 260.8,1097.1 267.8,1097.3 274.9,1097.4 281.9,1097.6 288.9,1097.7 295.9,1097.9 302.9,1098.1 309.9,1098.2 316.9,1098.4 324.0,1098.6 331.0,1098.8 338.0,1099.1 345.0,1099.3 352.0,1099.6 359.0,1099.8 366.1,1100.1 373.1,1100.4 380.1,1100.7 387.1,1101.1 394.1,1101.4 401.1,1101.8 408.2,1102.2 415.2,1102.7 422.2,1103.1 429.2,1103.6 436.2,1104.0 443.2,1104.5 450.2,1105.1 457.3,1105.6 464.3,1106.2 471.3,1106.8 478.3,1107.5 485.3,1108.2 492.3,1108.9 499.4,1109.7 506.4,1110.6 513.4,1111.6 520.4,1112.7 527.4,1113.8 534.4,1115.0 541.5,1116.3 548.5,1117.6 555.5,1119.0 562.5,1120.4 569.5,1121.8 576.5,1123.2 583.6,1124.6 590.6,1125.9 597.6,1127.2 604.6,1128.5 611.6,1129.8 618.6,1131.0 625.7,1132.2 632.7,1133.3 639.7,1134.5 646.7,1135.6 653.7,1136.7 660.7,1137.8"/><polyline points="106.5,1093.7 113.5,1093.8 120.5,1094.0 127.5,1094.1 134.5,1094.3 141.5,1094.4 148.6,1094.6 155.6,1094.7 162.6,1094.8 169.6,1095.0 176.6,1095.1 183.6,1095.3 190.7,1095.4 197.7,1095.6 204.7,1095.7 211.7,1095.8 218.7,1096.0 225.7,1096.1 232.8,1096.3 239.8,1096.4 246.8,1096.6 253.8,1096.7 260.8,1096.8 267.8,1097.0 274.9,1097.1 281.9,1097.3 288.9,1097.5 295.9,1097.6 302.9,1097.8 309.9,1098.0 316.9,1098.2 324.0,1098.4 331.0,1098.6 338.0,1098.8 345.0,1099.1 352.0,1099.3 359.0,1099.6 366.1,1099.9 373.1,1100.2 380.1,1100.5 387.1,1100.8 394.1,1101.2 401.1,1101.5 408.2,1101.9 415.2,1102.4 422.2,1102.8 429.2,1103.3 436.2,1103.9 443.2,1104.5 450.2,1105.1 457.3,1105.7 464.3,1106.4 471.3,1107.2 478.3,1108.0 485.3,1108.9 492.3,1109.8 499.4,1110.7 506.4,1111.8 513.4,1112.9 520.4,1114.0 527.4,1115.2 534.4,1116.5 541.5,1117.8 548.5,1119.2 555.5,1120.6 562.5,1122.0 569.5,1123.4 576.5,1124.8 583.6,1126.2 590.6,1127.5 597.6,1128.9 604.6,1130.2 611.6,1131.5 618.6,1132.8 625.7,1134.1 632.7,1135.3 639.7,1136.6 646.7,1137.8 653.7,1139.1 660.7,1140.3"/><polyline points="106.5,1093.7 113.5,1093.9 120.5,1094.0 127.5,1094.2 134.5,1094.4 141.5,1094.6 148.6,1094.7 155.6,1094.9 162.6,1095.1 169.6,1095.3 176.6,1095.4 183.6,1095.6 190.7,1095.8 197.7,1095.9 204.7,1096.1 211.7,1096.3 218.7,1096.5 225.7,1096.6 232.8,1096.8 239.8,1096.9 246.8,1097.1 253.8,1097.3 260.8,1097.4 267.8,1097.6 274.9,1097.8 281.9,1098.0 288.9,1098.1 295.9,1098.3 302.9,1098.5 309.9,1098.7 316.9,1098.9 324.0,1099.1 331.0,1099.4 338.0,1099.6 345.0,1099.8 352.0,1100.1 359.0,1100.4 366.1,1100.7 373.1,1101.0 380.1,1101.3 387.1,1101.6 394.1,1102.0 401.1,1102.4 408.2,1102.8 415.2,1103.2 422.2,1103.7 429.2,1104.2 436.2,1104.7 443.2,1105.3 450.2,1105.9 457.3,1106.5 464.3,1107.3 471.3,1108.0 478.3,1108.8 485.3,1109.7 492.3,1110.7 499.4,1111.7 506.4,1112.9 513.4,1114.1 520.4,1115.4 527.4,1116.8 534.4,1118.2 541.5,1119.8 548.5,1121.4 555.5,1123.0 562.5,1124.7 569.5,1126.3 576.5,1127.9 583.6,1129.5 590.6,1131.1 597.6,1132.6 604.6,1134.0 611.6,1135.4 618.6,1136.7 625.7,1138.0 632.7,1139.2 639.7,1140.5 646.7,1141.7 653.7,1142.9 660.7,1144.1"/><polyline points="106.5,1093.7 113.5,1093.9 120.5,1094.2 127.5,1094.4 134.5,1094.6 141.5,1094.8 148.6,1095.1 155.6,1095.3 162.6,1095.5 169.6,1095.7 176.6,1095.9 183.6,1096.2 190.7,1096.4 197.7,1096.6 204.7,1096.8 211.7,1097.0 218.7,1097.2 225.7,1097.4 232.8,1097.6 239.8,1097.8 246.8,1097.9 253.8,1098.1 260.8,1098.3 267.8,1098.5 274.9,1098.7 281.9,1098.8 288.9,1099.0 295.9,1099.2 302.9,1099.4 309.9,1099.6 316.9,1099.8 324.0,1100.0 331.0,1100.3 338.0,1100.5 345.0,1100.8 352.0,1101.1 359.0,1101.4 366.1,1101.7 373.1,1102.0 380.1,1102.4 387.1,1102.7 394.1,1103.1 401.1,1103.6 408.2,1104.0 415.2,1104.5 422.2,1105.0 429.2,1105.5 436.2,1106.1 443.2,1106.6 450.2,1107.2 457.3,1107.9 464.3,1108.5 471.3,1109.3 478.3,1110.1 485.3,1110.9 492.3,1111.9 499.4,1112.9 506.4,1114.1 513.4,1115.3 520.4,1116.7 527.4,1118.2 534.4,1119.9 541.5,1121.6 548.5,1123.4 555.5,1125.3 562.5,1127.2 569.5,1129.0 576.5,1130.8 583.6,1132.6 590.6,1134.3 597.6,1135.9 604.6,1137.4 611.6,1138.8 618.6,1140.2 625.7,1141.5 632.7,1142.7 639.7,1143.9 646.7,1145.1 653.7,1146.2 660.7,1147.3"/><polyline points="106.5,1093.7 113.5,1093.9 120.5,1094.0 127.5,1094.2 134.5,1094.4 141.5,1094.6 148.6,1094.7 155.6,1094.9 162.6,1095.1 169.6,1095.2 176.6,1095.4 183.6,1095.6 190.7,1095.8 197.7,1095.9 204.7,1096.1 211.7,1096.3 218.7,1096.4 225.7,1096.6 232.8,1096.8 239.8,1096.9 246.8,1097.1 253.8,1097.3 260.8,1097.5 267.8,1097.6 274.9,1097.8 281.9,1098.0 288.9,1098.2 295.9,1098.4 302.9,1098.6 309.9,1098.8 316.9,1099.0 324.0,1099.3 331.0,1099.5 338.0,1099.8 345.0,1100.1 352.0,1100.4 359.0,1100.7 366.1,1101.1 373.1,1101.4 380.1,1101.8 387.1,1102.2 394.1,1102.7 401.1,1103.1 408.2,1103.6 415.2,1104.1 422.2,1104.7 429.2,1105.3 436.2,1105.9 443.2,1106.6 450.2,1107.2 457.3,1108.0 464.3,1108.7 471.3,1109.6 478.3,1110.5 485.3,1111.5 492.3,1112.6 499.4,1113.8 506.4,1115.1 513.4,1116.5 520.4,1118.1 527.4,1119.8 534.4,1121.6 541.5,1123.5 548.5,1125.5 555.5,1127.6 562.5,1129.6 569.5,1131.7 576.5,1133.7 583.6,1135.7 590.6,1137.6 597.6,1139.3 604.6,1141.0 611.6,1142.6 618.6,1144.1 625.7,1145.6 632.7,1147.0 639.7,1148.3 646.7,1149.6 653.7,1150.9 660.7,1152.2"/><polyline points="106.5,1093.7 113.5,1093.9 120.5,1094.2 127.5,1094.4 134.5,1094.7 141.5,1094.9 148.6,1095.2 155.6,1095.4 162.6,1095.7 169.6,1096.0 176.6,1096.3 183.6,1096.5 190.7,1096.8 197.7,1097.1 204.7,1097.4 211.7,1097.7 218.7,1098.1 225.7,1098.4 232.8,1098.8 239.8,1099.1 246.8,1099.5 253.8,1099.9 260.8,1100.3 267.8,1100.7 274.9,1101.1 281.9,1101.5 288.9,1101.9 295.9,1102.3 302.9,1102.7 309.9,1103.1 316.9,1103.5 324.0,1103.9 331.0,1104.3 338.0,1104.7 345.0,1105.1 352.0,1105.4 359.0,1105.8 366.1,1106.1 373.1,1106.4 380.1,1106.7 387.1,1107.0 394.1,1107.2 401.1,1107.5 408.2,1107.7 415.2,1108.0 422.2,1108.3 429.2,1108.6 436.2,1109.0 443.2,1109.4 450.2,1109.9 457.3,1110.5 464.3,1111.2 471.3,1111.9 478.3,1112.8 485.3,1113.8 492.3,1114.9 499.4,1116.1 506.4,1117.5 513.4,1119.1 520.4,1120.8 527.4,1122.7 534.4,1124.7 541.5,1126.9 548.5,1129.1 555.5,1131.4 562.5,1133.7 569.5,1136.0 576.5,1138.3 583.6,1140.4 590.6,1142.4 597.6,1144.3 604.6,1146.1 611.6,1147.7 618.6,1149.3 625.7,1150.7 632.7,1152.1 639.7,1153.4 646.7,1154.6 653.7,1155.9 660.7,1157.1"/><polyline points="106.5,1093.7 113.5,1093.9 120.5,1094.1 127.5,1094.3 134.5,1094.5 141.5,1094.7 148.6,1094.9 155.6,1095.1 162.6,1095.3 169.6,1095.5 176.6,1095.7 183.6,1095.9 190.7,1096.0 197.7,1096.2 204.7,1096.4 211.7,1096.6 218.7,1096.7 225.7,1096.9 232.8,1097.1 239.8,1097.2 246.8,1097.4 253.8,1097.5 260.8,1097.7 267.8,1097.8 274.9,1098.0 281.9,1098.1 288.9,1098.3 295.9,1098.4 302.9,1098.6 309.9,1098.8 316.9,1099.0 324.0,1099.2 331.0,1099.5 338.0,1099.7 345.0,1100.0 352.0,1100.3 359.0,1100.6 366.1,1101.0 373.1,1101.4 380.1,1101.8 387.1,1102.3 394.1,1102.8 401.1,1103.3 408.2,1103.9 415.2,1104.4 422.2,1105.1 429.2,1105.7 436.2,1106.4 443.2,1107.1 450.2,1107.8 457.3,1108.5 464.3,1109.3 471.3,1110.2 478.3,1111.2 485.3,1112.2 492.3,1113.5 499.4,1114.8 506.4,1116.4 513.4,1118.2 520.4,1120.2 527.4,1122.5 534.4,1125.0 541.5,1127.7 548.5,1130.4 555.5,1133.2 562.5,1136.1 569.5,1138.9 576.5,1141.6 583.6,1144.1 590.6,1146.5 597.6,1148.7 604.6,1150.6 611.6,1152.3 618.6,1153.9 625.7,1155.3 632.7,1156.6 639.7,1157.8 646.7,1159.0 653.7,1160.1 660.7,1161.1"/><polyline points="106.5,1093.7 113.5,1093.9 120.5,1094.1 127.5,1094.4 134.5,1094.6 141.5,1094.8 148.6,1095.0 155.6,1095.2 162.6,1095.4 169.6,1095.6 176.6,1095.8 183.6,1096.0 190.7,1096.2 197.7,1096.4 204.7,1096.6 211.7,1096.8 218.7,1097.0 225.7,1097.2 232.8,1097.3 239.8,1097.5 246.8,1097.6 253.8,1097.8 260.8,1097.9 267.8,1098.1 274.9,1098.2 281.9,1098.4 288.9,1098.6 295.9,1098.7 302.9,1098.9 309.9,1099.1 316.9,1099.3 324.0,1099.6 331.0,1099.8 338.0,1100.1 345.0,1100.4 352.0,1100.7 359.0,1101.1 366.1,1101.5 373.1,1101.9 380.1,1102.4 387.1,1102.9 394.1,1103.4 401.1,1104.0 408.2,1104.6 415.2,1105.2 422.2,1105.8 429.2,1106.5 436.2,1107.2 443.2,1107.9 450.2,1108.6 457.3,1109.3 464.3,1110.1 471.3,1110.9 478.3,1111.9 485.3,1113.0 492.3,1114.3 499.4,1115.9 506.4,1117.7 513.4,1119.7 520.4,1122.1 527.4,1124.9 534.4,1127.9 541.5,1131.2 548.5,1134.5 555.5,1138.0 562.5,1141.4 569.5,1144.7 576.5,1147.8 583.6,1150.7 590.6,1153.3 597.6,1155.4 604.6,1157.2 611.6,1158.7 618.6,1159.9 625.7,1160.8 632.7,1161.6 639.7,1162.1 646.7,1162.6 653.7,1163.0 660.7,1163.3"/><polyline points="106.5,1093.7 113.5,1093.9 120.5,1094.2 127.5,1094.4 134.5,1094.6 141.5,1094.8 148.6,1095.1 155.6,1095.3 162.6,1095.5 169.6,1095.7 176.6,1096.0 183.6,1096.2 190.7,1096.4 197.7,1096.6 204.7,1096.8 211.7,1097.0 218.7,1097.2 225.7,1097.4 232.8,1097.6 239.8,1097.8 246.8,1097.9 253.8,1098.1 260.8,1098.3 267.8,1098.5 274.9,1098.6 281.9,1098.8 288.9,1099.0 295.9,1099.2 302.9,1099.4 309.9,1099.6 316.9,1099.8 324.0,1100.0 331.0,1100.3 338.0,1100.6 345.0,1100.9 352.0,1101.2 359.0,1101.5 366.1,1101.8 373.1,1102.2 380.1,1102.6 387.1,1103.1 394.1,1103.5 401.1,1104.0 408.2,1104.6 415.2,1105.2 422.2,1105.8 429.2,1106.4 436.2,1107.1 443.2,1107.8 450.2,1108.6 457.3,1109.4 464.3,1110.3 471.3,1111.2 478.3,1112.3 485.3,1113.4 492.3,1114.6 499.4,1115.9 506.4,1117.4 513.4,1119.0 520.4,1120.8 527.4,1122.7 534.4,1124.8 541.5,1127.0 548.5,1129.3 555.5,1131.7 562.5,1134.3 569.5,1136.9 576.5,1139.5 583.6,1142.2 590.6,1144.9 597.6,1147.6 604.6,1150.3 611.6,1153.0 618.6,1155.8 625.7,1158.5 632.7,1161.3 639.7,1164.0 646.7,1166.7 653.7,1169.5 660.7,1172.2"/><polyline points="106.5,1093.7 113.5,1093.7 120.5,1093.8 127.5,1093.8 134.5,1093.8 141.5,1093.9 148.6,1093.9 155.6,1093.9 162.6,1094.0 169.6,1094.0 176.6,1094.1 183.6,1094.1 190.7,1094.1 197.7,1094.2 204.7,1094.2 211.7,1094.3 218.7,1094.3 225.7,1094.4 232.8,1094.5 239.8,1094.5 246.8,1094.6 253.8,1094.6 260.8,1094.7 267.8,1094.8 274.9,1094.9 281.9,1094.9 288.9,1095.0 295.9,1095.1 302.9,1095.2 309.9,1095.3 316.9,1095.4 324.0,1095.5 331.0,1095.6 338.0,1095.7 345.0,1095.8 352.0,1095.9 359.0,1096.0 366.1,1096.2 373.1,1096.3 380.1,1096.4 387.1,1096.5 394.1,1096.7 401.1,1096.8 408.2,1097.0 415.2,1097.1 422.2,1097.3 429.2,1097.5 436.2,1097.6 443.2,1097.8 450.2,1098.0 457.3,1098.2 464.3,1098.5 471.3,1098.7 478.3,1098.9 485.3,1099.2 492.3,1099.5 499.4,1099.8 506.4,1100.1 513.4,1100.4 520.4,1100.7 527.4,1101.1 534.4,1101.5 541.5,1101.9 548.5,1102.3 555.5,1102.7 562.5,1103.2 569.5,1103.6 576.5,1104.1 583.6,1104.6 590.6,1105.1 597.6,1105.6 604.6,1106.1 611.6,1106.6 618.6,1107.2 625.7,1107.7 632.7,1108.3 639.7,1108.8 646.7,1109.4 653.7,1109.9 660.7,1110.5"/><polyline points="106.5,1093.7 113.5,1093.8 120.5,1093.9 127.5,1094.0 134.5,1094.1 141.5,1094.2 148.6,1094.3 155.6,1094.4 162.6,1094.5 169.6,1094.6 176.6,1094.7 183.6,1094.8 190.7,1094.9 197.7,1095.0 204.7,1095.1 211.7,1095.2 218.7,1095.3 225.7,1095.4 232.8,1095.5 239.8,1095.6 246.8,1095.7 253.8,1095.8 260.8,1095.9 267.8,1096.0 274.9,1096.1 281.9,1096.1 288.9,1096.2 295.9,1096.4 302.9,1096.5 309.9,1096.6 316.9,1096.7 324.0,1096.8 331.0,1097.0 338.0,1097.1 345.0,1097.3 352.0,1097.5 359.0,1097.7 366.1,1097.9 373.1,1098.1 380.1,1098.3 387.1,1098.5 394.1,1098.8 401.1,1099.1 408.2,1099.4 415.2,1099.7 422.2,1100.0 429.2,1100.3 436.2,1100.6 443.2,1100.9 450.2,1101.3 457.3,1101.6 464.3,1102.0 471.3,1102.3 478.3,1102.7 485.3,1103.0 492.3,1103.4 499.4,1103.8 506.4,1104.2 513.4,1104.6 520.4,1105.1 527.4,1105.5 534.4,1106.0 541.5,1106.5 548.5,1107.0 555.5,1107.6 562.5,1108.2 569.5,1108.8 576.5,1109.5 583.6,1110.3 590.6,1111.0 597.6,1111.9 604.6,1112.7 611.6,1113.6 618.6,1114.6 625.7,1115.6 632.7,1116.6 639.7,1117.6 646.7,1118.7 653.7,1119.7 660.7,1120.8"/><polyline points="106.5,1093.7 113.5,1093.7 120.5,1093.8 127.5,1093.8 134.5,1093.8 141.5,1093.9 148.6,1093.9 155.6,1093.9 162.6,1094.0 169.6,1094.0 176.6,1094.0 183.6,1094.1 190.7,1094.1 197.7,1094.1 204.7,1094.2 211.7,1094.2 218.7,1094.2 225.7,1094.3 232.8,1094.3 239.8,1094.3 246.8,1094.4 253.8,1094.4 260.8,1094.5 267.8,1094.5 274.9,1094.5 281.9,1094.6 288.9,1094.6 295.9,1094.6 302.9,1094.7 309.9,1094.7 316.9,1094.8 324.0,1094.8 331.0,1094.9 338.0,1094.9 345.0,1095.0 352.0,1095.0 359.0,1095.1 366.1,1095.2 373.1,1095.2 380.1,1095.3 387.1,1095.4 394.1,1095.5 401.1,1095.6 408.2,1095.7 415.2,1095.8 422.2,1095.9 429.2,1096.0 436.2,1096.1 443.2,1096.2 450.2,1096.3 457.3,1096.4 464.3,1096.5 471.3,1096.6 478.3,1096.8 485.3,1096.9 492.3,1097.0 499.4,1097.1 506.4,1097.3 513.4,1097.4 520.4,1097.5 527.4,1097.6 534.4,1097.8 541.5,1097.9 548.5,1098.1 555.5,1098.2 562.5,1098.4 569.5,1098.6 576.5,1098.8 583.6,1099.0 590.6,1099.3 597.6,1099.5 604.6,1099.8 611.6,1100.1 618.6,1100.4 625.7,1100.8 632.7,1101.1 639.7,1101.5 646.7,1101.9 653.7,1102.3 660.7,1102.6"/><polyline points="106.5,1093.7 113.5,1093.7 120.5,1093.8 127.5,1093.8 134.5,1093.9 141.5,1093.9 148.6,1094.0 155.6,1094.0 162.6,1094.0 169.6,1094.1 176.6,1094.1 183.6,1094.2 190.7,1094.2 197.7,1094.3 204.7,1094.3 211.7,1094.3 218.7,1094.4 225.7,1094.4 232.8,1094.5 239.8,1094.5 246.8,1094.6 253.8,1094.6 260.8,1094.6 267.8,1094.7 274.9,1094.7 281.9,1094.8 288.9,1094.8 295.9,1094.9 302.9,1094.9 309.9,1095.0 316.9,1095.0 324.0,1095.1 331.0,1095.2 338.0,1095.2 345.0,1095.3 352.0,1095.4 359.0,1095.4 366.1,1095.5 373.1,1095.6 380.1,1095.7 387.1,1095.8 394.1,1095.9 401.1,1096.0 408.2,1096.1 415.2,1096.3 422.2,1096.4 429.2,1096.5 436.2,1096.6 443.2,1096.8 450.2,1096.9 457.3,1097.1 464.3,1097.2 471.3,1097.4 478.3,1097.5 485.3,1097.7 492.3,1097.8 499.4,1098.0 506.4,1098.1 513.4,1098.3 520.4,1098.4 527.4,1098.6 534.4,1098.7 541.5,1098.9 548.5,1099.0 555.5,1099.2 562.5,1099.4 569.5,1099.6 576.5,1099.9 583.6,1100.2 590.6,1100.6 597.6,1100.9 604.6,1101.4 611.6,1101.9 618.6,1102.4 625.7,1102.9 632.7,1103.5 639.7,1104.1 646.7,1104.7 653.7,1105.3 660.7,1105.9"/><polyline points="106.5,1093.7 113.5,1093.8 120.5,1093.8 127.5,1093.9 134.5,1094.0 141.5,1094.0 148.6,1094.1 155.6,1094.2 162.6,1094.2 169.6,1094.3 176.6,1094.4 183.6,1094.4 190.7,1094.5 197.7,1094.6 204.7,1094.6 211.7,1094.7 218.7,1094.8 225.7,1094.8 232.8,1094.9 239.8,1095.0 246.8,1095.0 253.8,1095.1 260.8,1095.2 267.8,1095.2 274.9,1095.3 281.9,1095.4 288.9,1095.5 295.9,1095.5 302.9,1095.6 309.9,1095.7 316.9,1095.8 324.0,1095.9 331.0,1096.0 338.0,1096.1 345.0,1096.2 352.0,1096.3 359.0,1096.5 366.1,1096.6 373.1,1096.7 380.1,1096.9 387.1,1097.1 394.1,1097.2 401.1,1097.4 408.2,1097.6 415.2,1097.8 422.2,1098.0 429.2,1098.2 436.2,1098.4 443.2,1098.6 450.2,1098.8 457.3,1099.0 464.3,1099.3 471.3,1099.5 478.3,1099.7 485.3,1099.9 492.3,1100.2 499.4,1100.4 506.4,1100.7 513.4,1100.9 520.4,1101.2 527.4,1101.5 534.4,1101.8 541.5,1102.1 548.5,1102.5 555.5,1102.8 562.5,1103.1 569.5,1103.5 576.5,1103.8 583.6,1104.2 590.6,1104.6 597.6,1105.0 604.6,1105.4 611.6,1105.7 618.6,1106.1 625.7,1106.5 632.7,1107.0 639.7,1107.4 646.7,1107.8 653.7,1108.2 660.7,1108.6"/><polyline points="106.5,1093.7 113.5,1093.8 120.5,1093.8 127.5,1093.9 134.5,1093.9 141.5,1094.0 148.6,1094.1 155.6,1094.1 162.6,1094.2 169.6,1094.2 176.6,1094.3 183.6,1094.4 190.7,1094.4 197.7,1094.5 204.7,1094.5 211.7,1094.6 218.7,1094.7 225.7,1094.7 232.8,1094.8 239.8,1094.8 246.8,1094.9 253.8,1095.0 260.8,1095.0 267.8,1095.1 274.9,1095.1 281.9,1095.2 288.9,1095.3 295.9,1095.3 302.9,1095.4 309.9,1095.5 316.9,1095.6 324.0,1095.7 331.0,1095.8 338.0,1095.8 345.0,1095.9 352.0,1096.1 359.0,1096.2 366.1,1096.3 373.1,1096.4 380.1,1096.5 387.1,1096.7 394.1,1096.8 401.1,1097.0 408.2,1097.1 415.2,1097.3 422.2,1097.5 429.2,1097.7 436.2,1097.9 443.2,1098.1 450.2,1098.3 457.3,1098.5 464.3,1098.7 471.3,1098.9 478.3,1099.1 485.3,1099.4 492.3,1099.6 499.4,1099.8 506.4,1100.0 513.4,1100.2 520.4,1100.4 527.4,1100.6 534.4,1100.8 541.5,1101.0 548.5,1101.2 555.5,1101.4 562.5,1101.7 569.5,1102.0 576.5,1102.4 583.6,1102.9 590.6,1103.4 597.6,1104.0 604.6,1104.7 611.6,1105.4 618.6,1106.2 625.7,1107.1 632.7,1108.0 639.7,1108.9 646.7,1109.9 653.7,1110.9 660.7,1111.8"/><polyline points="106.5,1093.7 113.5,1093.8 120.5,1093.9 127.5,1094.0 134.5,1094.1 141.5,1094.2 148.6,1094.3 155.6,1094.3 162.6,1094.4 169.6,1094.5 176.6,1094.6 183.6,1094.7 190.7,1094.8 197.7,1094.9 204.7,1095.0 211.7,1095.1 218.7,1095.2 225.7,1095.3 232.8,1095.3 239.8,1095.4 246.8,1095.5 253.8,1095.6 260.8,1095.7 267.8,1095.8 274.9,1095.9 281.9,1096.0 288.9,1096.1 295.9,1096.2 302.9,1096.3 309.9,1096.4 316.9,1096.5 324.0,1096.7 331.0,1096.8 338.0,1096.9 345.0,1097.1 352.0,1097.3 359.0,1097.4 366.1,1097.6 373.1,1097.8 380.1,1098.0 387.1,1098.2 394.1,1098.4 401.1,1098.7 408.2,1098.9 415.2,1099.2 422.2,1099.5 429.2,1099.7 436.2,1100.0 443.2,1100.3 450.2,1100.6 457.3,1100.9 464.3,1101.2 471.3,1101.5 478.3,1101.8 485.3,1102.1 492.3,1102.4 499.4,1102.7 506.4,1103.1 513.4,1103.4 520.4,1103.8 527.4,1104.2 534.4,1104.6 541.5,1105.0 548.5,1105.4 555.5,1105.8 562.5,1106.3 569.5,1106.8 576.5,1107.3 583.6,1107.8 590.6,1108.3 597.6,1108.9 604.6,1109.5 611.6,1110.1 618.6,1110.8 625.7,1111.4 632.7,1112.1 639.7,1112.8 646.7,1113.4 653.7,1114.1 660.7,1114.8"/><polyline points="106.5,1093.7 113.5,1093.8 120.5,1093.9 127.5,1094.0 134.5,1094.1 141.5,1094.1 148.6,1094.2 155.6,1094.3 162.6,1094.4 169.6,1094.5 176.6,1094.6 183.6,1094.7 190.7,1094.8 197.7,1094.9 204.7,1095.0 211.7,1095.0 218.7,1095.1 225.7,1095.2 232.8,1095.3 239.8,1095.4 246.8,1095.5 253.8,1095.6 260.8,1095.7 267.8,1095.8 274.9,1095.9 281.9,1096.0 288.9,1096.1 295.9,1096.2 302.9,1096.3 309.9,1096.4 316.9,1096.5 324.0,1096.7 331.0,1096.8 338.0,1096.9 345.0,1097.1 352.0,1097.3 359.0,1097.4 366.1,1097.6 373.1,1097.8 380.1,1098.0 387.1,1098.2 394.1,1098.4 401.1,1098.7 408.2,1098.9 415.2,1099.2 422.2,1099.4 429.2,1099.7 436.2,1100.0 443.2,1100.3 450.2,1100.6 457.3,1100.9 464.3,1101.2 471.3,1101.5 478.3,1101.8 485.3,1102.1 492.3,1102.5 499.4,1102.8 506.4,1103.1 513.4,1103.5 520.4,1103.8 527.4,1104.1 534.4,1104.5 541.5,1104.9 548.5,1105.3 555.5,1105.7 562.5,1106.1 569.5,1106.6 576.5,1107.1 583.6,1107.7 590.6,1108.3 597.6,1109.0 604.6,1109.7 611.6,1110.5 618.6,1111.3 625.7,1112.1 632.7,1113.0 639.7,1113.9 646.7,1114.8 653.7,1115.8 660.7,1116.7"/><polyline points="106.5,1093.7 113.5,1093.8 120.5,1093.9 127.5,1093.9 134.5,1094.0 141.5,1094.1 148.6,1094.2 155.6,1094.3 162.6,1094.3 169.6,1094.4 176.6,1094.5 183.6,1094.6 190.7,1094.7 197.7,1094.8 204.7,1094.8 211.7,1094.9 218.7,1095.0 225.7,1095.1 232.8,1095.2 239.8,1095.2 246.8,1095.3 253.8,1095.4 260.8,1095.5 267.8,1095.6 274.9,1095.7 281.9,1095.8 288.9,1095.9 295.9,1095.9 302.9,1096.1 309.9,1096.2 316.9,1096.3 324.0,1096.4 331.0,1096.5 338.0,1096.6 345.0,1096.8 352.0,1096.9 359.0,1097.1 366.1,1097.2 373.1,1097.4 380.1,1097.6 387.1,1097.8 394.1,1098.0 401.1,1098.2 408.2,1098.4 415.2,1098.6 422.2,1098.8 429.2,1099.1 436.2,1099.4 443.2,1099.6 450.2,1099.9 457.3,1100.2 464.3,1100.5 471.3,1100.8 478.3,1101.1 485.3,1101.4 492.3,1101.7 499.4,1102.0 506.4,1102.3 513.4,1102.6 520.4,1102.8 527.4,1103.1 534.4,1103.3 541.5,1103.6 548.5,1103.9 555.5,1104.2 562.5,1104.6 569.5,1105.0 576.5,1105.6 583.6,1106.2 590.6,1106.9 597.6,1107.7 604.6,1108.7 611.6,1109.7 618.6,1110.8 625.7,1112.0 632.7,1113.3 639.7,1114.6 646.7,1115.9 653.7,1117.2 660.7,1118.6"/><polyline points="106.5,1093.7 113.5,1093.8 120.5,1094.0 127.5,1094.1 134.5,1094.2 141.5,1094.3 148.6,1094.5 155.6,1094.6 162.6,1094.7 169.6,1094.8 176.6,1095.0 183.6,1095.1 190.7,1095.2 197.7,1095.3 204.7,1095.5 211.7,1095.6 218.7,1095.7 225.7,1095.8 232.8,1096.0 239.8,1096.1 246.8,1096.2 253.8,1096.3 260.8,1096.5 267.8,1096.6 274.9,1096.7 281.9,1096.9 288.9,1097.0 295.9,1097.2 302.9,1097.3 309.9,1097.5 316.9,1097.6 324.0,1097.8 331.0,1098.0 338.0,1098.2 345.0,1098.4 352.0,1098.6 359.0,1098.9 366.1,1099.1 373.1,1099.4 380.1,1099.7 387.1,1100.0 394.1,1100.3 401.1,1100.6 408.2,1101.0 415.2,1101.3 422.2,1101.7 429.2,1102.1 436.2,1102.5 443.2,1102.9 450.2,1103.3 457.3,1103.7 464.3,1104.1 471.3,1104.5 478.3,1104.9 485.3,1105.4 492.3,1105.8 499.4,1106.3 506.4,1106.8 513.4,1107.3 520.4,1107.8 527.4,1108.3 534.4,1108.8 541.5,1109.4 548.5,1109.9 555.5,1110.5 562.5,1111.2 569.5,1111.8 576.5,1112.5 583.6,1113.3 590.6,1114.0 597.6,1114.9 604.6,1115.7 611.6,1116.6 618.6,1117.5 625.7,1118.5 632.7,1119.5 639.7,1120.5 646.7,1121.5 653.7,1122.5 660.7,1123.5"/><polyline points="106.5,1093.7 113.5,1093.8 120.5,1093.9 127.5,1094.0 134.5,1094.1 141.5,1094.2 148.6,1094.3 155.6,1094.4 162.6,1094.5 169.6,1094.6 176.6,1094.8 183.6,1094.9 190.7,1095.0 197.7,1095.1 204.7,1095.2 211.7,1095.3 218.7,1095.4 225.7,1095.5 232.8,1095.6 239.8,1095.7 246.8,1095.8 253.8,1095.9 260.8,1096.0 267.8,1096.1 274.9,1096.2 281.9,1096.4 288.9,1096.5 295.9,1096.6 302.9,1096.7 309.9,1096.9 316.9,1097.0 324.0,1097.2 331.0,1097.3 338.0,1097.5 345.0,1097.7 352.0,1097.8 359.0,1098.0 366.1,1098.2 373.1,1098.5 380.1,1098.7 387.1,1098.9 394.1,1099.2 401.1,1099.4 408.2,1099.7 415.2,1100.0 422.2,1100.3 429.2,1100.6 436.2,1101.0 443.2,1101.3 450.2,1101.7 457.3,1102.1 464.3,1102.4 471.3,1102.8 478.3,1103.2 485.3,1103.6 492.3,1104.0 499.4,1104.4 506.4,1104.8 513.4,1105.1 520.4,1105.5 527.4,1105.8 534.4,1106.1 541.5,1106.4 548.5,1106.8 555.5,1107.2 562.5,1107.7 569.5,1108.3 576.5,1108.9 583.6,1109.7 590.6,1110.7 597.6,1111.8 604.6,1113.0 611.6,1114.4 618.6,1115.9 625.7,1117.4 632.7,1119.1 639.7,1120.8 646.7,1122.6 653.7,1124.4 660.7,1126.2"/><polyline points="106.5,1093.7 113.5,1093.8 120.5,1094.0 127.5,1094.1 134.5,1094.3 141.5,1094.4 148.6,1094.6 155.6,1094.7 162.6,1094.9 169.6,1095.0 176.6,1095.1 183.6,1095.3 190.7,1095.4 197.7,1095.6 204.7,1095.7 211.7,1095.9 218.7,1096.0 225.7,1096.2 232.8,1096.3 239.8,1096.4 246.8,1096.6 253.8,1096.7 260.8,1096.9 267.8,1097.0 274.9,1097.2 281.9,1097.3 288.9,1097.5 295.9,1097.6 302.9,1097.8 309.9,1098.0 316.9,1098.2 324.0,1098.4 331.0,1098.6 338.0,1098.8 345.0,1099.1 352.0,1099.3 359.0,1099.6 366.1,1099.9 373.1,1100.2 380.1,1100.5 387.1,1100.8 394.1,1101.2 401.1,1101.6 408.2,1102.0 415.2,1102.4 422.2,1102.8 429.2,1103.2 436.2,1103.7 443.2,1104.1 450.2,1104.6 457.3,1105.1 464.3,1105.5 471.3,1106.0 478.3,1106.5 485.3,1107.0 492.3,1107.5 499.4,1108.1 506.4,1108.6 513.4,1109.1 520.4,1109.7 527.4,1110.3 534.4,1110.9 541.5,1111.5 548.5,1112.1 555.5,1112.8 562.5,1113.5 569.5,1114.2 576.5,1115.0 583.6,1115.9 590.6,1116.9 597.6,1117.9 604.6,1118.9 611.6,1120.0 618.6,1121.2 625.7,1122.4 632.7,1123.7 639.7,1125.0 646.7,1126.3 653.7,1127.6 660.7,1128.9"/><polyline points="106.5,1093.7 113.5,1093.8 120.5,1093.9 127.5,1094.1 134.5,1094.2 141.5,1094.3 148.6,1094.5 155.6,1094.6 162.6,1094.7 169.6,1094.8 176.6,1095.0 183.6,1095.1 190.7,1095.2 197.7,1095.3 204.7,1095.5 211.7,1095.6 218.7,1095.7 225.7,1095.8 232.8,1096.0 239.8,1096.1 246.8,1096.2 253.8,1096.3 260.8,1096.5 267.8,1096.6 274.9,1096.7 281.9,1096.9 288.9,1097.0 295.9,1097.2 302.9,1097.3 309.9,1097.5 316.9,1097.7 324.0,1097.8 331.0,1098.0 338.0,1098.2 345.0,1098.4 352.0,1098.6 359.0,1098.9 366.1,1099.1 373.1,1099.4 380.1,1099.7 387.1,1099.9 394.1,1100.3 401.1,1100.6 408.2,1100.9 415.2,1101.3 422.2,1101.6 429.2,1102.0 436.2,1102.4 443.2,1102.8 450.2,1103.2 457.3,1103.7 464.3,1104.1 471.3,1104.6 478.3,1105.0 485.3,1105.5 492.3,1105.9 499.4,1106.4 506.4,1106.8 513.4,1107.3 520.4,1107.7 527.4,1108.1 534.4,1108.5 541.5,1108.9 548.5,1109.3 555.5,1109.8 562.5,1110.4 569.5,1111.1 576.5,1111.9 583.6,1112.8 590.6,1113.9 597.6,1115.2 604.6,1116.6 611.6,1118.2 618.6,1119.9 625.7,1121.7 632.7,1123.6 639.7,1125.5 646.7,1127.5 653.7,1129.6 660.7,1131.6"/></g><g fill="#0000ff" fill-opacity="0.21"><polygon points="106.5,1093.7 110.0,1093.2 113.5,1092.8 117.0,1092.3 120.5,1091.9 124.0,1091.4 127.5,1090.9 131.0,1090.4 134.5,1090.0 138.0,1089.4 141.5,1088.9 145.1,1088.4 148.6,1087.9 152.1,1087.3 155.6,1086.7 159.1,1086.1 162.6,1085.5 166.1,1084.9 169.6,1084.2 173.1,1083.5 176.6,1082.8 180.1,1082.1 183.6,1081.4 187.2,1080.6 190.7,1079.9 194.2,1079.1 197.7,1078.3 201.2,1077.6 204.7,1076.8 208.2,1076.0 211.7,1075.3 215.2,1074.5 218.7,1073.8 222.2,1073.1 225.7,1072.4 229.2,1071.7 232.8,1071.1 236.3,1070.5 239.8,1069.9 243.3,1069.3 246.8,1068.8 250.3,1068.3 253.8,1067.9 257.3,1067.4 260.8,1067.0 264.3,1066.7 267.8,1066.4 271.3,1066.1 274.9,1065.8 278.4,1065.5 281.9,1065.3 285.4,1065.1 288.9,1065.0 292.4,1064.8 295.9,1064.7 299.4,1064.6 302.9,1064.5 306.4,1064.5 309.9,1064.5 313.4,1064.4 316.9,1064.5 320.5,1064.5 324.0,1064.5 327.5,1064.6 331.0,1064.7 334.5,1064.8 338.0,1064.9 341.5,1065.0 345.0,1065.2 348.5,1065.3 352.0,1065.5 355.5,1065.7 359.0,1065.9 362.6,1066.1 366.1,1066.3 369.6,1066.5 373.1,1066.7 376.6,1066.9 380.1,1067.2 383.6,1067.4 387.1,1067.6 390.6,1067.9 394.1,1068.1 397.6,1068.4 401.1,1068.6 404.6,1068.9 408.2,1069.1 411.7,1069.4 415.2,1069.7 418.7,1070.0 422.2,1070.3 425.7,1070.6 429.2,1070.9 432.7,1071.2 436.2,1071.5 439.7,1071.8 443.2,1072.2 446.7,1072.5 450.2,1072.8 453.8,1073.2 457.3,1073.6 460.8,1073.9 464.3,1074.3 467.8,1074.7 471.3,1075.1 474.8,1075.5 478.3,1075.9 481.8,1076.4 485.3,1076.8 488.8,1077.2 492.3,1077.7 495.9,1078.1 499.4,1078.6 502.9,1079.1 506.4,1079.5 509.9,1080.0 513.4,1080.5 516.9,1081.0 520.4,1081.5 523.9,1082.0 527.4,1082.5 530.9,1083.1 534.4,1083.6 538.0,1084.1 541.5,1084.7 545.0,1085.2 548.5,1085.8 552.0,1086.4 555.5,1086.9 559.0,1087.5 562.5,1088.1 566.0,1088.7 569.5,1089.3 573.0,1089.9 576.5,1090.4 580.0,1091.0 583.6,1091.6 587.1,1092.1 590.6,1092.6 594.1,1093.1 597.6,1093.6 601.1,1094.0 604.6,1094.5 608.1,1094.9 611.6,1095.3 615.1,1095.7 618.6,1096.1 622.1,1096.5 625.7,1096.9 629.2,1097.4 632.7,1097.8 636.2,1098.2 639.7,1098.6 643.2,1099.0 646.7,1099.4 650.2,1099.8 653.7,1100.2 657.2,1100.6 660.7,1101.0 660.7,1136.2 657.2,1135.4 653.7,1134.6 650.2,1133.8 646.7,1133.1 643.2,1132.3 639.7,1131.6 636.2,1130.9 632.7,1130.2 629.2,1129.5 625.7,1128.9 622.1,1128.3 618.6,1127.8 615.1,1127.3 611.6,1126.9 608.1,1126.4 604.6,1126.0 601.1,1125.7 597.6,1125.4 594.1,1125.1 590.6,1124.8 587.1,1124.6 583.6,1124.4 580.0,1124.3 576.5,1124.1 573.0,1124.0 569.5,1124.0 566.0,1123.9 562.5,1123.9 559.0,1124.0 555.5,1124.0 552.0,1124.1 548.5,1124.3 545.0,1124.5 541.5,1124.7 538.0,1124.9 534.4,1125.1 530.9,1125.4 527.4,1125.6 523.9,1125.9 520.4,1126.2 516.9,1126.5 513.4,1126.8 509.9,1127.0 506.4,1127.3 502.9,1127.6 499.4,1127.9 495.9,1128.1 492.3,1128.4 488.8,1128.7 485.3,1128.9 481.8,1129.1 478.3,1129.3 474.8,1129.6 471.3,1129.7 467.8,1129.9 464.3,1130.1 460.8,1130.2 457.3,1130.3 453.8,1130.4 450.2,1130.5 446.7,1130.6 443.2,1130.6 439.7,1130.6 436.2,1130.6 432.7,1130.6 429.2,1130.6 425.7,1130.5 422.2,1130.5 418.7,1130.4 415.2,1130.3 411.7,1130.3 408.2,1130.2 404.6,1130.1 401.1,1130.0 397.6,1129.9 394.1,1129.8 390.6,1129.7 387.1,1129.6 383.6,1129.5 380.1,1129.4 376.6,1129.4 373.1,1129.3 369.6,1129.3 366.1,1129.2 362.6,1129.1 359.0,1129.1 355.5,1129.0 352.0,1129.0 348.5,1128.9 345.0,1128.9 341.5,1128.8 338.0,1128.8 334.5,1128.7 331.0,1128.6 327.5,1128.5 324.0,1128.4 320.5,1128.3 316.9,1128.1 313.4,1128.0 309.9,1127.8 306.4,1127.6 302.9,1127.4 299.4,1127.2 295.9,1127.0 292.4,1126.7 288.9,1126.4 285.4,1126.1 281.9,1125.8 278.4,1125.5 274.9,1125.1 271.3,1124.8 267.8,1124.4 264.3,1124.0 260.8,1123.5 257.3,1123.1 253.8,1122.6 250.3,1122.1 246.8,1121.6 243.3,1121.1 239.8,1120.5 236.3,1119.9 232.8,1119.3 229.2,1118.7 225.7,1118.1 222.2,1117.5 218.7,1116.8 215.2,1116.1 211.7,1115.4 208.2,1114.7 204.7,1114.0 201.2,1113.3 197.7,1112.6 194.2,1111.9 190.7,1111.1 187.2,1110.4 183.6,1109.7 180.1,1108.9 176.6,1108.2 173.1,1107.4 169.6,1106.7 166.1,1106.0 162.6,1105.2 159.1,1104.5 155.6,1103.8 152.1,1103.0 148.6,1102.3 145.1,1101.6 141.5,1100.9 138.0,1100.1 134.5,1099.4 131.0,1098.7 127.5,1098.0 124.0,1097.3 120.5,1096.6 117.0,1095.8 113.5,1095.1 110.0,1094.4 106.5,1093.7"/></g><line x1="84.5" y1="1093.70" x2="683" y2="1093.70" stroke="#444" stroke-width="1.7"/><polyline points="106.5,1093.7 110.0,1093.8 113.5,1093.8 117.0,1093.9 120.5,1093.9 124.0,1094.0 127.5,1094.1 131.0,1094.1 134.5,1094.2 138.0,1094.2 141.5,1094.3 145.1,1094.4 148.6,1094.4 152.1,1094.5 155.6,1094.5 159.1,1094.6 162.6,1094.7 166.1,1094.7 169.6,1094.8 173.1,1094.8 176.6,1094.9 180.1,1095.0 183.6,1095.0 187.2,1095.1 190.7,1095.2 194.2,1095.2 197.7,1095.3 201.2,1095.4 204.7,1095.4 208.2,1095.5 211.7,1095.6 215.2,1095.6 218.7,1095.7 222.2,1095.8 225.7,1095.9 229.2,1095.9 232.8,1096.0 236.3,1096.1 239.8,1096.1 243.3,1096.2 246.8,1096.3 250.3,1096.4 253.8,1096.4 257.3,1096.5 260.8,1096.6 264.3,1096.6 267.8,1096.7 271.3,1096.8 274.9,1096.8 278.4,1096.9 281.9,1097.0 285.4,1097.1 288.9,1097.1 292.4,1097.2 295.9,1097.2 299.4,1097.3 302.9,1097.4 306.4,1097.4 309.9,1097.5 313.4,1097.5 316.9,1097.6 320.5,1097.7 324.0,1097.7 327.5,1097.8 331.0,1097.8 334.5,1097.9 338.0,1097.9 341.5,1098.0 345.0,1098.0 348.5,1098.1 352.0,1098.2 355.5,1098.2 359.0,1098.3 362.6,1098.4 366.1,1098.5 369.6,1098.6 373.1,1098.6 376.6,1098.7 380.1,1098.8 383.6,1099.0 387.1,1099.1 390.6,1099.2 394.1,1099.3 397.6,1099.4 401.1,1099.6 404.6,1099.7 408.2,1099.9 411.7,1100.0 415.2,1100.2 418.7,1100.3 422.2,1100.5 425.7,1100.7 429.2,1100.8 432.7,1101.0 436.2,1101.1 439.7,1101.3 443.2,1101.5 446.7,1101.7 450.2,1101.8 453.8,1102.0 457.3,1102.2 460.8,1102.3 464.3,1102.5 467.8,1102.7 471.3,1102.8 474.8,1103.0 478.3,1103.2 481.8,1103.4 485.3,1103.5 488.8,1103.7 492.3,1103.9 495.9,1104.1 499.4,1104.2 502.9,1104.4 506.4,1104.6 509.9,1104.8 513.4,1105.0 516.9,1105.2 520.4,1105.3 523.9,1105.5 527.4,1105.7 530.9,1105.9 534.4,1106.1 538.0,1106.3 541.5,1106.5 545.0,1106.7 548.5,1107.0 552.0,1107.2 555.5,1107.4 559.0,1107.6 562.5,1107.9 566.0,1108.1 569.5,1108.3 573.0,1108.6 576.5,1108.9 580.0,1109.1 583.6,1109.4 587.1,1109.7 590.6,1109.9 594.1,1110.2 597.6,1110.5 601.1,1110.9 604.6,1111.2 608.1,1111.6 611.6,1111.9 615.1,1112.3 618.6,1112.8 622.1,1113.2 625.7,1113.7 629.2,1114.3 632.7,1114.9 636.2,1115.5 639.7,1116.1 643.2,1116.7 646.7,1117.4 650.2,1118.1 653.7,1118.8 657.2,1119.5 660.7,1120.2" fill="none" stroke="#0000f0" stroke-width="3.2" stroke-linecap="round" stroke-linejoin="round"/><g font-family="Liberation Sans, sans-serif" font-size="23" fill="#000"><text x="78.6" y="992.68" text-anchor="end">4</text><text x="78.6" y="1046.84" text-anchor="end">2</text><text x="78.6" y="1101.00" text-anchor="end">0</text><text x="78.6" y="1155.16" text-anchor="end">-2</text><text x="78.6" y="1209.32" text-anchor="end">-4</text><text x="78.6" y="1263.48" text-anchor="end">-6</text><text x="78.6" y="1317.64" text-anchor="end">-8</text><text x="78.6" y="1371.80" text-anchor="end">-10</text><text x="99.85" y="1387.10" text-anchor="middle">0</text><text x="170.01" y="1387.10" text-anchor="middle">10</text><text x="240.17" y="1387.10" text-anchor="middle">20</text><text x="310.33" y="1387.10" text-anchor="middle">30</text><text x="380.49" y="1387.10" text-anchor="middle">40</text><text x="450.65" y="1387.10" text-anchor="middle">50</text><text x="520.81" y="1387.10" text-anchor="middle">60</text><text x="590.97" y="1387.10" text-anchor="middle">70</text><text x="661.13" y="1387.10" text-anchor="middle">80</text></g><g stroke="#9ccbe2" stroke-width="1.1" stroke-dasharray="1.5 2.25" fill="none"><line x1="84.5" y1="1469.18" x2="682" y2="1469.18"/><line x1="84.5" y1="1523.34" x2="682" y2="1523.34"/><line x1="84.5" y1="1577.50" x2="682" y2="1577.50"/><line x1="84.5" y1="1631.66" x2="682" y2="1631.66"/><line x1="84.5" y1="1685.82" x2="682" y2="1685.82"/><line x1="84.5" y1="1739.98" x2="682" y2="1739.98"/><line x1="84.5" y1="1794.14" x2="682" y2="1794.14"/><line x1="84.5" y1="1848.30" x2="682" y2="1848.30"/><line x1="99.45" y1="1454.78" x2="99.45" y2="1863.30"/><line x1="169.61" y1="1454.78" x2="169.61" y2="1863.30"/><line x1="239.77" y1="1454.78" x2="239.77" y2="1863.30"/><line x1="309.93" y1="1454.78" x2="309.93" y2="1863.30"/><line x1="380.09" y1="1454.78" x2="380.09" y2="1863.30"/><line x1="450.25" y1="1454.78" x2="450.25" y2="1863.30"/><line x1="520.41" y1="1454.78" x2="520.41" y2="1863.30"/><line x1="590.57" y1="1454.78" x2="590.57" y2="1863.30"/><line x1="660.73" y1="1454.78" x2="660.73" y2="1863.30"/></g><g fill="none" stroke="#000" stroke-opacity="0.21" stroke-width="1.15" stroke-linejoin="round"><polyline points="106.5,1577.5 113.5,1577.5 120.5,1577.6 127.5,1577.6 134.5,1577.6 141.5,1577.6 148.6,1577.7 155.6,1577.7 162.6,1577.7 169.6,1577.7 176.6,1577.8 183.6,1577.8 190.7,1577.8 197.7,1577.9 204.7,1577.9 211.7,1577.9 218.7,1577.9 225.7,1578.0 232.8,1578.0 239.8,1578.0 246.8,1578.1 253.8,1578.1 260.8,1578.1 267.8,1578.2 274.9,1578.2 281.9,1578.3 288.9,1578.3 295.9,1578.3 302.9,1578.4 309.9,1578.4 316.9,1578.5 324.0,1578.5 331.0,1578.6 338.0,1578.7 345.0,1578.7 352.0,1578.8 359.0,1578.9 366.1,1579.0 373.1,1579.0 380.1,1579.1 387.1,1579.2 394.1,1579.3 401.1,1579.4 408.2,1579.5 415.2,1579.6 422.2,1579.7 429.2,1579.9 436.2,1580.0 443.2,1580.1 450.2,1580.2 457.3,1580.3 464.3,1580.5 471.3,1580.6 478.3,1580.7 485.3,1580.8 492.3,1581.0 499.4,1581.1 506.4,1581.3 513.4,1581.4 520.4,1581.6 527.4,1581.7 534.4,1581.9 541.5,1582.1 548.5,1582.2 555.5,1582.4 562.5,1582.6 569.5,1582.8 576.5,1583.0 583.6,1583.2 590.6,1583.5 597.6,1583.7 604.6,1583.9 611.6,1584.1 618.6,1584.4 625.7,1584.6 632.7,1584.9 639.7,1585.1 646.7,1585.4 653.7,1585.6 660.7,1585.9"/><polyline points="106.5,1577.5 113.5,1577.5 120.5,1577.6 127.5,1577.6 134.5,1577.6 141.5,1577.7 148.6,1577.7 155.6,1577.7 162.6,1577.8 169.6,1577.8 176.6,1577.9 183.6,1577.9 190.7,1577.9 197.7,1578.0 204.7,1578.0 211.7,1578.1 218.7,1578.1 225.7,1578.2 232.8,1578.3 239.8,1578.3 246.8,1578.4 253.8,1578.4 260.8,1578.5 267.8,1578.6 274.9,1578.7 281.9,1578.7 288.9,1578.8 295.9,1578.9 302.9,1579.0 309.9,1579.1 316.9,1579.2 324.0,1579.3 331.0,1579.4 338.0,1579.5 345.0,1579.6 352.0,1579.7 359.0,1579.8 366.1,1579.9 373.1,1580.1 380.1,1580.2 387.1,1580.3 394.1,1580.5 401.1,1580.6 408.2,1580.8 415.2,1580.9 422.2,1581.1 429.2,1581.3 436.2,1581.5 443.2,1581.6 450.2,1581.8 457.3,1582.0 464.3,1582.2 471.3,1582.4 478.3,1582.7 485.3,1582.9 492.3,1583.1 499.4,1583.3 506.4,1583.5 513.4,1583.8 520.4,1584.0 527.4,1584.2 534.4,1584.5 541.5,1584.7 548.5,1584.9 555.5,1585.1 562.5,1585.4 569.5,1585.6 576.5,1585.9 583.6,1586.2 590.6,1586.4 597.6,1586.7 604.6,1587.0 611.6,1587.3 618.6,1587.7 625.7,1588.0 632.7,1588.3 639.7,1588.7 646.7,1589.0 653.7,1589.3 660.7,1589.7"/><polyline points="106.5,1577.5 113.5,1577.5 120.5,1577.6 127.5,1577.6 134.5,1577.7 141.5,1577.7 148.6,1577.8 155.6,1577.8 162.6,1577.9 169.6,1577.9 176.6,1578.0 183.6,1578.0 190.7,1578.1 197.7,1578.2 204.7,1578.2 211.7,1578.3 218.7,1578.4 225.7,1578.4 232.8,1578.5 239.8,1578.6 246.8,1578.7 253.8,1578.8 260.8,1578.8 267.8,1578.9 274.9,1579.0 281.9,1579.1 288.9,1579.2 295.9,1579.4 302.9,1579.5 309.9,1579.6 316.9,1579.7 324.0,1579.8 331.0,1580.0 338.0,1580.1 345.0,1580.2 352.0,1580.4 359.0,1580.5 366.1,1580.7 373.1,1580.9 380.1,1581.0 387.1,1581.2 394.1,1581.4 401.1,1581.5 408.2,1581.7 415.2,1581.9 422.2,1582.1 429.2,1582.3 436.2,1582.5 443.2,1582.7 450.2,1582.9 457.3,1583.1 464.3,1583.4 471.3,1583.6 478.3,1583.8 485.3,1584.0 492.3,1584.3 499.4,1584.5 506.4,1584.8 513.4,1585.1 520.4,1585.4 527.4,1585.6 534.4,1585.9 541.5,1586.2 548.5,1586.6 555.5,1586.9 562.5,1587.2 569.5,1587.6 576.5,1587.9 583.6,1588.2 590.6,1588.6 597.6,1589.0 604.6,1589.3 611.6,1589.7 618.6,1590.1 625.7,1590.5 632.7,1590.8 639.7,1591.2 646.7,1591.6 653.7,1592.0 660.7,1592.4"/><polyline points="106.5,1577.5 113.5,1577.6 120.5,1577.6 127.5,1577.7 134.5,1577.8 141.5,1577.8 148.6,1577.9 155.6,1578.0 162.6,1578.0 169.6,1578.1 176.6,1578.2 183.6,1578.2 190.7,1578.3 197.7,1578.4 204.7,1578.5 211.7,1578.5 218.7,1578.6 225.7,1578.7 232.8,1578.8 239.8,1578.9 246.8,1578.9 253.8,1579.0 260.8,1579.1 267.8,1579.2 274.9,1579.3 281.9,1579.4 288.9,1579.5 295.9,1579.6 302.9,1579.8 309.9,1579.9 316.9,1580.0 324.0,1580.2 331.0,1580.3 338.0,1580.5 345.0,1580.6 352.0,1580.8 359.0,1581.0 366.1,1581.2 373.1,1581.4 380.1,1581.6 387.1,1581.8 394.1,1582.0 401.1,1582.2 408.2,1582.5 415.2,1582.7 422.2,1583.0 429.2,1583.2 436.2,1583.5 443.2,1583.7 450.2,1584.0 457.3,1584.3 464.3,1584.5 471.3,1584.8 478.3,1585.0 485.3,1585.3 492.3,1585.5 499.4,1585.8 506.4,1586.1 513.4,1586.4 520.4,1586.7 527.4,1587.0 534.4,1587.4 541.5,1587.7 548.5,1588.1 555.5,1588.5 562.5,1588.8 569.5,1589.2 576.5,1589.7 583.6,1590.1 590.6,1590.5 597.6,1590.9 604.6,1591.4 611.6,1591.8 618.6,1592.3 625.7,1592.7 632.7,1593.2 639.7,1593.7 646.7,1594.2 653.7,1594.6 660.7,1595.1"/><polyline points="106.5,1577.5 113.5,1577.6 120.5,1577.7 127.5,1577.7 134.5,1577.8 141.5,1577.9 148.6,1578.0 155.6,1578.1 162.6,1578.1 169.6,1578.2 176.6,1578.3 183.6,1578.4 190.7,1578.5 197.7,1578.6 204.7,1578.7 211.7,1578.8 218.7,1578.8 225.7,1578.9 232.8,1579.0 239.8,1579.1 246.8,1579.2 253.8,1579.3 260.8,1579.4 267.8,1579.5 274.9,1579.6 281.9,1579.8 288.9,1579.9 295.9,1580.0 302.9,1580.1 309.9,1580.3 316.9,1580.4 324.0,1580.6 331.0,1580.7 338.0,1580.9 345.0,1581.1 352.0,1581.2 359.0,1581.4 366.1,1581.7 373.1,1581.9 380.1,1582.1 387.1,1582.3 394.1,1582.6 401.1,1582.9 408.2,1583.1 415.2,1583.4 422.2,1583.7 429.2,1584.0 436.2,1584.3 443.2,1584.5 450.2,1584.8 457.3,1585.1 464.3,1585.4 471.3,1585.6 478.3,1585.9 485.3,1586.2 492.3,1586.5 499.4,1586.8 506.4,1587.1 513.4,1587.4 520.4,1587.8 527.4,1588.2 534.4,1588.6 541.5,1589.0 548.5,1589.4 555.5,1589.9 562.5,1590.4 569.5,1590.9 576.5,1591.4 583.6,1591.9 590.6,1592.4 597.6,1592.9 604.6,1593.4 611.6,1594.0 618.6,1594.5 625.7,1595.1 632.7,1595.6 639.7,1596.2 646.7,1596.7 653.7,1597.3 660.7,1597.8"/><polyline points="106.5,1577.5 113.5,1577.6 120.5,1577.7 127.5,1577.8 134.5,1577.9 141.5,1578.0 148.6,1578.1 155.6,1578.2 162.6,1578.3 169.6,1578.4 176.6,1578.5 183.6,1578.6 190.7,1578.7 197.7,1578.8 204.7,1578.9 211.7,1579.0 218.7,1579.1 225.7,1579.2 232.8,1579.3 239.8,1579.4 246.8,1579.5 253.8,1579.6 260.8,1579.7 267.8,1579.8 274.9,1580.0 281.9,1580.1 288.9,1580.2 295.9,1580.4 302.9,1580.5 309.9,1580.6 316.9,1580.8 324.0,1581.0 331.0,1581.1 338.0,1581.3 345.0,1581.5 352.0,1581.7 359.0,1581.9 366.1,1582.2 373.1,1582.4 380.1,1582.6 387.1,1582.9 394.1,1583.2 401.1,1583.5 408.2,1583.8 415.2,1584.1 422.2,1584.4 429.2,1584.7 436.2,1585.0 443.2,1585.3 450.2,1585.6 457.3,1585.9 464.3,1586.2 471.3,1586.5 478.3,1586.8 485.3,1587.2 492.3,1587.5 499.4,1587.8 506.4,1588.1 513.4,1588.5 520.4,1588.9 527.4,1589.3 534.4,1589.7 541.5,1590.1 548.5,1590.6 555.5,1591.0 562.5,1591.5 569.5,1592.1 576.5,1592.6 583.6,1593.2 590.6,1593.7 597.6,1594.4 604.6,1595.0 611.6,1595.6 618.6,1596.3 625.7,1597.0 632.7,1597.7 639.7,1598.4 646.7,1599.1 653.7,1599.8 660.7,1600.5"/><polyline points="106.5,1577.5 113.5,1577.6 120.5,1577.7 127.5,1577.8 134.5,1577.9 141.5,1578.1 148.6,1578.2 155.6,1578.3 162.6,1578.4 169.6,1578.5 176.6,1578.6 183.6,1578.7 190.7,1578.9 197.7,1579.0 204.7,1579.1 211.7,1579.2 218.7,1579.3 225.7,1579.4 232.8,1579.5 239.8,1579.7 246.8,1579.8 253.8,1579.9 260.8,1580.0 267.8,1580.2 274.9,1580.3 281.9,1580.4 288.9,1580.6 295.9,1580.7 302.9,1580.9 309.9,1581.0 316.9,1581.2 324.0,1581.4 331.0,1581.5 338.0,1581.7 345.0,1581.9 352.0,1582.2 359.0,1582.4 366.1,1582.6 373.1,1582.9 380.1,1583.2 387.1,1583.5 394.1,1583.8 401.1,1584.1 408.2,1584.4 415.2,1584.8 422.2,1585.1 429.2,1585.4 436.2,1585.8 443.2,1586.1 450.2,1586.4 457.3,1586.8 464.3,1587.1 471.3,1587.4 478.3,1587.7 485.3,1588.1 492.3,1588.4 499.4,1588.8 506.4,1589.1 513.4,1589.5 520.4,1590.0 527.4,1590.4 534.4,1590.9 541.5,1591.4 548.5,1591.9 555.5,1592.5 562.5,1593.1 569.5,1593.7 576.5,1594.3 583.6,1595.0 590.6,1595.6 597.6,1596.3 604.6,1597.1 611.6,1597.8 618.6,1598.5 625.7,1599.3 632.7,1600.1 639.7,1600.9 646.7,1601.6 653.7,1602.4 660.7,1603.2"/><polyline points="106.5,1577.5 113.5,1577.6 120.5,1577.8 127.5,1577.9 134.5,1578.0 141.5,1578.1 148.6,1578.3 155.6,1578.4 162.6,1578.5 169.6,1578.6 176.6,1578.8 183.6,1578.9 190.7,1579.0 197.7,1579.2 204.7,1579.3 211.7,1579.4 218.7,1579.5 225.7,1579.7 232.8,1579.8 239.8,1579.9 246.8,1580.1 253.8,1580.2 260.8,1580.3 267.8,1580.5 274.9,1580.6 281.9,1580.8 288.9,1580.9 295.9,1581.1 302.9,1581.2 309.9,1581.4 316.9,1581.6 324.0,1581.8 331.0,1582.0 338.0,1582.2 345.0,1582.4 352.0,1582.6 359.0,1582.9 366.1,1583.1 373.1,1583.4 380.1,1583.7 387.1,1584.0 394.1,1584.4 401.1,1584.7 408.2,1585.1 415.2,1585.4 422.2,1585.8 429.2,1586.2 436.2,1586.5 443.2,1586.9 450.2,1587.2 457.3,1587.6 464.3,1587.9 471.3,1588.3 478.3,1588.6 485.3,1589.0 492.3,1589.4 499.4,1589.8 506.4,1590.2 513.4,1590.6 520.4,1591.0 527.4,1591.5 534.4,1592.0 541.5,1592.6 548.5,1593.2 555.5,1593.8 562.5,1594.4 569.5,1595.1 576.5,1595.8 583.6,1596.5 590.6,1597.3 597.6,1598.1 604.6,1598.9 611.6,1599.7 618.6,1600.6 625.7,1601.4 632.7,1602.3 639.7,1603.2 646.7,1604.1 653.7,1605.0 660.7,1605.9"/><polyline points="106.5,1577.5 113.5,1577.6 120.5,1577.8 127.5,1577.9 134.5,1578.1 141.5,1578.2 148.6,1578.4 155.6,1578.5 162.6,1578.6 169.6,1578.8 176.6,1578.9 183.6,1579.1 190.7,1579.2 197.7,1579.4 204.7,1579.5 211.7,1579.6 218.7,1579.8 225.7,1579.9 232.8,1580.1 239.8,1580.2 246.8,1580.4 253.8,1580.5 260.8,1580.6 267.8,1580.8 274.9,1580.9 281.9,1581.1 288.9,1581.3 295.9,1581.4 302.9,1581.6 309.9,1581.8 316.9,1582.0 324.0,1582.2 331.0,1582.4 338.0,1582.6 345.0,1582.9 352.0,1583.1 359.0,1583.4 366.1,1583.7 373.1,1584.0 380.1,1584.3 387.1,1584.6 394.1,1585.0 401.1,1585.3 408.2,1585.7 415.2,1586.1 422.2,1586.5 429.2,1586.9 436.2,1587.3 443.2,1587.7 450.2,1588.1 457.3,1588.5 464.3,1588.9 471.3,1589.3 478.3,1589.7 485.3,1590.1 492.3,1590.5 499.4,1590.9 506.4,1591.4 513.4,1591.9 520.4,1592.4 527.4,1592.9 534.4,1593.5 541.5,1594.1 548.5,1594.7 555.5,1595.4 562.5,1596.1 569.5,1596.8 576.5,1597.6 583.6,1598.3 590.6,1599.2 597.6,1600.0 604.6,1600.9 611.6,1601.8 618.6,1602.7 625.7,1603.7 632.7,1604.7 639.7,1605.6 646.7,1606.6 653.7,1607.6 660.7,1608.6"/><polyline points="106.5,1577.5 113.5,1577.6 120.5,1577.8 127.5,1577.9 134.5,1578.1 141.5,1578.2 148.6,1578.3 155.6,1578.5 162.6,1578.6 169.6,1578.8 176.6,1578.9 183.6,1579.1 190.7,1579.2 197.7,1579.3 204.7,1579.5 211.7,1579.6 218.7,1579.8 225.7,1579.9 232.8,1580.1 239.8,1580.2 246.8,1580.4 253.8,1580.5 260.8,1580.7 267.8,1580.8 274.9,1581.0 281.9,1581.1 288.9,1581.3 295.9,1581.5 302.9,1581.7 309.9,1581.9 316.9,1582.1 324.0,1582.3 331.0,1582.5 338.0,1582.8 345.0,1583.0 352.0,1583.3 359.0,1583.6 366.1,1583.9 373.1,1584.2 380.1,1584.5 387.1,1584.9 394.1,1585.3 401.1,1585.7 408.2,1586.1 415.2,1586.5 422.2,1586.9 429.2,1587.3 436.2,1587.8 443.2,1588.2 450.2,1588.6 457.3,1589.0 464.3,1589.4 471.3,1589.9 478.3,1590.3 485.3,1590.7 492.3,1591.2 499.4,1591.6 506.4,1592.1 513.4,1592.7 520.4,1593.2 527.4,1593.8 534.4,1594.4 541.5,1595.1 548.5,1595.8 555.5,1596.5 562.5,1597.3 569.5,1598.1 576.5,1598.9 583.6,1599.8 590.6,1600.8 597.6,1601.8 604.6,1602.8 611.6,1603.9 618.6,1605.0 625.7,1606.2 632.7,1607.3 639.7,1608.5 646.7,1609.7 653.7,1610.9 660.7,1612.2"/><polyline points="106.5,1577.5 113.5,1577.7 120.5,1577.8 127.5,1578.0 134.5,1578.1 141.5,1578.3 148.6,1578.5 155.6,1578.6 162.6,1578.8 169.6,1578.9 176.6,1579.1 183.6,1579.3 190.7,1579.4 197.7,1579.6 204.7,1579.7 211.7,1579.9 218.7,1580.0 225.7,1580.2 232.8,1580.3 239.8,1580.5 246.8,1580.6 253.8,1580.8 260.8,1580.9 267.8,1581.1 274.9,1581.2 281.9,1581.4 288.9,1581.6 295.9,1581.7 302.9,1581.9 309.9,1582.1 316.9,1582.3 324.0,1582.5 331.0,1582.8 338.0,1583.0 345.0,1583.3 352.0,1583.5 359.0,1583.8 366.1,1584.1 373.1,1584.5 380.1,1584.8 387.1,1585.2 394.1,1585.6 401.1,1586.0 408.2,1586.4 415.2,1586.9 422.2,1587.3 429.2,1587.8 436.2,1588.2 443.2,1588.7 450.2,1589.1 457.3,1589.6 464.3,1590.1 471.3,1590.5 478.3,1591.0 485.3,1591.5 492.3,1592.0 499.4,1592.5 506.4,1593.1 513.4,1593.7 520.4,1594.3 527.4,1594.9 534.4,1595.6 541.5,1596.3 548.5,1597.1 555.5,1597.9 562.5,1598.8 569.5,1599.7 576.5,1600.6 583.6,1601.6 590.6,1602.7 597.6,1603.8 604.6,1605.0 611.6,1606.2 618.6,1607.4 625.7,1608.7 632.7,1610.0 639.7,1611.3 646.7,1612.7 653.7,1614.0 660.7,1615.4"/><polyline points="106.5,1577.5 113.5,1577.7 120.5,1577.8 127.5,1578.0 134.5,1578.1 141.5,1578.3 148.6,1578.4 155.6,1578.6 162.6,1578.8 169.6,1578.9 176.6,1579.1 183.6,1579.2 190.7,1579.4 197.7,1579.5 204.7,1579.7 211.7,1579.9 218.7,1580.0 225.7,1580.2 232.8,1580.3 239.8,1580.5 246.8,1580.6 253.8,1580.8 260.8,1581.0 267.8,1581.1 274.9,1581.3 281.9,1581.5 288.9,1581.6 295.9,1581.8 302.9,1582.0 309.9,1582.2 316.9,1582.4 324.0,1582.7 331.0,1582.9 338.0,1583.2 345.0,1583.4 352.0,1583.7 359.0,1584.0 366.1,1584.4 373.1,1584.7 380.1,1585.1 387.1,1585.5 394.1,1585.9 401.1,1586.3 408.2,1586.8 415.2,1587.2 422.2,1587.7 429.2,1588.2 436.2,1588.7 443.2,1589.2 450.2,1589.7 457.3,1590.2 464.3,1590.7 471.3,1591.2 478.3,1591.8 485.3,1592.3 492.3,1592.9 499.4,1593.5 506.4,1594.1 513.4,1594.7 520.4,1595.4 527.4,1596.1 534.4,1596.8 541.5,1597.6 548.5,1598.4 555.5,1599.3 562.5,1600.2 569.5,1601.2 576.5,1602.3 583.6,1603.4 590.6,1604.6 597.6,1605.8 604.6,1607.2 611.6,1608.6 618.6,1610.0 625.7,1611.5 632.7,1613.1 639.7,1614.7 646.7,1616.2 653.7,1617.9 660.7,1619.5"/><polyline points="106.5,1577.5 113.5,1577.7 120.5,1577.8 127.5,1578.0 134.5,1578.2 141.5,1578.3 148.6,1578.5 155.6,1578.7 162.6,1578.9 169.6,1579.0 176.6,1579.2 183.6,1579.4 190.7,1579.5 197.7,1579.7 204.7,1579.9 211.7,1580.1 218.7,1580.2 225.7,1580.4 232.8,1580.6 239.8,1580.7 246.8,1580.9 253.8,1581.1 260.8,1581.3 267.8,1581.5 274.9,1581.6 281.9,1581.8 288.9,1582.0 295.9,1582.2 302.9,1582.5 309.9,1582.7 316.9,1582.9 324.0,1583.2 331.0,1583.4 338.0,1583.7 345.0,1584.0 352.0,1584.3 359.0,1584.6 366.1,1584.9 373.1,1585.3 380.1,1585.6 387.1,1586.0 394.1,1586.4 401.1,1586.8 408.2,1587.3 415.2,1587.7 422.2,1588.2 429.2,1588.7 436.2,1589.2 443.2,1589.7 450.2,1590.2 457.3,1590.8 464.3,1591.3 471.3,1591.9 478.3,1592.4 485.3,1593.1 492.3,1593.7 499.4,1594.3 506.4,1595.0 513.4,1595.7 520.4,1596.5 527.4,1597.2 534.4,1598.1 541.5,1598.9 548.5,1599.8 555.5,1600.8 562.5,1601.9 569.5,1603.0 576.5,1604.1 583.6,1605.4 590.6,1606.7 597.6,1608.2 604.6,1609.7 611.6,1611.3 618.6,1612.9 625.7,1614.6 632.7,1616.3 639.7,1618.1 646.7,1619.9 653.7,1621.7 660.7,1623.5"/><polyline points="106.5,1577.5 113.5,1577.7 120.5,1577.8 127.5,1578.0 134.5,1578.2 141.5,1578.4 148.6,1578.5 155.6,1578.7 162.6,1578.9 169.6,1579.0 176.6,1579.2 183.6,1579.4 190.7,1579.5 197.7,1579.7 204.7,1579.9 211.7,1580.1 218.7,1580.2 225.7,1580.4 232.8,1580.6 239.8,1580.7 246.8,1580.9 253.8,1581.1 260.8,1581.3 267.8,1581.5 274.9,1581.6 281.9,1581.8 288.9,1582.0 295.9,1582.2 302.9,1582.5 309.9,1582.7 316.9,1582.9 324.0,1583.2 331.0,1583.5 338.0,1583.8 345.0,1584.1 352.0,1584.4 359.0,1584.7 366.1,1585.1 373.1,1585.5 380.1,1585.9 387.1,1586.3 394.1,1586.8 401.1,1587.3 408.2,1587.8 415.2,1588.3 422.2,1588.8 429.2,1589.4 436.2,1589.9 443.2,1590.5 450.2,1591.0 457.3,1591.6 464.3,1592.2 471.3,1592.8 478.3,1593.4 485.3,1594.1 492.3,1594.7 499.4,1595.5 506.4,1596.2 513.4,1597.0 520.4,1597.8 527.4,1598.7 534.4,1599.6 541.5,1600.6 548.5,1601.7 555.5,1602.8 562.5,1604.0 569.5,1605.2 576.5,1606.6 583.6,1608.0 590.6,1609.5 597.6,1611.0 604.6,1612.7 611.6,1614.4 618.6,1616.2 625.7,1618.0 632.7,1619.9 639.7,1621.8 646.7,1623.7 653.7,1625.6 660.7,1627.6"/><polyline points="106.5,1577.5 113.5,1577.7 120.5,1577.9 127.5,1578.1 134.5,1578.3 141.5,1578.4 148.6,1578.6 155.6,1578.8 162.6,1579.0 169.6,1579.2 176.6,1579.4 183.6,1579.6 190.7,1579.8 197.7,1579.9 204.7,1580.1 211.7,1580.3 218.7,1580.5 225.7,1580.7 232.8,1580.8 239.8,1581.0 246.8,1581.2 253.8,1581.4 260.8,1581.5 267.8,1581.7 274.9,1581.9 281.9,1582.1 288.9,1582.3 295.9,1582.5 302.9,1582.7 309.9,1582.9 316.9,1583.2 324.0,1583.4 331.0,1583.7 338.0,1584.0 345.0,1584.3 352.0,1584.6 359.0,1585.0 366.1,1585.3 373.1,1585.7 380.1,1586.2 387.1,1586.6 394.1,1587.1 401.1,1587.6 408.2,1588.1 415.2,1588.7 422.2,1589.2 429.2,1589.8 436.2,1590.4 443.2,1591.0 450.2,1591.6 457.3,1592.2 464.3,1592.8 471.3,1593.5 478.3,1594.2 485.3,1594.9 492.3,1595.6 499.4,1596.4 506.4,1597.3 513.4,1598.2 520.4,1599.2 527.4,1600.2 534.4,1601.3 541.5,1602.5 548.5,1603.8 555.5,1605.1 562.5,1606.5 569.5,1608.0 576.5,1609.5 583.6,1611.1 590.6,1612.7 597.6,1614.4 604.6,1616.1 611.6,1617.9 618.6,1619.7 625.7,1621.6 632.7,1623.4 639.7,1625.3 646.7,1627.3 653.7,1629.2 660.7,1631.1"/><polyline points="106.5,1577.5 113.5,1577.7 120.5,1577.9 127.5,1578.1 134.5,1578.3 141.5,1578.5 148.6,1578.6 155.6,1578.8 162.6,1579.0 169.6,1579.2 176.6,1579.4 183.6,1579.6 190.7,1579.8 197.7,1579.9 204.7,1580.1 211.7,1580.3 218.7,1580.5 225.7,1580.7 232.8,1580.8 239.8,1581.0 246.8,1581.2 253.8,1581.4 260.8,1581.5 267.8,1581.7 274.9,1581.9 281.9,1582.1 288.9,1582.3 295.9,1582.5 302.9,1582.7 309.9,1583.0 316.9,1583.2 324.0,1583.5 331.0,1583.8 338.0,1584.1 345.0,1584.4 352.0,1584.8 359.0,1585.1 366.1,1585.5 373.1,1586.0 380.1,1586.4 387.1,1586.9 394.1,1587.5 401.1,1588.0 408.2,1588.6 415.2,1589.2 422.2,1589.8 429.2,1590.4 436.2,1591.1 443.2,1591.7 450.2,1592.4 457.3,1593.1 464.3,1593.8 471.3,1594.5 478.3,1595.2 485.3,1596.0 492.3,1596.8 499.4,1597.6 506.4,1598.5 513.4,1599.5 520.4,1600.5 527.4,1601.6 534.4,1602.8 541.5,1604.1 548.5,1605.4 555.5,1606.8 562.5,1608.3 569.5,1609.8 576.5,1611.4 583.6,1613.1 590.6,1614.9 597.6,1616.7 604.6,1618.6 611.6,1620.5 618.6,1622.5 625.7,1624.6 632.7,1626.7 639.7,1628.8 646.7,1630.9 653.7,1633.0 660.7,1635.2"/><polyline points="106.5,1577.5 113.5,1577.7 120.5,1577.9 127.5,1578.1 134.5,1578.3 141.5,1578.5 148.6,1578.7 155.6,1578.9 162.6,1579.1 169.6,1579.3 176.6,1579.5 183.6,1579.7 190.7,1579.9 197.7,1580.1 204.7,1580.3 211.7,1580.5 218.7,1580.7 225.7,1580.9 232.8,1581.1 239.8,1581.3 246.8,1581.5 253.8,1581.7 260.8,1581.9 267.8,1582.0 274.9,1582.2 281.9,1582.4 288.9,1582.7 295.9,1582.9 302.9,1583.1 309.9,1583.4 316.9,1583.6 324.0,1583.9 331.0,1584.2 338.0,1584.5 345.0,1584.9 352.0,1585.2 359.0,1585.6 366.1,1586.0 373.1,1586.5 380.1,1587.0 387.1,1587.5 394.1,1588.0 401.1,1588.6 408.2,1589.2 415.2,1589.8 422.2,1590.5 429.2,1591.1 436.2,1591.8 443.2,1592.5 450.2,1593.2 457.3,1593.9 464.3,1594.6 471.3,1595.4 478.3,1596.2 485.3,1597.0 492.3,1597.8 499.4,1598.8 506.4,1599.7 513.4,1600.8 520.4,1601.9 527.4,1603.1 534.4,1604.3 541.5,1605.7 548.5,1607.1 555.5,1608.6 562.5,1610.2 569.5,1611.9 576.5,1613.6 583.6,1615.4 590.6,1617.3 597.6,1619.3 604.6,1621.3 611.6,1623.4 618.6,1625.6 625.7,1627.8 632.7,1630.0 639.7,1632.3 646.7,1634.6 653.7,1636.9 660.7,1639.2"/><polyline points="106.5,1577.5 113.5,1577.7 120.5,1577.9 127.5,1578.1 134.5,1578.3 141.5,1578.5 148.6,1578.7 155.6,1578.9 162.6,1579.1 169.6,1579.3 176.6,1579.5 183.6,1579.7 190.7,1579.9 197.7,1580.1 204.7,1580.3 211.7,1580.5 218.7,1580.7 225.7,1580.9 232.8,1581.1 239.8,1581.3 246.8,1581.5 253.8,1581.7 260.8,1581.9 267.8,1582.1 274.9,1582.3 281.9,1582.5 288.9,1582.7 295.9,1583.0 302.9,1583.2 309.9,1583.5 316.9,1583.7 324.0,1584.0 331.0,1584.4 338.0,1584.7 345.0,1585.0 352.0,1585.4 359.0,1585.8 366.1,1586.3 373.1,1586.7 380.1,1587.2 387.1,1587.8 394.1,1588.3 401.1,1588.9 408.2,1589.6 415.2,1590.2 422.2,1590.9 429.2,1591.6 436.2,1592.3 443.2,1593.0 450.2,1593.7 457.3,1594.5 464.3,1595.3 471.3,1596.1 478.3,1596.9 485.3,1597.8 492.3,1598.8 499.4,1599.8 506.4,1600.9 513.4,1602.0 520.4,1603.2 527.4,1604.5 534.4,1606.0 541.5,1607.5 548.5,1609.1 555.5,1610.8 562.5,1612.6 569.5,1614.5 576.5,1616.5 583.6,1618.6 590.6,1620.8 597.6,1623.2 604.6,1625.6 611.6,1628.1 618.6,1630.7 625.7,1633.4 632.7,1636.1 639.7,1638.9 646.7,1641.7 653.7,1644.5 660.7,1647.4"/><polyline points="106.5,1577.5 113.5,1577.7 120.5,1577.9 127.5,1578.2 134.5,1578.4 141.5,1578.6 148.6,1578.8 155.6,1579.0 162.6,1579.3 169.6,1579.5 176.6,1579.7 183.6,1579.9 190.7,1580.1 197.7,1580.3 204.7,1580.5 211.7,1580.8 218.7,1581.0 225.7,1581.2 232.8,1581.4 239.8,1581.6 246.8,1581.8 253.8,1582.0 260.8,1582.1 267.8,1582.3 274.9,1582.6 281.9,1582.8 288.9,1583.0 295.9,1583.2 302.9,1583.5 309.9,1583.7 316.9,1584.0 324.0,1584.3 331.0,1584.6 338.0,1584.9 345.0,1585.3 352.0,1585.7 359.0,1586.1 366.1,1586.5 373.1,1587.0 380.1,1587.5 387.1,1588.1 394.1,1588.6 401.1,1589.3 408.2,1589.9 415.2,1590.6 422.2,1591.3 429.2,1592.0 436.2,1592.7 443.2,1593.5 450.2,1594.3 457.3,1595.1 464.3,1595.9 471.3,1596.8 478.3,1597.7 485.3,1598.7 492.3,1599.7 499.4,1600.8 506.4,1602.0 513.4,1603.2 520.4,1604.6 527.4,1606.0 534.4,1607.6 541.5,1609.2 548.5,1611.0 555.5,1612.8 562.5,1614.8 569.5,1616.8 576.5,1619.0 583.6,1621.2 590.6,1623.5 597.6,1626.0 604.6,1628.5 611.6,1631.0 618.6,1633.7 625.7,1636.4 632.7,1639.1 639.7,1641.9 646.7,1644.7 653.7,1647.5 660.7,1650.3"/><polyline points="106.5,1577.5 113.5,1577.7 120.5,1577.9 127.5,1578.2 134.5,1578.4 141.5,1578.6 148.6,1578.8 155.6,1579.0 162.6,1579.2 169.6,1579.5 176.6,1579.7 183.6,1579.9 190.7,1580.1 197.7,1580.3 204.7,1580.5 211.7,1580.7 218.7,1580.9 225.7,1581.2 232.8,1581.4 239.8,1581.6 246.8,1581.8 253.8,1582.0 260.8,1582.2 267.8,1582.4 274.9,1582.6 281.9,1582.8 288.9,1583.0 295.9,1583.3 302.9,1583.5 309.9,1583.8 316.9,1584.1 324.0,1584.4 331.0,1584.7 338.0,1585.1 345.0,1585.5 352.0,1585.9 359.0,1586.3 366.1,1586.8 373.1,1587.3 380.1,1587.8 387.1,1588.4 394.1,1589.0 401.1,1589.6 408.2,1590.2 415.2,1590.9 422.2,1591.7 429.2,1592.4 436.2,1593.2 443.2,1594.0 450.2,1594.8 457.3,1595.7 464.3,1596.6 471.3,1597.5 478.3,1598.5 485.3,1599.5 492.3,1600.6 499.4,1601.8 506.4,1603.1 513.4,1604.5 520.4,1605.9 527.4,1607.5 534.4,1609.2 541.5,1611.0 548.5,1612.9 555.5,1614.9 562.5,1617.0 569.5,1619.2 576.5,1621.4 583.6,1623.8 590.6,1626.2 597.6,1628.8 604.6,1631.3 611.6,1634.0 618.6,1636.7 625.7,1639.4 632.7,1642.2 639.7,1645.0 646.7,1647.9 653.7,1650.7 660.7,1653.6"/><polyline points="106.5,1577.5 113.5,1577.7 120.5,1578.0 127.5,1578.2 134.5,1578.4 141.5,1578.7 148.6,1578.9 155.6,1579.1 162.6,1579.3 169.6,1579.6 176.6,1579.8 183.6,1580.0 190.7,1580.3 197.7,1580.5 204.7,1580.7 211.7,1580.9 218.7,1581.2 225.7,1581.4 232.8,1581.6 239.8,1581.8 246.8,1582.1 253.8,1582.3 260.8,1582.5 267.8,1582.7 274.9,1583.0 281.9,1583.2 288.9,1583.5 295.9,1583.7 302.9,1584.0 309.9,1584.3 316.9,1584.6 324.0,1584.9 331.0,1585.3 338.0,1585.6 345.0,1586.0 352.0,1586.4 359.0,1586.9 366.1,1587.3 373.1,1587.8 380.1,1588.3 387.1,1588.9 394.1,1589.5 401.1,1590.1 408.2,1590.7 415.2,1591.4 422.2,1592.2 429.2,1592.9 436.2,1593.7 443.2,1594.5 450.2,1595.4 457.3,1596.3 464.3,1597.2 471.3,1598.2 478.3,1599.2 485.3,1600.3 492.3,1601.5 499.4,1602.8 506.4,1604.2 513.4,1605.7 520.4,1607.3 527.4,1609.0 534.4,1610.8 541.5,1612.8 548.5,1614.8 555.5,1617.0 562.5,1619.2 569.5,1621.5 576.5,1623.9 583.6,1626.4 590.6,1629.0 597.6,1631.5 604.6,1634.2 611.6,1636.9 618.6,1639.6 625.7,1642.4 632.7,1645.2 639.7,1648.0 646.7,1650.9 653.7,1653.7 660.7,1656.6"/><polyline points="106.5,1577.5 113.5,1577.8 120.5,1578.1 127.5,1578.4 134.5,1578.7 141.5,1579.1 148.6,1579.4 155.6,1579.7 162.6,1580.0 169.6,1580.3 176.6,1580.5 183.6,1580.8 190.7,1581.1 197.7,1581.4 204.7,1581.7 211.7,1581.9 218.7,1582.2 225.7,1582.4 232.8,1582.7 239.8,1582.9 246.8,1583.1 253.8,1583.4 260.8,1583.6 267.8,1583.8 274.9,1584.0 281.9,1584.2 288.9,1584.4 295.9,1584.7 302.9,1584.9 309.9,1585.2 316.9,1585.4 324.0,1585.7 331.0,1586.0 338.0,1586.3 345.0,1586.7 352.0,1587.1 359.0,1587.5 366.1,1587.9 373.1,1588.4 380.1,1588.9 387.1,1589.4 394.1,1590.0 401.1,1590.6 408.2,1591.3 415.2,1592.0 422.2,1592.8 429.2,1593.6 436.2,1594.5 443.2,1595.4 450.2,1596.5 457.3,1597.5 464.3,1598.7 471.3,1600.0 478.3,1601.3 485.3,1602.8 492.3,1604.5 499.4,1606.3 506.4,1608.2 513.4,1610.4 520.4,1612.7 527.4,1615.3 534.4,1618.0 541.5,1620.9 548.5,1623.9 555.5,1626.9 562.5,1630.0 569.5,1633.1 576.5,1636.2 583.6,1639.3 590.6,1642.2 597.6,1645.0 604.6,1647.8 611.6,1650.4 618.6,1652.9 625.7,1655.3 632.7,1657.7 639.7,1660.0 646.7,1662.3 653.7,1664.6 660.7,1666.9"/><polyline points="106.5,1577.5 113.5,1577.8 120.5,1578.1 127.5,1578.5 134.5,1578.8 141.5,1579.1 148.6,1579.5 155.6,1579.8 162.6,1580.1 169.6,1580.5 176.6,1580.8 183.6,1581.2 190.7,1581.5 197.7,1581.9 204.7,1582.3 211.7,1582.7 218.7,1583.1 225.7,1583.4 232.8,1583.9 239.8,1584.3 246.8,1584.7 253.8,1585.1 260.8,1585.6 267.8,1586.0 274.9,1586.5 281.9,1587.0 288.9,1587.4 295.9,1587.9 302.9,1588.4 309.9,1588.9 316.9,1589.4 324.0,1589.8 331.0,1590.3 338.0,1590.8 345.0,1591.3 352.0,1591.8 359.0,1592.3 366.1,1592.8 373.1,1593.3 380.1,1593.7 387.1,1594.2 394.1,1594.7 401.1,1595.3 408.2,1595.9 415.2,1596.6 422.2,1597.4 429.2,1598.4 436.2,1599.5 443.2,1600.9 450.2,1602.4 457.3,1604.2 464.3,1606.2 471.3,1608.4 478.3,1610.8 485.3,1613.4 492.3,1616.2 499.4,1619.1 506.4,1622.2 513.4,1625.4 520.4,1628.7 527.4,1632.1 534.4,1635.5 541.5,1639.0 548.5,1642.4 555.5,1645.8 562.5,1649.1 569.5,1652.3 576.5,1655.3 583.6,1658.1 590.6,1660.6 597.6,1662.9 604.6,1665.0 611.6,1666.8 618.6,1668.4 625.7,1669.8 632.7,1671.1 639.7,1672.3 646.7,1673.4 653.7,1674.5 660.7,1675.5"/><polyline points="106.5,1577.5 113.5,1577.6 120.5,1577.7 127.5,1577.7 134.5,1577.8 141.5,1577.9 148.6,1578.0 155.6,1578.1 162.6,1578.1 169.6,1578.2 176.6,1578.3 183.6,1578.4 190.7,1578.4 197.7,1578.5 204.7,1578.6 211.7,1578.6 218.7,1578.7 225.7,1578.8 232.8,1578.8 239.8,1578.9 246.8,1578.9 253.8,1578.9 260.8,1579.0 267.8,1579.0 274.9,1579.1 281.9,1579.1 288.9,1579.2 295.9,1579.2 302.9,1579.3 309.9,1579.4 316.9,1579.4 324.0,1579.5 331.0,1579.6 338.0,1579.7 345.0,1579.9 352.0,1580.0 359.0,1580.2 366.1,1580.3 373.1,1580.5 380.1,1580.7 387.1,1581.0 394.1,1581.2 401.1,1581.5 408.2,1581.8 415.2,1582.1 422.2,1582.3 429.2,1582.6 436.2,1582.9 443.2,1583.2 450.2,1583.5 457.3,1583.7 464.3,1584.0 471.3,1584.2 478.3,1584.4 485.3,1584.7 492.3,1584.9 499.4,1585.2 506.4,1585.5 513.4,1585.8 520.4,1586.2 527.4,1586.5 534.4,1587.0 541.5,1587.4 548.5,1587.9 555.5,1588.3 562.5,1588.9 569.5,1589.4 576.5,1589.9 583.6,1590.5 590.6,1591.0 597.6,1591.6 604.6,1592.2 611.6,1592.8 618.6,1593.4 625.7,1594.0 632.7,1594.6 639.7,1595.2 646.7,1595.8 653.7,1596.4 660.7,1597.0"/><polyline points="106.5,1577.5 113.5,1577.6 120.5,1577.7 127.5,1577.8 134.5,1578.0 141.5,1578.1 148.6,1578.2 155.6,1578.3 162.6,1578.4 169.6,1578.5 176.6,1578.6 183.6,1578.8 190.7,1578.9 197.7,1579.0 204.7,1579.1 211.7,1579.2 218.7,1579.3 225.7,1579.4 232.8,1579.6 239.8,1579.7 246.8,1579.8 253.8,1579.9 260.8,1580.0 267.8,1580.1 274.9,1580.2 281.9,1580.4 288.9,1580.5 295.9,1580.6 302.9,1580.8 309.9,1580.9 316.9,1581.1 324.0,1581.2 331.0,1581.4 338.0,1581.6 345.0,1581.8 352.0,1582.0 359.0,1582.2 366.1,1582.4 373.1,1582.7 380.1,1582.9 387.1,1583.2 394.1,1583.5 401.1,1583.8 408.2,1584.1 415.2,1584.4 422.2,1584.7 429.2,1585.1 436.2,1585.4 443.2,1585.8 450.2,1586.2 457.3,1586.5 464.3,1586.9 471.3,1587.3 478.3,1587.7 485.3,1588.2 492.3,1588.6 499.4,1589.1 506.4,1589.5 513.4,1590.0 520.4,1590.5 527.4,1591.0 534.4,1591.5 541.5,1592.1 548.5,1592.7 555.5,1593.3 562.5,1594.0 569.5,1594.7 576.5,1595.4 583.6,1596.2 590.6,1597.0 597.6,1597.9 604.6,1598.8 611.6,1599.8 618.6,1600.8 625.7,1601.8 632.7,1602.9 639.7,1604.0 646.7,1605.1 653.7,1606.2 660.7,1607.3"/><polyline points="106.5,1577.5 113.5,1577.5 120.5,1577.6 127.5,1577.6 134.5,1577.6 141.5,1577.7 148.6,1577.7 155.6,1577.7 162.6,1577.8 169.6,1577.8 176.6,1577.8 183.6,1577.9 190.7,1577.9 197.7,1577.9 204.7,1578.0 211.7,1578.0 218.7,1578.0 225.7,1578.1 232.8,1578.1 239.8,1578.1 246.8,1578.2 253.8,1578.2 260.8,1578.3 267.8,1578.3 274.9,1578.4 281.9,1578.4 288.9,1578.4 295.9,1578.5 302.9,1578.5 309.9,1578.6 316.9,1578.6 324.0,1578.7 331.0,1578.8 338.0,1578.8 345.0,1578.9 352.0,1579.0 359.0,1579.0 366.1,1579.1 373.1,1579.2 380.1,1579.3 387.1,1579.4 394.1,1579.5 401.1,1579.6 408.2,1579.7 415.2,1579.8 422.2,1579.9 429.2,1580.0 436.2,1580.1 443.2,1580.2 450.2,1580.4 457.3,1580.5 464.3,1580.6 471.3,1580.7 478.3,1580.9 485.3,1581.0 492.3,1581.1 499.4,1581.2 506.4,1581.4 513.4,1581.5 520.4,1581.6 527.4,1581.7 534.4,1581.8 541.5,1581.9 548.5,1582.0 555.5,1582.2 562.5,1582.3 569.5,1582.5 576.5,1582.7 583.6,1583.0 590.6,1583.2 597.6,1583.6 604.6,1583.9 611.6,1584.3 618.6,1584.8 625.7,1585.2 632.7,1585.7 639.7,1586.2 646.7,1586.7 653.7,1587.3 660.7,1587.8"/><polyline points="106.5,1577.5 113.5,1577.6 120.5,1577.6 127.5,1577.7 134.5,1577.7 141.5,1577.8 148.6,1577.8 155.6,1577.9 162.6,1577.9 169.6,1578.0 176.6,1578.0 183.6,1578.1 190.7,1578.1 197.7,1578.2 204.7,1578.2 211.7,1578.3 218.7,1578.3 225.7,1578.4 232.8,1578.5 239.8,1578.5 246.8,1578.6 253.8,1578.7 260.8,1578.7 267.8,1578.8 274.9,1578.9 281.9,1578.9 288.9,1579.0 295.9,1579.1 302.9,1579.2 309.9,1579.3 316.9,1579.3 324.0,1579.4 331.0,1579.5 338.0,1579.6 345.0,1579.7 352.0,1579.9 359.0,1580.0 366.1,1580.1 373.1,1580.2 380.1,1580.4 387.1,1580.5 394.1,1580.7 401.1,1580.8 408.2,1581.0 415.2,1581.2 422.2,1581.3 429.2,1581.5 436.2,1581.7 443.2,1581.9 450.2,1582.0 457.3,1582.2 464.3,1582.4 471.3,1582.6 478.3,1582.8 485.3,1583.0 492.3,1583.2 499.4,1583.4 506.4,1583.6 513.4,1583.8 520.4,1584.0 527.4,1584.2 534.4,1584.5 541.5,1584.7 548.5,1584.9 555.5,1585.1 562.5,1585.4 569.5,1585.7 576.5,1586.0 583.6,1586.3 590.6,1586.6 597.6,1587.0 604.6,1587.4 611.6,1587.8 618.6,1588.2 625.7,1588.7 632.7,1589.1 639.7,1589.6 646.7,1590.1 653.7,1590.6 660.7,1591.0"/><polyline points="106.5,1577.5 113.5,1577.6 120.5,1577.7 127.5,1577.7 134.5,1577.8 141.5,1577.9 148.6,1578.0 155.6,1578.0 162.6,1578.1 169.6,1578.2 176.6,1578.3 183.6,1578.3 190.7,1578.4 197.7,1578.5 204.7,1578.6 211.7,1578.7 218.7,1578.8 225.7,1578.8 232.8,1578.9 239.8,1579.0 246.8,1579.1 253.8,1579.2 260.8,1579.3 267.8,1579.4 274.9,1579.5 281.9,1579.6 288.9,1579.7 295.9,1579.8 302.9,1579.9 309.9,1580.0 316.9,1580.2 324.0,1580.3 331.0,1580.4 338.0,1580.6 345.0,1580.7 352.0,1580.9 359.0,1581.1 366.1,1581.3 373.1,1581.5 380.1,1581.7 387.1,1581.9 394.1,1582.1 401.1,1582.3 408.2,1582.6 415.2,1582.8 422.2,1583.1 429.2,1583.3 436.2,1583.6 443.2,1583.8 450.2,1584.1 457.3,1584.4 464.3,1584.6 471.3,1584.9 478.3,1585.1 485.3,1585.4 492.3,1585.7 499.4,1586.0 506.4,1586.3 513.4,1586.6 520.4,1587.0 527.4,1587.3 534.4,1587.7 541.5,1588.1 548.5,1588.4 555.5,1588.8 562.5,1589.2 569.5,1589.6 576.5,1590.0 583.6,1590.4 590.6,1590.7 597.6,1591.1 604.6,1591.4 611.6,1591.7 618.6,1592.0 625.7,1592.3 632.7,1592.6 639.7,1592.9 646.7,1593.2 653.7,1593.5 660.7,1593.7"/><polyline points="106.5,1577.5 113.5,1577.6 120.5,1577.6 127.5,1577.7 134.5,1577.7 141.5,1577.8 148.6,1577.9 155.6,1577.9 162.6,1578.0 169.6,1578.0 176.6,1578.1 183.6,1578.2 190.7,1578.2 197.7,1578.3 204.7,1578.4 211.7,1578.4 218.7,1578.5 225.7,1578.6 232.8,1578.6 239.8,1578.7 246.8,1578.8 253.8,1578.9 260.8,1578.9 267.8,1579.0 274.9,1579.1 281.9,1579.2 288.9,1579.3 295.9,1579.4 302.9,1579.5 309.9,1579.6 316.9,1579.7 324.0,1579.8 331.0,1579.9 338.0,1580.0 345.0,1580.1 352.0,1580.3 359.0,1580.4 366.1,1580.6 373.1,1580.7 380.1,1580.9 387.1,1581.1 394.1,1581.2 401.1,1581.4 408.2,1581.6 415.2,1581.8 422.2,1582.0 429.2,1582.2 436.2,1582.4 443.2,1582.7 450.2,1582.9 457.3,1583.1 464.3,1583.4 471.3,1583.6 478.3,1583.8 485.3,1584.1 492.3,1584.3 499.4,1584.5 506.4,1584.8 513.4,1585.0 520.4,1585.2 527.4,1585.4 534.4,1585.6 541.5,1585.8 548.5,1586.0 555.5,1586.3 562.5,1586.6 569.5,1586.9 576.5,1587.3 583.6,1587.8 590.6,1588.3 597.6,1588.9 604.6,1589.5 611.6,1590.3 618.6,1591.0 625.7,1591.9 632.7,1592.7 639.7,1593.6 646.7,1594.6 653.7,1595.5 660.7,1596.5"/><polyline points="106.5,1577.5 113.5,1577.6 120.5,1577.6 127.5,1577.7 134.5,1577.8 141.5,1577.9 148.6,1577.9 155.6,1578.0 162.6,1578.1 169.6,1578.2 176.6,1578.2 183.6,1578.3 190.7,1578.4 197.7,1578.5 204.7,1578.6 211.7,1578.6 218.7,1578.7 225.7,1578.8 232.8,1578.9 239.8,1579.0 246.8,1579.1 253.8,1579.2 260.8,1579.3 267.8,1579.4 274.9,1579.5 281.9,1579.6 288.9,1579.7 295.9,1579.8 302.9,1579.9 309.9,1580.0 316.9,1580.2 324.0,1580.3 331.0,1580.4 338.0,1580.6 345.0,1580.7 352.0,1580.9 359.0,1581.1 366.1,1581.2 373.1,1581.4 380.1,1581.6 387.1,1581.8 394.1,1582.0 401.1,1582.3 408.2,1582.5 415.2,1582.7 422.2,1583.0 429.2,1583.2 436.2,1583.5 443.2,1583.8 450.2,1584.0 457.3,1584.3 464.3,1584.6 471.3,1584.9 478.3,1585.2 485.3,1585.4 492.3,1585.7 499.4,1586.0 506.4,1586.3 513.4,1586.6 520.4,1586.8 527.4,1587.1 534.4,1587.4 541.5,1587.7 548.5,1588.0 555.5,1588.3 562.5,1588.6 569.5,1589.0 576.5,1589.5 583.6,1590.0 590.6,1590.6 597.6,1591.2 604.6,1591.9 611.6,1592.7 618.6,1593.5 625.7,1594.4 632.7,1595.3 639.7,1596.3 646.7,1597.2 653.7,1598.2 660.7,1599.2"/><polyline points="106.5,1577.5 113.5,1577.6 120.5,1577.7 127.5,1577.8 134.5,1577.9 141.5,1578.0 148.6,1578.1 155.6,1578.2 162.6,1578.3 169.6,1578.4 176.6,1578.6 183.6,1578.7 190.7,1578.8 197.7,1578.9 204.7,1579.0 211.7,1579.1 218.7,1579.2 225.7,1579.3 232.8,1579.5 239.8,1579.6 246.8,1579.7 253.8,1579.8 260.8,1580.0 267.8,1580.1 274.9,1580.2 281.9,1580.4 288.9,1580.5 295.9,1580.7 302.9,1580.8 309.9,1581.0 316.9,1581.2 324.0,1581.3 331.0,1581.5 338.0,1581.7 345.0,1582.0 352.0,1582.2 359.0,1582.4 366.1,1582.7 373.1,1582.9 380.1,1583.2 387.1,1583.5 394.1,1583.8 401.1,1584.1 408.2,1584.5 415.2,1584.8 422.2,1585.1 429.2,1585.5 436.2,1585.9 443.2,1586.2 450.2,1586.6 457.3,1586.9 464.3,1587.3 471.3,1587.7 478.3,1588.0 485.3,1588.4 492.3,1588.8 499.4,1589.2 506.4,1589.6 513.4,1590.0 520.4,1590.5 527.4,1590.9 534.4,1591.4 541.5,1591.9 548.5,1592.4 555.5,1592.9 562.5,1593.4 569.5,1593.9 576.5,1594.5 583.6,1595.1 590.6,1595.6 597.6,1596.2 604.6,1596.8 611.6,1597.4 618.6,1598.1 625.7,1598.7 632.7,1599.3 639.7,1599.9 646.7,1600.6 653.7,1601.2 660.7,1601.9"/><polyline points="106.5,1577.5 113.5,1577.6 120.5,1577.8 127.5,1577.9 134.5,1578.0 141.5,1578.2 148.6,1578.3 155.6,1578.4 162.6,1578.6 169.6,1578.7 176.6,1578.9 183.6,1579.0 190.7,1579.1 197.7,1579.3 204.7,1579.4 211.7,1579.6 218.7,1579.7 225.7,1579.9 232.8,1580.0 239.8,1580.2 246.8,1580.3 253.8,1580.5 260.8,1580.6 267.8,1580.8 274.9,1581.0 281.9,1581.1 288.9,1581.3 295.9,1581.5 302.9,1581.7 309.9,1581.9 316.9,1582.1 324.0,1582.4 331.0,1582.6 338.0,1582.9 345.0,1583.2 352.0,1583.4 359.0,1583.8 366.1,1584.1 373.1,1584.4 380.1,1584.8 387.1,1585.2 394.1,1585.6 401.1,1586.0 408.2,1586.4 415.2,1586.8 422.2,1587.3 429.2,1587.7 436.2,1588.2 443.2,1588.6 450.2,1589.1 457.3,1589.5 464.3,1590.0 471.3,1590.4 478.3,1590.9 485.3,1591.4 492.3,1591.9 499.4,1592.4 506.4,1592.9 513.4,1593.5 520.4,1594.1 527.4,1594.7 534.4,1595.4 541.5,1596.1 548.5,1596.8 555.5,1597.5 562.5,1598.2 569.5,1598.8 576.5,1599.5 583.6,1600.1 590.6,1600.7 597.6,1601.2 604.6,1601.7 611.6,1602.2 618.6,1602.6 625.7,1603.0 632.7,1603.3 639.7,1603.7 646.7,1604.0 653.7,1604.3 660.7,1604.6"/><polyline points="106.5,1577.5 113.5,1577.6 120.5,1577.8 127.5,1577.9 134.5,1578.0 141.5,1578.2 148.6,1578.3 155.6,1578.5 162.6,1578.6 169.6,1578.7 176.6,1578.9 183.6,1579.0 190.7,1579.2 197.7,1579.3 204.7,1579.5 211.7,1579.6 218.7,1579.7 225.7,1579.9 232.8,1580.1 239.8,1580.2 246.8,1580.4 253.8,1580.5 260.8,1580.7 267.8,1580.9 274.9,1581.0 281.9,1581.2 288.9,1581.4 295.9,1581.6 302.9,1581.8 309.9,1582.0 316.9,1582.2 324.0,1582.5 331.0,1582.7 338.0,1583.0 345.0,1583.3 352.0,1583.6 359.0,1583.9 366.1,1584.2 373.1,1584.6 380.1,1584.9 387.1,1585.3 394.1,1585.7 401.1,1586.1 408.2,1586.5 415.2,1587.0 422.2,1587.4 429.2,1587.9 436.2,1588.4 443.2,1588.8 450.2,1589.3 457.3,1589.8 464.3,1590.3 471.3,1590.7 478.3,1591.2 485.3,1591.7 492.3,1592.2 499.4,1592.7 506.4,1593.3 513.4,1593.8 520.4,1594.4 527.4,1594.9 534.4,1595.5 541.5,1596.2 548.5,1596.8 555.5,1597.5 562.5,1598.1 569.5,1598.8 576.5,1599.6 583.6,1600.3 590.6,1601.1 597.6,1601.9 604.6,1602.8 611.6,1603.6 618.6,1604.5 625.7,1605.4 632.7,1606.3 639.7,1607.2 646.7,1608.1 653.7,1609.1 660.7,1610.0"/><polyline points="106.5,1577.5 113.5,1577.6 120.5,1577.8 127.5,1577.9 134.5,1578.0 141.5,1578.2 148.6,1578.3 155.6,1578.5 162.6,1578.6 169.6,1578.7 176.6,1578.9 183.6,1579.0 190.7,1579.2 197.7,1579.3 204.7,1579.5 211.7,1579.6 218.7,1579.8 225.7,1579.9 232.8,1580.1 239.8,1580.3 246.8,1580.4 253.8,1580.6 260.8,1580.8 267.8,1580.9 274.9,1581.1 281.9,1581.3 288.9,1581.5 295.9,1581.7 302.9,1581.9 309.9,1582.2 316.9,1582.4 324.0,1582.6 331.0,1582.9 338.0,1583.2 345.0,1583.5 352.0,1583.8 359.0,1584.1 366.1,1584.4 373.1,1584.8 380.1,1585.1 387.1,1585.5 394.1,1585.9 401.1,1586.4 408.2,1586.8 415.2,1587.2 422.2,1587.7 429.2,1588.2 436.2,1588.7 443.2,1589.1 450.2,1589.6 457.3,1590.1 464.3,1590.6 471.3,1591.1 478.3,1591.7 485.3,1592.2 492.3,1592.7 499.4,1593.2 506.4,1593.8 513.4,1594.3 520.4,1594.8 527.4,1595.4 534.4,1595.9 541.5,1596.5 548.5,1597.1 555.5,1597.8 562.5,1598.5 569.5,1599.2 576.5,1600.0 583.6,1600.8 590.6,1601.8 597.6,1602.8 604.6,1603.8 611.6,1605.0 618.6,1606.2 625.7,1607.4 632.7,1608.7 639.7,1610.0 646.7,1611.3 653.7,1612.7 660.7,1614.1"/><polyline points="106.5,1577.5 113.5,1577.7 120.5,1577.9 127.5,1578.1 134.5,1578.3 141.5,1578.5 148.6,1578.7 155.6,1578.9 162.6,1579.1 169.6,1579.3 176.6,1579.6 183.6,1579.8 190.7,1580.0 197.7,1580.2 204.7,1580.4 211.7,1580.6 218.7,1580.9 225.7,1581.1 232.8,1581.3 239.8,1581.5 246.8,1581.8 253.8,1582.0 260.8,1582.2 267.8,1582.5 274.9,1582.8 281.9,1583.0 288.9,1583.3 295.9,1583.6 302.9,1583.9 309.9,1584.2 316.9,1584.6 324.0,1584.9 331.0,1585.3 338.0,1585.7 345.0,1586.1 352.0,1586.5 359.0,1587.0 366.1,1587.5 373.1,1588.0 380.1,1588.6 387.1,1589.2 394.1,1589.8 401.1,1590.4 408.2,1591.0 415.2,1591.7 422.2,1592.4 429.2,1593.0 436.2,1593.7 443.2,1594.4 450.2,1595.1 457.3,1595.8 464.3,1596.5 471.3,1597.1 478.3,1597.8 485.3,1598.5 492.3,1599.3 499.4,1600.1 506.4,1600.9 513.4,1601.7 520.4,1602.7 527.4,1603.6 534.4,1604.6 541.5,1605.7 548.5,1606.8 555.5,1607.8 562.5,1608.9 569.5,1609.9 576.5,1610.9 583.6,1611.8 590.6,1612.7 597.6,1613.5 604.6,1614.2 611.6,1614.8 618.6,1615.4 625.7,1615.9 632.7,1616.4 639.7,1616.9 646.7,1617.3 653.7,1617.7 660.7,1618.1"/><polyline points="106.5,1577.5 113.5,1577.6 120.5,1577.8 127.5,1577.9 134.5,1578.0 141.5,1578.2 148.6,1578.3 155.6,1578.4 162.6,1578.6 169.6,1578.7 176.6,1578.9 183.6,1579.0 190.7,1579.1 197.7,1579.3 204.7,1579.4 211.7,1579.6 218.7,1579.7 225.7,1579.9 232.8,1580.0 239.8,1580.2 246.8,1580.4 253.8,1580.5 260.8,1580.7 267.8,1580.9 274.9,1581.1 281.9,1581.3 288.9,1581.5 295.9,1581.7 302.9,1581.9 309.9,1582.1 316.9,1582.3 324.0,1582.6 331.0,1582.8 338.0,1583.1 345.0,1583.4 352.0,1583.7 359.0,1584.0 366.1,1584.3 373.1,1584.6 380.1,1585.0 387.1,1585.3 394.1,1585.7 401.1,1586.1 408.2,1586.5 415.2,1587.0 422.2,1587.4 429.2,1587.9 436.2,1588.4 443.2,1588.9 450.2,1589.4 457.3,1589.9 464.3,1590.4 471.3,1590.9 478.3,1591.5 485.3,1592.0 492.3,1592.5 499.4,1593.0 506.4,1593.5 513.4,1594.0 520.4,1594.5 527.4,1594.9 534.4,1595.3 541.5,1595.7 548.5,1596.2 555.5,1596.7 562.5,1597.4 569.5,1598.1 576.5,1599.0 583.6,1600.0 590.6,1601.2 597.6,1602.7 604.6,1604.3 611.6,1606.1 618.6,1608.0 625.7,1610.0 632.7,1612.2 639.7,1614.4 646.7,1616.7 653.7,1619.0 660.7,1621.4"/><polyline points="106.5,1577.5 113.5,1577.7 120.5,1578.0 127.5,1578.2 134.5,1578.4 141.5,1578.6 148.6,1578.9 155.6,1579.1 162.6,1579.3 169.6,1579.6 176.6,1579.8 183.6,1580.1 190.7,1580.3 197.7,1580.5 204.7,1580.8 211.7,1581.0 218.7,1581.3 225.7,1581.5 232.8,1581.8 239.8,1582.0 246.8,1582.3 253.8,1582.6 260.8,1582.9 267.8,1583.1 274.9,1583.4 281.9,1583.7 288.9,1584.1 295.9,1584.4 302.9,1584.7 309.9,1585.1 316.9,1585.5 324.0,1585.9 331.0,1586.3 338.0,1586.8 345.0,1587.2 352.0,1587.7 359.0,1588.2 366.1,1588.8 373.1,1589.4 380.1,1590.0 387.1,1590.7 394.1,1591.3 401.1,1592.1 408.2,1592.8 415.2,1593.5 422.2,1594.3 429.2,1595.1 436.2,1595.8 443.2,1596.6 450.2,1597.4 457.3,1598.2 464.3,1599.0 471.3,1599.7 478.3,1600.5 485.3,1601.3 492.3,1602.2 499.4,1603.1 506.4,1604.0 513.4,1604.9 520.4,1605.9 527.4,1607.0 534.4,1608.1 541.5,1609.3 548.5,1610.4 555.5,1611.6 562.5,1612.8 569.5,1614.0 576.5,1615.1 583.6,1616.2 590.6,1617.3 597.6,1618.3 604.6,1619.2 611.6,1620.2 618.6,1621.0 625.7,1621.9 632.7,1622.7 639.7,1623.4 646.7,1624.2 653.7,1625.0 660.7,1625.7"/></g><g fill="#ff00ff" fill-opacity="0.21"><polygon points="106.5,1577.5 110.0,1577.0 113.5,1576.4 117.0,1575.9 120.5,1575.3 124.0,1574.8 127.5,1574.2 131.0,1573.6 134.5,1573.1 138.0,1572.5 141.5,1571.9 145.1,1571.3 148.6,1570.7 152.1,1570.1 155.6,1569.5 159.1,1568.9 162.6,1568.2 166.1,1567.6 169.6,1566.9 173.1,1566.3 176.6,1565.6 180.1,1564.9 183.6,1564.2 187.2,1563.5 190.7,1562.8 194.2,1562.1 197.7,1561.3 201.2,1560.6 204.7,1559.9 208.2,1559.2 211.7,1558.6 215.2,1557.9 218.7,1557.2 222.2,1556.6 225.7,1556.0 229.2,1555.4 232.8,1554.8 236.3,1554.2 239.8,1553.7 243.3,1553.2 246.8,1552.7 250.3,1552.2 253.8,1551.8 257.3,1551.4 260.8,1551.0 264.3,1550.7 267.8,1550.4 271.3,1550.1 274.9,1549.9 278.4,1549.7 281.9,1549.5 285.4,1549.3 288.9,1549.2 292.4,1549.1 295.9,1549.1 299.4,1549.1 302.9,1549.1 306.4,1549.2 309.9,1549.3 313.4,1549.5 316.9,1549.7 320.5,1550.0 324.0,1550.3 327.5,1550.7 331.0,1551.1 334.5,1551.5 338.0,1552.0 341.5,1552.5 345.0,1553.0 348.5,1553.6 352.0,1554.2 355.5,1554.8 359.0,1555.5 362.6,1556.2 366.1,1556.9 369.6,1557.6 373.1,1558.4 376.6,1559.1 380.1,1559.9 383.6,1560.7 387.1,1561.5 390.6,1562.3 394.1,1563.1 397.6,1564.0 401.1,1564.8 404.6,1565.7 408.2,1566.6 411.7,1567.4 415.2,1568.3 418.7,1569.2 422.2,1570.0 425.7,1570.9 429.2,1571.7 432.7,1572.6 436.2,1573.4 439.7,1574.1 443.2,1574.8 446.7,1575.5 450.2,1576.1 453.8,1576.7 457.3,1577.2 460.8,1577.7 464.3,1578.1 467.8,1578.4 471.3,1578.8 474.8,1579.0 478.3,1579.3 481.8,1579.5 485.3,1579.7 488.8,1579.8 492.3,1579.9 495.9,1580.1 499.4,1580.1 502.9,1580.2 506.4,1580.3 509.9,1580.3 513.4,1580.4 516.9,1580.4 520.4,1580.5 523.9,1580.5 527.4,1580.6 530.9,1580.6 534.4,1580.7 538.0,1580.8 541.5,1580.8 545.0,1580.9 548.5,1581.0 552.0,1581.0 555.5,1581.1 559.0,1581.2 562.5,1581.3 566.0,1581.4 569.5,1581.5 573.0,1581.6 576.5,1581.7 580.0,1581.8 583.6,1581.9 587.1,1582.0 590.6,1582.1 594.1,1582.2 597.6,1582.4 601.1,1582.5 604.6,1582.6 608.1,1582.8 611.6,1582.9 615.1,1583.0 618.6,1583.2 622.1,1583.3 625.7,1583.5 629.2,1583.6 632.7,1583.8 636.2,1584.0 639.7,1584.1 643.2,1584.3 646.7,1584.4 650.2,1584.6 653.7,1584.8 657.2,1584.9 660.7,1585.1 660.7,1629.0 657.2,1628.2 653.7,1627.4 650.2,1626.6 646.7,1625.8 643.2,1625.1 639.7,1624.3 636.2,1623.5 632.7,1622.7 629.2,1622.0 625.7,1621.2 622.1,1620.5 618.6,1619.7 615.1,1619.0 611.6,1618.3 608.1,1617.5 604.6,1616.8 601.1,1616.1 597.6,1615.4 594.1,1614.7 590.6,1614.1 587.1,1613.4 583.6,1612.7 580.0,1612.1 576.5,1611.5 573.0,1610.8 569.5,1610.2 566.0,1609.6 562.5,1609.1 559.0,1608.5 555.5,1607.9 552.0,1607.4 548.5,1606.9 545.0,1606.4 541.5,1605.9 538.0,1605.4 534.4,1604.9 530.9,1604.5 527.4,1604.0 523.9,1603.6 520.4,1603.2 516.9,1602.8 513.4,1602.5 509.9,1602.1 506.4,1601.8 502.9,1601.5 499.4,1601.3 495.9,1601.0 492.3,1600.8 488.8,1600.7 485.3,1600.5 481.8,1600.4 478.3,1600.4 474.8,1600.4 471.3,1600.4 467.8,1600.4 464.3,1600.5 460.8,1600.7 457.3,1600.9 453.8,1601.1 450.2,1601.3 446.7,1601.6 443.2,1602.0 439.7,1602.3 436.2,1602.7 432.7,1603.2 429.2,1603.6 425.7,1604.1 422.2,1604.6 418.7,1605.1 415.2,1605.7 411.7,1606.2 408.2,1606.8 404.6,1607.3 401.1,1607.9 397.6,1608.5 394.1,1609.0 390.6,1609.6 387.1,1610.1 383.6,1610.6 380.1,1611.1 376.6,1611.5 373.1,1612.0 369.6,1612.3 366.1,1612.7 362.6,1613.0 359.0,1613.4 355.5,1613.6 352.0,1613.9 348.5,1614.1 345.0,1614.3 341.5,1614.5 338.0,1614.6 334.5,1614.8 331.0,1614.8 327.5,1614.9 324.0,1615.0 320.5,1615.0 316.9,1615.0 313.4,1614.9 309.9,1614.9 306.4,1614.8 302.9,1614.7 299.4,1614.5 295.9,1614.4 292.4,1614.2 288.9,1614.0 285.4,1613.8 281.9,1613.5 278.4,1613.2 274.9,1612.9 271.3,1612.5 267.8,1612.1 264.3,1611.7 260.8,1611.2 257.3,1610.8 253.8,1610.2 250.3,1609.7 246.8,1609.1 243.3,1608.5 239.8,1607.8 236.3,1607.1 232.8,1606.4 229.2,1605.7 225.7,1604.9 222.2,1604.1 218.7,1603.2 215.2,1602.4 211.7,1601.5 208.2,1600.6 204.7,1599.7 201.2,1598.8 197.7,1597.9 194.2,1597.0 190.7,1596.1 187.2,1595.2 183.6,1594.3 180.1,1593.4 176.6,1592.5 173.1,1591.6 169.6,1590.8 166.1,1589.9 162.6,1589.1 159.1,1588.3 155.6,1587.5 152.1,1586.7 148.6,1586.0 145.1,1585.2 141.5,1584.5 138.0,1583.8 134.5,1583.0 131.0,1582.3 127.5,1581.6 124.0,1580.9 120.5,1580.2 117.0,1579.5 113.5,1578.9 110.0,1578.2 106.5,1577.5"/></g><line x1="84.5" y1="1577.50" x2="683" y2="1577.50" stroke="#444" stroke-width="1.7"/><polyline points="106.5,1577.5 110.0,1577.6 113.5,1577.6 117.0,1577.7 120.5,1577.7 124.0,1577.8 127.5,1577.8 131.0,1577.9 134.5,1578.0 138.0,1578.0 141.5,1578.1 145.1,1578.1 148.6,1578.2 152.1,1578.3 155.6,1578.3 159.1,1578.4 162.6,1578.5 166.1,1578.5 169.6,1578.6 173.1,1578.6 176.6,1578.7 180.1,1578.8 183.6,1578.9 187.2,1578.9 190.7,1579.0 194.2,1579.1 197.7,1579.1 201.2,1579.2 204.7,1579.3 208.2,1579.3 211.7,1579.4 215.2,1579.5 218.7,1579.5 222.2,1579.6 225.7,1579.7 229.2,1579.7 232.8,1579.8 236.3,1579.9 239.8,1579.9 243.3,1580.0 246.8,1580.1 250.3,1580.1 253.8,1580.2 257.3,1580.2 260.8,1580.3 264.3,1580.4 267.8,1580.4 271.3,1580.5 274.9,1580.6 278.4,1580.7 281.9,1580.7 285.4,1580.8 288.9,1580.9 292.4,1581.0 295.9,1581.1 299.4,1581.2 302.9,1581.3 306.4,1581.4 309.9,1581.6 313.4,1581.7 316.9,1581.8 320.5,1582.0 324.0,1582.1 327.5,1582.3 331.0,1582.5 334.5,1582.6 338.0,1582.8 341.5,1583.0 345.0,1583.2 348.5,1583.3 352.0,1583.5 355.5,1583.7 359.0,1583.9 362.6,1584.1 366.1,1584.3 369.6,1584.5 373.1,1584.7 376.6,1584.9 380.1,1585.1 383.6,1585.3 387.1,1585.5 390.6,1585.7 394.1,1585.9 397.6,1586.0 401.1,1586.2 404.6,1586.4 408.2,1586.6 411.7,1586.8 415.2,1587.0 418.7,1587.2 422.2,1587.4 425.7,1587.5 429.2,1587.7 432.7,1587.9 436.2,1588.1 439.7,1588.3 443.2,1588.5 446.7,1588.7 450.2,1588.9 453.8,1589.1 457.3,1589.3 460.8,1589.5 464.3,1589.6 467.8,1589.8 471.3,1590.0 474.8,1590.2 478.3,1590.4 481.8,1590.6 485.3,1590.8 488.8,1591.0 492.3,1591.2 495.9,1591.4 499.4,1591.7 502.9,1591.9 506.4,1592.1 509.9,1592.3 513.4,1592.5 516.9,1592.7 520.4,1592.9 523.9,1593.2 527.4,1593.4 530.9,1593.6 534.4,1593.8 538.0,1594.1 541.5,1594.3 545.0,1594.5 548.5,1594.8 552.0,1595.0 555.5,1595.3 559.0,1595.6 562.5,1595.8 566.0,1596.1 569.5,1596.4 573.0,1596.7 576.5,1597.0 580.0,1597.3 583.6,1597.7 587.1,1598.0 590.6,1598.4 594.1,1598.7 597.6,1599.1 601.1,1599.5 604.6,1599.9 608.1,1600.3 611.6,1600.7 615.1,1601.2 618.6,1601.7 622.1,1602.2 625.7,1602.7 629.2,1603.2 632.7,1603.8 636.2,1604.4 639.7,1605.0 643.2,1605.6 646.7,1606.3 650.2,1606.9 653.7,1607.6 657.2,1608.2 660.7,1608.9" fill="none" stroke="#f000f0" stroke-width="3.2" stroke-linecap="round" stroke-linejoin="round"/><g font-family="Liberation Sans, sans-serif" font-size="23" fill="#000"><text x="78.6" y="1476.48" text-anchor="end">4</text><text x="78.6" y="1530.64" text-anchor="end">2</text><text x="78.6" y="1584.80" text-anchor="end">0</text><text x="78.6" y="1638.96" text-anchor="end">-2</text><text x="78.6" y="1693.12" text-anchor="end">-4</text><text x="78.6" y="1747.28" text-anchor="end">-6</text><text x="78.6" y="1801.44" text-anchor="end">-8</text><text x="78.6" y="1855.60" text-anchor="end">-10</text><text x="99.85" y="1870.90" text-anchor="middle">0</text><text x="170.01" y="1870.90" text-anchor="middle">10</text><text x="240.17" y="1870.90" text-anchor="middle">20</text><text x="310.33" y="1870.90" text-anchor="middle">30</text><text x="380.49" y="1870.90" text-anchor="middle">40</text><text x="450.65" y="1870.90" text-anchor="middle">50</text><text x="520.81" y="1870.90" text-anchor="middle">60</text><text x="590.97" y="1870.90" text-anchor="middle">70</text><text x="661.13" y="1870.90" text-anchor="middle">80</text></g><text transform="translate(30.4,206.80) rotate(-90)" font-family="Liberation Sans, sans-serif" font-size="27.4" text-anchor="middle">NO<tspan font-size="19.5" dy="5.5">2</tspan><tspan dy="-5.5"> change (µg/m</tspan><tspan font-size="19.5" dy="-13.2">3</tspan><tspan dy="13.2">)</tspan></text><text transform="translate(30.4,690.90) rotate(-90)" font-family="Liberation Sans, sans-serif" font-size="27.4" text-anchor="middle">O<tspan font-size="19.5" dy="5.5">3</tspan><tspan dy="-5.5"> change (µg/m</tspan><tspan font-size="19.5" dy="-13.2">3</tspan><tspan dy="13.2">)</tspan></text><text transform="translate(30.4,1174.80) rotate(-90)" font-family="Liberation Sans, sans-serif" font-size="27.4" text-anchor="middle">PM<tspan font-size="19.5" dy="5.5">2.5</tspan><tspan dy="-5.5"> change (µg/m</tspan><tspan font-size="19.5" dy="-13.2">3</tspan><tspan dy="13.2">)</tspan></text><text transform="translate(30.4,1658.60) rotate(-90)" font-family="Liberation Sans, sans-serif" font-size="27.4" text-anchor="middle">PM<tspan font-size="19.5" dy="5.5">10</tspan><tspan dy="-5.5"> change (µg/m</tspan><tspan font-size="19.5" dy="-13.2">3</tspan><tspan dy="13.2">)</tspan></text><text x="383.6" y="1917.5" font-family="Liberation Sans, sans-serif" font-size="27.3" text-anchor="middle">Stringency Index (in %)</text></svg></body></html>
